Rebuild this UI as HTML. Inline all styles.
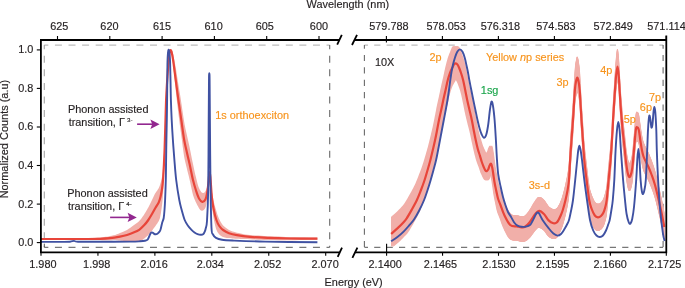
<!DOCTYPE html>
<html><head><meta charset="utf-8"><style>
html,body{margin:0;padding:0;background:#fff;}
svg{display:block;font-family:"Liberation Sans",sans-serif;will-change:transform;}
text{stroke-width:0.16px;paint-order:stroke;}
</style></head><body>
<svg width="685" height="288" viewBox="0 0 685 288">
<line x1="44.3" y1="45.1" x2="329.7" y2="45.1" stroke="#BDBDBD" stroke-width="1.1" stroke-dasharray="7 6.58" stroke-dashoffset="2.95"/>
<line x1="44.3" y1="45.1" x2="44.3" y2="247.3" stroke="#A5A5A5" stroke-width="1.1" stroke-dasharray="7 6.58" stroke-dashoffset="2.95"/>
<line x1="329.7" y1="45.1" x2="329.7" y2="247.3" stroke="#6A6A6A" stroke-width="1.1" stroke-dasharray="7 6.58" stroke-dashoffset="2.95"/>
<line x1="44.3" y1="247.3" x2="329.7" y2="247.3" stroke="#555555" stroke-width="1.0" stroke-dasharray="7 6.58" stroke-dashoffset="2.95"/>
<line x1="44.3" y1="247.3" x2="44.3" y2="243.70000000000002" stroke="#555555" stroke-width="1.0" stroke-dasharray="4 100" stroke-dashoffset="0"/>
<line x1="364.4" y1="45.1" x2="663.1" y2="45.1" stroke="#BDBDBD" stroke-width="1.1" stroke-dasharray="6.2 6.2" stroke-dashoffset="2.6"/>
<line x1="364.4" y1="45.1" x2="364.4" y2="247.3" stroke="#6A6A6A" stroke-width="1.1" stroke-dasharray="6.2 6.2" stroke-dashoffset="2.6"/>
<line x1="663.1" y1="45.1" x2="663.1" y2="247.3" stroke="#6A6A6A" stroke-width="1.1" stroke-dasharray="6.2 6.2" stroke-dashoffset="2.6"/>
<line x1="364.4" y1="247.3" x2="663.1" y2="247.3" stroke="#555555" stroke-width="1.0" stroke-dasharray="6.2 6.2" stroke-dashoffset="2.6"/>
<path d="M41.00,238.10 L45.46,238.10 L51.81,238.11 L59.25,238.11 L66.96,238.11 L74.15,238.11 L80.00,238.10 L84.55,237.99 L88.44,237.89 L91.81,237.80 L94.78,237.71 L97.47,237.61 L100.00,237.50 L102.25,237.26 L104.07,237.04 L105.62,236.84 L107.04,236.63 L108.45,236.39 L110.00,236.10 L111.70,235.76 L113.44,235.37 L115.19,234.93 L116.89,234.29 L118.51,233.68 L120.00,233.10 L121.35,232.57 L122.59,232.07 L123.75,231.59 L124.85,231.11 L125.93,230.51 L127.00,229.88 L128.06,229.22 L129.07,228.57 L130.05,227.91 L131.02,227.23 L132.00,226.53 L133.00,225.80 L134.03,225.07 L135.09,224.32 L136.16,223.55 L137.21,222.75 L138.23,221.91 L139.20,221.03 L140.13,220.06 L141.02,218.93 L141.89,217.76 L142.72,216.57 L143.53,215.38 L144.30,214.22 L145.03,213.08 L145.73,211.96 L146.39,210.84 L147.03,209.71 L147.66,208.55 L148.30,207.39 L148.94,206.22 L149.56,205.02 L150.18,203.79 L150.79,202.55 L151.40,201.31 L152.00,200.07 L152.60,198.83 L153.19,197.57 L153.77,196.31 L154.36,195.06 L154.93,193.83 L155.50,192.90 L156.08,192.05 L156.67,191.23 L157.26,190.42 L157.82,189.62 L158.34,188.80 L158.80,187.96 L159.19,187.12 L159.52,186.30 L159.81,185.46 L160.08,184.63 L160.33,183.81 L160.60,182.90 L160.87,181.89 L161.14,180.79 L161.41,179.61 L161.66,178.39 L161.89,177.15 L162.10,175.90 L162.28,174.71 L162.44,173.57 L162.59,172.41 L162.72,171.15 L162.86,169.70 L163.00,168.00 L163.15,166.16 L163.31,164.03 L163.47,161.72 L163.62,159.34 L163.77,156.99 L163.90,154.80 L164.02,152.75 L164.13,150.74 L164.23,148.77 L164.33,146.84 L164.42,144.92 L164.50,143.00 L164.58,141.19 L164.64,139.50 L164.70,137.84 L164.76,136.07 L164.82,134.10 L164.90,131.80 L164.99,129.11 L165.09,126.07 L165.19,122.81 L165.29,119.45 L165.40,116.09 L165.50,112.83 L165.60,109.60 L165.69,106.30 L165.79,103.00 L165.89,99.77 L165.99,96.69 L166.10,93.83 L166.22,91.22 L166.35,88.80 L166.48,86.53 L166.62,84.36 L166.76,82.26 L166.90,80.17 L167.05,78.11 L167.20,76.14 L167.35,74.23 L167.50,72.36 L167.65,70.51 L167.80,68.67 L167.94,66.78 L168.07,64.85 L168.21,62.93 L168.34,61.10 L168.47,59.40 L168.60,57.90 L168.73,56.59 L168.86,55.44 L168.99,54.42 L169.13,53.53 L169.26,52.76 L169.40,52.10 L169.54,51.55 L169.68,51.12 L169.83,50.81 L169.97,50.63 L170.13,50.20 L170.30,49.80 L170.48,49.47 L170.66,49.21 L170.86,49.06 L171.06,49.05 L171.27,49.22 L171.50,49.60 L171.73,49.89 L171.97,50.31 L172.22,50.90 L172.49,51.69 L172.78,52.71 L173.10,54.00 L173.46,55.63 L173.86,57.62 L174.27,59.85 L174.71,62.22 L175.16,64.62 L175.60,66.96 L176.05,69.35 L176.51,72.38 L176.97,75.46 L177.45,78.55 L177.92,81.61 L178.40,84.60 L178.88,87.51 L179.36,90.38 L179.84,93.22 L180.33,96.29 L180.82,99.47 L181.30,102.68 L181.79,105.98 L182.28,109.39 L182.77,112.81 L183.26,116.11 L183.73,119.20 L184.20,122.05 L184.65,124.63 L185.08,126.86 L185.51,128.88 L185.93,130.78 L186.36,132.68 L186.80,134.70 L187.25,136.77 L187.70,138.78 L188.15,140.78 L188.61,142.83 L189.10,144.99 L189.60,147.32 L190.14,149.93 L190.70,152.78 L191.29,155.75 L191.87,158.70 L192.45,161.50 L193.00,164.00 L193.52,166.62 L194.03,169.03 L194.53,171.27 L195.01,173.40 L195.50,175.46 L196.00,177.50 L196.50,179.53 L196.99,181.51 L197.48,183.43 L197.98,185.25 L198.48,186.71 L199.00,188.00 L199.53,189.15 L200.09,190.20 L200.64,191.12 L201.20,191.89 L201.76,192.51 L202.30,192.87 L202.84,193.01 L203.40,192.97 L203.94,192.78 L204.47,192.44 L204.96,191.96 L205.40,191.35 L205.78,190.58 L206.12,189.80 L206.42,189.12 L206.69,188.30 L206.95,187.39 L207.20,186.42 L207.44,185.35 L207.66,184.14 L207.86,182.82 L208.05,181.47 L208.23,180.12 L208.40,178.84 L208.56,177.60 L208.71,176.37 L208.84,175.13 L208.97,173.98 L209.09,172.99 L209.20,172.25 L209.30,171.72 L209.38,171.35 L209.46,171.13 L209.53,171.10 L209.61,171.25 L209.70,171.60 L209.80,171.63 L209.91,171.79 L210.02,172.12 L210.14,172.64 L210.27,173.38 L210.40,174.38 L210.54,175.77 L210.69,177.53 L210.84,179.53 L210.99,181.59 L211.15,183.61 L211.30,185.40 L211.44,186.96 L211.57,188.41 L211.71,189.78 L211.85,191.08 L212.01,192.35 L212.20,193.60 L212.41,194.84 L212.64,196.04 L212.89,197.21 L213.17,198.61 L213.47,200.18 L213.80,201.73 L214.17,203.32 L214.58,204.95 L215.02,206.58 L215.47,208.14 L215.94,209.59 L216.40,211.27 L216.86,212.82 L217.31,214.24 L217.78,215.56 L218.26,216.80 L218.76,218.00 L219.30,219.19 L219.86,220.33 L220.42,221.40 L221.01,222.43 L221.64,223.45 L222.33,224.49 L223.10,225.52 L223.94,226.29 L224.84,227.06 L225.79,227.82 L226.81,228.57 L227.88,229.29 L229.00,229.99 L230.14,230.62 L231.29,231.05 L232.50,231.46 L233.81,231.85 L235.26,232.25 L236.90,232.66 L238.73,233.09 L240.72,233.53 L242.85,233.97 L245.11,234.40 L247.50,234.69 L250.00,234.96 L252.60,235.20 L255.32,235.41 L258.16,235.61 L261.13,235.80 L264.24,235.98 L267.50,236.15 L270.90,236.32 L274.45,236.47 L278.13,236.62 L281.95,236.76 L285.91,236.88 L290.00,237.00 L294.60,237.11 L299.79,237.21 L305.11,237.31 L310.11,237.39 L314.36,237.45 L317.40,237.50 L317.40,239.90 L314.36,239.93 L310.11,239.99 L305.11,240.05 L299.79,240.11 L294.60,240.16 L290.00,240.19 L285.91,240.19 L281.95,240.18 L278.13,240.15 L274.45,240.11 L270.90,240.06 L267.50,239.99 L264.24,239.92 L261.13,239.83 L258.16,239.73 L255.32,239.61 L252.60,239.47 L250.00,239.31 L247.50,239.12 L245.11,238.89 L242.85,238.90 L240.72,238.89 L238.73,238.84 L236.90,238.78 L235.26,238.70 L233.81,238.59 L232.50,238.46 L231.29,238.29 L230.14,238.09 L229.00,238.06 L227.88,238.00 L226.81,237.89 L225.79,237.73 L224.84,237.51 L223.94,237.26 L223.10,236.96 L222.33,236.65 L221.64,236.31 L221.01,235.92 L220.42,235.48 L219.86,234.97 L219.30,234.39 L218.76,233.78 L218.26,233.17 L217.78,232.49 L217.31,231.71 L216.86,230.83 L216.40,229.80 L215.94,228.54 L215.47,226.79 L215.02,224.92 L214.58,223.01 L214.17,221.10 L213.80,219.27 L213.47,217.49 L213.17,215.72 L212.89,213.79 L212.64,211.62 L212.41,209.50 L212.20,207.40 L212.01,205.39 L211.85,203.47 L211.71,201.60 L211.57,199.70 L211.44,197.72 L211.30,195.60 L211.15,193.20 L210.99,190.55 L210.84,187.65 L210.69,184.84 L210.54,182.28 L210.40,180.15 L210.27,178.45 L210.14,177.03 L210.02,175.87 L209.91,174.93 L209.80,174.19 L209.70,173.60 L209.61,173.70 L209.53,173.95 L209.46,174.35 L209.38,174.94 L209.30,175.73 L209.20,176.75 L209.09,178.05 L208.97,179.63 L208.84,181.42 L208.71,183.33 L208.56,185.30 L208.40,187.16 L208.23,188.99 L208.05,190.90 L207.86,192.86 L207.66,194.83 L207.44,196.75 L207.20,198.58 L206.95,200.35 L206.69,202.08 L206.42,203.78 L206.12,205.42 L205.78,206.69 L205.40,207.65 L204.96,208.48 L204.47,209.20 L203.94,209.81 L203.40,210.27 L202.84,210.58 L202.30,210.73 L201.76,210.69 L201.20,210.49 L200.64,210.13 L200.09,209.63 L199.53,209.00 L199.00,208.25 L198.48,207.35 L197.98,206.30 L197.48,205.47 L196.99,204.54 L196.50,203.54 L196.00,202.50 L195.50,201.45 L195.01,200.37 L194.53,199.23 L194.03,197.97 L193.52,196.57 L193.00,195.00 L192.45,192.72 L191.87,190.15 L191.29,187.44 L190.70,184.70 L190.14,182.07 L189.60,179.68 L189.10,177.55 L188.61,175.58 L188.15,173.72 L187.70,171.93 L187.25,170.14 L186.80,168.30 L186.36,166.50 L185.93,164.81 L185.51,163.12 L185.08,161.32 L184.65,159.30 L184.20,156.95 L183.73,154.00 L183.26,150.55 L182.77,146.88 L182.28,143.10 L181.79,139.32 L181.30,135.65 L180.82,132.09 L180.33,128.54 L179.84,124.91 L179.36,121.10 L178.88,117.27 L178.40,113.40 L177.92,109.46 L177.45,105.45 L176.97,101.41 L176.51,97.40 L176.05,93.44 L175.60,89.20 L175.16,84.91 L174.71,80.55 L174.27,76.26 L173.86,72.19 L173.46,68.45 L173.10,65.20 L172.78,62.46 L172.49,60.13 L172.22,58.14 L171.97,56.43 L171.73,54.94 L171.50,53.60 L171.27,52.61 L171.06,51.87 L170.86,51.34 L170.66,50.98 L170.48,50.75 L170.30,50.60 L170.13,50.55 L169.97,50.71 L169.83,51.34 L169.68,52.08 L169.54,52.93 L169.40,53.90 L169.26,54.97 L169.13,56.15 L168.99,57.43 L168.86,58.85 L168.73,60.40 L168.60,62.10 L168.47,64.00 L168.34,66.09 L168.21,68.32 L168.07,70.63 L167.94,72.99 L167.80,75.33 L167.65,77.66 L167.50,80.01 L167.35,82.40 L167.20,84.82 L167.05,87.30 L166.90,89.83 L166.76,92.40 L166.62,94.97 L166.48,97.59 L166.35,100.31 L166.22,103.15 L166.10,106.17 L165.99,109.40 L165.89,112.82 L165.79,116.38 L165.69,119.99 L165.60,123.61 L165.50,127.17 L165.40,130.76 L165.29,134.48 L165.19,138.19 L165.09,141.78 L164.99,145.17 L164.90,148.35 L164.82,151.07 L164.76,153.40 L164.70,155.49 L164.64,157.48 L164.58,159.52 L164.50,161.75 L164.42,164.13 L164.33,166.54 L164.23,169.00 L164.13,171.53 L164.02,174.14 L163.90,176.85 L163.77,179.77 L163.62,182.91 L163.47,186.14 L163.31,189.32 L163.15,192.32 L163.00,195.00 L162.86,196.99 L162.72,198.70 L162.59,200.24 L162.44,201.69 L162.28,203.14 L162.10,204.70 L161.89,206.37 L161.66,208.08 L161.41,209.80 L161.14,211.50 L160.87,213.14 L160.60,214.70 L160.33,216.14 L160.08,217.47 L159.81,218.46 L159.52,219.30 L159.19,220.12 L158.80,220.96 L158.34,221.80 L157.82,222.62 L157.26,223.42 L156.67,224.23 L156.08,225.05 L155.50,225.90 L154.93,226.77 L154.36,227.54 L153.77,228.33 L153.19,229.12 L152.60,229.90 L152.00,230.67 L151.40,231.42 L150.79,232.18 L150.18,232.93 L149.56,233.66 L148.94,234.36 L148.30,235.02 L147.66,235.65 L147.03,236.24 L146.39,236.80 L145.73,237.37 L145.03,237.96 L144.30,238.53 L143.53,239.10 L142.72,239.67 L141.89,240.21 L141.02,240.71 L140.13,241.16 L139.20,241.40 L138.23,241.52 L137.21,241.56 L136.16,241.53 L135.09,241.47 L134.03,241.38 L133.00,241.30 L132.00,241.34 L131.02,241.37 L130.05,241.38 L129.07,241.37 L128.06,241.32 L127.00,241.25 L125.93,241.15 L124.85,241.03 L123.75,240.96 L122.59,240.87 L121.35,240.75 L120.00,240.60 L118.51,240.43 L116.89,240.24 L115.19,240.02 L113.44,240.12 L111.70,240.23 L110.00,240.30 L108.45,240.34 L107.04,240.35 L105.62,240.34 L104.07,240.29 L102.25,240.21 L100.00,240.10 L97.47,240.11 L94.78,240.10 L91.81,240.07 L88.44,240.03 L84.55,239.97 L80.00,239.90 L74.15,239.91 L66.96,239.91 L59.25,239.91 L51.81,239.91 L45.46,239.90 L41.00,239.90 Z" fill="#F1AFA9" stroke="none"/>
<clipPath id="rc"><rect x="391.1" y="30" width="274" height="222"/></clipPath><g clip-path="url(#rc)">
<path d="M388.90,218.70 L389.59,218.12 L390.54,217.31 L391.66,216.36 L392.87,215.32 L394.08,214.26 L395.20,213.24 L396.28,212.23 L397.39,211.16 L398.50,210.07 L399.57,209.00 L400.55,207.99 L401.40,207.09 L402.07,206.36 L402.59,205.80 L403.02,205.30 L403.43,204.77 L403.90,204.11 L404.50,203.21 L405.23,202.05 L406.05,200.71 L406.93,199.23 L407.83,197.68 L408.73,196.10 L409.60,194.54 L410.46,193.00 L411.34,191.42 L412.22,189.81 L413.09,188.19 L413.92,186.58 L414.70,184.98 L415.42,183.41 L416.09,181.85 L416.73,180.30 L417.35,178.73 L417.97,177.15 L418.60,175.54 L419.25,173.87 L419.90,172.16 L420.56,170.42 L421.20,168.67 L421.81,166.93 L422.40,165.23 L422.95,163.56 L423.47,161.91 L423.96,160.28 L424.44,158.65 L424.92,157.02 L425.40,155.38 L425.88,153.74 L426.36,152.09 L426.84,150.45 L427.30,148.81 L427.76,147.16 L428.20,145.52 L428.62,143.87 L429.03,142.23 L429.43,140.58 L429.82,138.93 L430.21,137.29 L430.60,135.64 L430.99,133.99 L431.39,132.35 L431.78,130.70 L432.16,129.05 L432.54,127.40 L432.90,125.75 L433.25,124.11 L433.59,122.46 L433.93,120.81 L434.25,119.16 L434.58,117.51 L434.90,115.85 L435.22,114.20 L435.53,112.55 L435.84,110.90 L436.15,109.25 L436.47,107.60 L436.80,105.95 L437.15,104.30 L437.51,102.65 L437.89,101.00 L438.26,99.33 L438.64,97.67 L439.00,96.00 L439.35,94.33 L439.70,92.67 L440.04,91.00 L440.39,89.33 L440.74,87.67 L441.10,86.00 L441.47,84.33 L441.86,82.67 L442.24,81.00 L442.63,79.33 L443.02,77.67 L443.40,76.00 L443.77,74.30 L444.14,72.57 L444.50,70.84 L444.86,69.14 L445.23,67.52 L445.60,66.00 L445.98,64.50 L446.36,62.98 L446.74,61.53 L447.12,60.14 L447.51,58.82 L447.90,57.55 L448.30,56.34 L448.72,55.19 L449.14,54.11 L449.56,53.09 L449.95,52.14 L450.30,51.25 L450.61,50.44 L450.89,49.70 L451.14,49.02 L451.39,48.41 L451.64,47.85 L451.90,47.35 L452.18,46.90 L452.46,46.50 L452.74,46.16 L453.03,46.06 L453.32,46.07 L453.60,46.14 L453.88,46.27 L454.17,46.47 L454.46,46.73 L454.74,47.05 L455.02,47.43 L455.30,47.85 L455.57,48.32 L455.82,48.83 L456.08,49.40 L456.33,50.03 L456.61,50.74 L456.90,51.53 L457.22,52.42 L457.57,53.42 L457.93,54.46 L458.30,55.50 L458.66,56.56 L459.00,57.62 L459.33,58.65 L459.64,59.66 L459.95,60.70 L460.26,61.79 L460.57,62.98 L460.90,64.31 L461.24,65.81 L461.59,67.45 L461.94,69.20 L462.30,70.99 L462.65,72.78 L463.00,74.52 L463.34,76.22 L463.66,77.92 L463.99,79.62 L464.31,81.32 L464.65,83.02 L465.00,84.72 L465.36,86.42 L465.74,88.13 L466.12,89.83 L466.51,91.54 L466.91,93.24 L467.30,94.95 L467.70,96.66 L468.11,98.33 L468.53,100.00 L468.94,101.67 L469.34,103.33 L469.73,105.00 L470.09,106.67 L470.43,108.33 L470.76,110.00 L471.09,111.67 L471.42,113.33 L471.76,115.00 L472.11,116.68 L472.46,118.37 L472.82,120.06 L473.17,121.74 L473.53,123.39 L473.90,125.00 L474.27,126.59 L474.64,128.16 L475.02,129.71 L475.39,131.21 L475.77,132.65 L476.15,134.00 L476.52,135.24 L476.91,136.39 L477.29,137.46 L477.67,138.50 L478.04,139.54 L478.39,140.60 L478.73,141.60 L479.06,142.56 L479.38,143.53 L479.70,144.48 L480.02,145.39 L480.34,146.25 L480.69,147.07 L481.04,147.87 L481.40,148.63 L481.75,149.35 L482.08,150.01 L482.39,150.62 L482.68,151.16 L482.95,151.67 L483.20,152.11 L483.45,152.50 L483.69,152.83 L483.93,153.09 L484.18,153.29 L484.41,153.43 L484.64,153.52 L484.88,153.60 L485.12,153.60 L485.37,153.53 L485.63,153.36 L485.91,153.11 L486.19,152.78 L486.48,152.39 L486.75,151.95 L487.01,151.47 L487.25,150.91 L487.47,150.25 L487.68,149.54 L487.89,148.84 L488.11,148.18 L488.34,147.64 L488.59,147.14 L488.84,146.64 L489.11,146.19 L489.37,145.86 L489.63,145.70 L489.88,145.87 L490.11,146.41 L490.34,147.18 L490.57,148.12 L490.79,149.19 L491.00,150.31 L491.21,151.43 L491.41,152.59 L491.60,153.84 L491.79,155.15 L491.97,156.49 L492.15,157.84 L492.34,159.17 L492.52,160.48 L492.69,161.80 L492.87,163.12 L493.05,164.46 L493.25,165.82 L493.46,167.20 L493.71,168.61 L493.97,170.05 L494.24,171.51 L494.52,172.99 L494.81,174.47 L495.10,175.97 L495.39,177.49 L495.68,179.04 L495.97,180.59 L496.27,182.04 L496.60,183.46 L496.95,184.81 L497.32,186.06 L497.70,187.19 L498.10,188.29 L498.53,189.43 L499.00,190.67 L499.51,192.10 L500.05,193.73 L500.62,195.51 L501.22,197.41 L501.87,199.36 L502.58,201.34 L503.36,203.28 L504.22,205.27 L505.16,207.21 L506.16,209.14 L507.20,210.96 L508.27,212.54 L509.34,213.76 L510.45,214.55 L511.62,214.99 L512.81,215.20 L513.99,215.28 L515.11,215.30 L516.13,215.40 L517.04,215.60 L517.88,215.79 L518.66,215.97 L519.39,216.12 L520.10,216.24 L520.79,216.30 L521.43,216.34 L522.01,216.38 L522.57,216.38 L523.12,216.30 L523.70,216.12 L524.33,215.80 L525.02,215.21 L525.73,214.51 L526.47,213.70 L527.24,212.77 L528.05,211.72 L528.89,210.53 L529.82,209.10 L530.83,207.41 L531.87,205.60 L532.90,203.82 L533.88,202.20 L534.75,200.88 L535.50,199.83 L536.14,198.93 L536.74,198.19 L537.31,197.61 L537.92,197.20 L538.59,196.97 L539.34,196.94 L540.14,197.24 L540.96,197.74 L541.79,198.38 L542.63,199.11 L543.44,199.90 L544.23,200.83 L545.03,201.95 L545.81,203.16 L546.60,204.37 L547.39,205.49 L548.19,206.40 L549.01,207.13 L549.86,207.77 L550.71,208.30 L551.54,208.73 L552.32,209.07 L553.03,209.30 L553.67,209.41 L554.25,209.40 L554.78,209.29 L555.27,209.11 L555.73,208.87 L556.16,208.60 L556.56,208.30 L556.91,207.94 L557.23,207.54 L557.54,207.08 L557.85,206.57 L558.18,206.00 L558.54,205.37 L558.91,204.68 L559.29,203.93 L559.66,203.14 L560.04,202.25 L560.40,201.33 L560.75,200.43 L561.09,199.56 L561.42,198.66 L561.76,197.69 L562.12,196.58 L562.50,195.30 L562.92,193.79 L563.38,192.08 L563.85,190.24 L564.32,188.34 L564.78,186.45 L565.20,184.63 L565.59,182.86 L565.97,181.10 L566.33,179.34 L566.67,177.59 L567.00,175.84 L567.30,174.10 L567.58,172.48 L567.83,171.00 L568.06,169.53 L568.28,167.93 L568.49,166.05 L568.70,163.75 L568.90,160.95 L569.08,157.73 L569.25,154.24 L569.42,150.61 L569.60,146.97 L569.80,143.48 L570.01,140.09 L570.24,136.70 L570.48,133.31 L570.71,129.91 L570.96,126.52 L571.20,123.13 L571.44,119.85 L571.68,116.71 L571.92,113.45 L572.17,110.03 L572.43,106.33 L572.70,102.20 L573.00,97.29 L573.33,91.66 L573.67,85.74 L574.00,79.97 L574.32,74.81 L574.60,70.68 L574.84,67.71 L575.05,65.56 L575.24,64.00 L575.43,62.83 L575.61,61.81 L575.80,60.72 L576.00,59.59 L576.20,58.60 L576.40,57.77 L576.60,57.10 L576.80,56.79 L577.00,56.84 L577.20,57.11 L577.40,57.58 L577.60,58.24 L577.80,59.08 L578.00,60.07 L578.20,61.20 L578.40,62.47 L578.61,63.89 L578.82,65.47 L579.02,67.21 L579.22,69.10 L579.40,71.16 L579.57,73.45 L579.72,75.97 L579.87,78.66 L580.01,81.43 L580.15,84.19 L580.30,86.88 L580.44,89.44 L580.58,91.92 L580.72,94.40 L580.86,96.96 L581.02,99.67 L581.20,102.60 L581.40,105.81 L581.63,109.24 L581.87,112.75 L582.11,116.30 L582.36,119.86 L582.60,123.34 L582.82,126.75 L583.03,130.17 L583.24,133.58 L583.47,137.00 L583.71,140.42 L584.00,143.86 L584.33,147.32 L584.69,150.79 L585.08,154.27 L585.48,157.75 L585.89,161.24 L586.30,164.72 L586.72,168.35 L587.16,172.14 L587.60,175.93 L588.04,179.56 L588.48,182.87 L588.90,185.70 L589.29,187.95 L589.65,189.72 L590.01,191.08 L590.37,192.24 L590.76,193.37 L591.20,194.59 L591.69,195.93 L592.23,197.29 L592.80,198.60 L593.38,199.83 L593.95,200.91 L594.50,201.79 L595.03,202.46 L595.55,202.95 L596.06,203.30 L596.57,203.53 L597.09,203.68 L597.60,203.77 L598.12,203.79 L598.66,203.72 L599.19,203.55 L599.71,203.31 L600.22,202.91 L600.70,202.47 L601.16,201.97 L601.60,201.42 L602.03,200.80 L602.44,200.13 L602.83,199.41 L603.20,198.63 L603.55,197.80 L603.87,196.91 L604.17,195.97 L604.46,194.98 L604.73,193.96 L605.00,192.89 L605.25,191.93 L605.48,191.09 L605.69,190.21 L605.91,189.12 L606.14,187.68 L606.40,185.71 L606.70,182.97 L607.03,179.55 L607.38,175.76 L607.71,171.94 L608.03,168.39 L608.30,165.45 L608.52,163.18 L608.70,161.33 L608.86,159.75 L609.00,158.32 L609.14,156.89 L609.30,155.32 L609.47,153.63 L609.64,151.94 L609.82,150.25 L609.99,148.56 L610.15,146.87 L610.30,145.19 L610.43,143.62 L610.53,142.19 L610.63,140.77 L610.73,139.20 L610.85,137.36 L611.00,135.09 L611.19,132.20 L611.42,128.74 L611.67,125.00 L611.91,121.17 L612.13,117.61 L612.30,114.64 L612.42,112.33 L612.49,110.45 L612.54,108.87 L612.58,107.44 L612.63,106.00 L612.70,104.40 L612.79,102.79 L612.89,101.32 L612.99,99.85 L613.11,98.23 L613.25,96.32 L613.40,93.98 L613.58,91.06 L613.79,87.63 L614.02,83.92 L614.25,80.14 L614.48,76.49 L614.70,73.20 L614.90,70.21 L615.10,67.34 L615.30,64.62 L615.50,62.05 L615.70,59.66 L615.90,57.48 L616.11,55.38 L616.33,53.31 L616.55,51.43 L616.77,49.95 L616.99,49.12 L617.20,48.90 L617.41,49.38 L617.62,50.46 L617.83,52.01 L618.03,53.88 L618.22,55.93 L618.40,58.02 L618.56,60.18 L618.71,62.53 L618.84,65.06 L618.98,67.75 L619.13,70.59 L619.30,73.56 L619.50,76.84 L619.72,80.48 L619.95,84.26 L620.18,87.98 L620.40,91.41 L620.60,94.34 L620.77,96.69 L620.93,98.61 L621.08,100.25 L621.22,101.75 L621.36,103.25 L621.50,104.88 L621.64,106.63 L621.76,108.34 L621.89,110.02 L622.01,111.71 L622.15,113.39 L622.30,115.07 L622.47,116.76 L622.64,118.45 L622.83,120.14 L623.02,121.83 L623.21,123.52 L623.40,125.21 L623.58,126.88 L623.76,128.52 L623.94,130.16 L624.13,131.82 L624.31,133.54 L624.50,135.35 L624.69,137.28 L624.88,139.32 L625.07,141.42 L625.27,143.52 L625.48,145.57 L625.70,147.50 L625.93,149.37 L626.18,151.23 L626.43,153.04 L626.69,154.75 L626.95,156.31 L627.20,157.69 L627.45,158.89 L627.70,159.96 L627.94,160.89 L628.19,161.66 L628.44,162.26 L628.70,162.67 L628.96,162.92 L629.22,162.99 L629.49,162.89 L629.76,162.61 L630.03,162.08 L630.30,161.37 L630.58,160.54 L630.86,159.60 L631.14,158.48 L631.43,157.14 L631.72,155.50 L632.00,153.51 L632.28,151.08 L632.56,148.24 L632.84,145.11 L633.13,141.80 L633.41,138.44 L633.70,135.14 L634.00,131.66 L634.31,127.85 L634.62,123.98 L634.93,120.33 L635.22,117.17 L635.50,114.76 L635.75,113.20 L635.99,112.30 L636.21,111.89 L636.43,111.79 L636.66,111.84 L636.90,111.94 L637.16,112.03 L637.42,112.24 L637.69,112.60 L637.97,113.13 L638.24,113.87 L638.50,114.84 L638.75,116.12 L639.00,117.72 L639.25,119.52 L639.50,121.42 L639.75,123.32 L640.00,125.12 L640.26,126.87 L640.53,128.68 L640.79,130.49 L641.06,132.24 L641.33,133.90 L641.60,135.42 L641.86,136.76 L642.10,137.98 L642.34,139.09 L642.60,140.14 L642.88,141.17 L643.20,142.22 L643.56,143.27 L643.97,144.29 L644.39,145.29 L644.83,146.24 L645.27,147.12 L645.70,148.00 L646.11,148.83 L646.51,149.61 L646.92,150.38 L647.33,151.17 L647.75,152.03 L648.20,153.00 L648.67,154.07 L649.14,155.20 L649.64,156.41 L650.14,157.69 L650.67,159.05 L651.20,160.50 L651.75,162.02 L652.32,163.59 L652.90,165.24 L653.49,167.01 L654.09,168.92 L654.70,171.00 L655.33,173.33 L655.97,175.90 L656.63,178.62 L657.28,181.37 L657.91,184.07 L658.50,186.60 L659.05,188.97 L659.58,191.24 L660.08,193.46 L660.57,195.64 L661.04,197.82 L661.50,200.00 L661.97,202.34 L662.46,204.84 L662.94,207.34 L663.37,209.64 L663.73,211.59 L664.00,213.00 L664.00,239.07 L663.73,237.69 L663.37,235.78 L662.94,233.51 L662.46,231.07 L661.97,228.61 L661.50,226.32 L661.04,224.18 L660.57,222.06 L660.08,219.92 L659.58,217.76 L659.05,215.53 L658.50,213.22 L657.91,210.75 L657.28,208.12 L656.63,205.43 L655.97,202.78 L655.33,200.27 L654.70,198.00 L654.09,195.98 L653.49,194.13 L652.90,192.42 L652.32,190.83 L651.75,189.31 L651.20,187.85 L650.67,186.45 L650.14,185.14 L649.64,183.91 L649.14,182.76 L648.67,181.67 L648.20,180.65 L647.75,179.72 L647.33,178.90 L646.92,178.15 L646.51,177.43 L646.11,176.69 L645.70,175.90 L645.27,175.07 L644.83,174.23 L644.39,173.34 L643.97,172.43 L643.56,171.48 L643.20,170.50 L642.88,169.52 L642.60,168.54 L642.34,167.53 L642.10,166.46 L641.86,165.30 L641.60,164.00 L641.33,162.54 L641.06,160.93 L640.79,159.22 L640.53,157.46 L640.26,155.71 L640.00,154.00 L639.75,152.25 L639.50,150.39 L639.25,148.54 L639.00,146.79 L638.75,145.24 L638.50,144.00 L638.24,143.08 L637.97,142.39 L637.69,141.91 L637.42,141.61 L637.16,141.45 L636.90,141.40 L636.66,141.33 L636.43,141.24 L636.21,141.29 L635.99,141.65 L635.75,142.50 L635.50,144.00 L635.22,146.35 L634.93,149.45 L634.62,153.04 L634.31,156.84 L634.00,160.58 L633.70,164.00 L633.41,167.24 L633.13,170.54 L632.84,173.78 L632.56,176.85 L632.28,179.63 L632.00,182.00 L631.72,183.93 L631.43,185.51 L631.14,186.79 L630.86,187.85 L630.58,188.73 L630.30,189.50 L630.03,190.15 L629.76,190.62 L629.49,190.92 L629.22,191.05 L628.96,191.01 L628.70,190.80 L628.44,190.41 L628.19,189.84 L627.94,189.11 L627.70,188.21 L627.45,187.17 L627.20,186.00 L626.95,184.66 L626.69,183.13 L626.43,181.45 L626.18,179.67 L625.93,177.84 L625.70,176.00 L625.48,174.09 L625.27,172.07 L625.07,170.00 L624.88,167.93 L624.69,165.91 L624.50,164.00 L624.31,162.22 L624.13,160.52 L623.94,158.88 L623.76,157.26 L623.58,155.64 L623.40,154.00 L623.21,152.33 L623.02,150.67 L622.83,149.00 L622.64,147.33 L622.47,145.67 L622.30,144.00 L622.15,142.33 L622.01,140.67 L621.89,139.00 L621.76,137.33 L621.64,135.68 L621.50,134.04 L621.36,132.52 L621.22,131.13 L621.08,129.75 L620.93,128.23 L620.77,126.43 L620.60,124.22 L620.40,121.45 L620.18,118.19 L619.95,114.66 L619.72,111.06 L619.50,107.60 L619.30,104.48 L619.13,101.65 L618.98,98.93 L618.84,96.35 L618.71,93.92 L618.56,91.69 L618.40,89.66 L618.22,87.72 L618.03,85.82 L617.83,84.11 L617.62,82.73 L617.41,81.81 L617.20,81.50 L616.99,81.89 L616.77,82.90 L616.55,84.31 L616.33,86.01 L616.11,87.91 L615.90,89.84 L615.70,91.86 L615.50,94.09 L615.30,96.49 L615.10,99.07 L614.90,101.78 L614.70,104.60 L614.48,107.72 L614.25,111.18 L614.02,114.78 L613.79,118.31 L613.58,121.56 L613.40,124.34 L613.25,126.55 L613.11,128.36 L612.99,129.88 L612.89,131.27 L612.79,132.67 L612.70,134.20 L612.63,135.74 L612.58,137.14 L612.54,138.54 L612.49,140.08 L612.42,141.90 L612.30,144.12 L612.13,146.96 L611.91,150.34 L611.67,154.00 L611.42,157.69 L611.19,161.10 L611.00,163.96 L610.85,166.20 L610.73,168.03 L610.63,169.57 L610.53,170.98 L610.43,172.39 L610.30,173.93 L610.15,175.59 L609.99,177.25 L609.82,178.91 L609.64,180.56 L609.47,182.22 L609.30,183.88 L609.14,185.42 L609.00,186.83 L608.86,188.23 L608.70,189.78 L608.52,191.60 L608.30,193.83 L608.03,196.72 L607.71,200.21 L607.38,203.97 L607.03,207.69 L606.70,211.05 L606.40,213.73 L606.14,215.66 L605.91,217.06 L605.69,218.11 L605.48,218.95 L605.25,219.75 L605.00,220.66 L604.73,221.68 L604.46,222.66 L604.17,223.59 L603.87,224.48 L603.55,225.31 L603.20,226.07 L602.83,226.78 L602.44,227.43 L602.03,228.03 L601.60,228.57 L601.16,229.04 L600.70,229.45 L600.22,229.81 L599.71,230.11 L599.19,230.41 L598.66,230.64 L598.12,230.78 L597.60,230.83 L597.09,230.80 L596.57,230.71 L596.06,230.54 L595.55,230.25 L595.03,229.82 L594.50,229.21 L593.95,228.40 L593.38,227.39 L592.80,226.23 L592.23,224.99 L591.69,223.69 L591.20,222.41 L590.76,221.24 L590.37,220.16 L590.01,219.04 L589.65,217.75 L589.29,216.15 L588.90,214.10 L588.48,211.48 L588.04,208.39 L587.60,204.98 L587.16,201.41 L586.72,197.84 L586.30,194.43 L585.89,191.14 L585.48,187.86 L585.08,184.58 L584.69,181.29 L584.33,178.00 L584.00,174.71 L583.71,171.41 L583.47,168.11 L583.24,164.81 L583.03,161.50 L582.82,158.19 L582.60,154.89 L582.36,151.53 L582.11,148.10 L581.87,144.67 L581.63,141.30 L581.40,138.04 L581.20,135.00 L581.02,132.21 L580.86,129.63 L580.72,127.19 L580.58,124.81 L580.44,122.44 L580.30,120.00 L580.15,117.43 L580.01,114.78 L579.87,112.12 L579.72,109.56 L579.57,107.15 L579.40,105.00 L579.22,103.09 L579.02,101.35 L578.82,99.78 L578.61,98.36 L578.40,97.11 L578.20,96.00 L578.00,95.03 L577.80,94.20 L577.60,93.53 L577.40,93.02 L577.20,92.71 L577.00,92.60 L576.80,92.71 L576.60,93.02 L576.40,93.53 L576.20,94.20 L576.00,95.03 L575.80,96.00 L575.61,96.93 L575.43,97.81 L575.24,98.84 L575.05,100.24 L574.84,102.22 L574.60,105.00 L574.32,108.90 L574.00,113.81 L573.67,119.31 L573.33,124.96 L573.00,130.34 L572.70,135.00 L572.43,138.91 L572.17,142.41 L571.92,145.62 L571.68,148.70 L571.44,151.78 L571.20,155.00 L570.96,158.33 L570.71,161.67 L570.48,165.00 L570.24,168.33 L570.01,171.67 L569.80,175.00 L569.60,178.45 L569.42,182.04 L569.25,185.62 L569.08,189.07 L568.90,192.25 L568.70,195.00 L568.49,197.25 L568.28,199.07 L568.06,200.62 L567.83,202.04 L567.58,203.45 L567.30,205.00 L567.00,206.67 L566.67,208.33 L566.33,210.00 L565.97,211.67 L565.59,213.33 L565.20,215.00 L564.78,216.72 L564.32,218.50 L563.85,220.28 L563.38,222.00 L562.92,223.59 L562.50,225.00 L562.12,226.19 L561.76,227.20 L561.42,228.09 L561.09,228.91 L560.75,229.69 L560.40,230.50 L560.04,231.33 L559.66,232.15 L559.29,232.97 L558.91,233.76 L558.54,234.49 L558.18,235.15 L557.85,235.75 L557.54,236.29 L557.23,236.78 L556.91,237.22 L556.56,237.61 L556.16,237.95 L555.73,238.26 L555.27,238.55 L554.78,238.78 L554.25,238.94 L553.67,239.01 L553.03,238.96 L552.32,238.80 L551.54,238.54 L550.71,238.19 L549.86,237.74 L549.01,237.19 L548.19,236.54 L547.39,235.70 L546.60,234.67 L545.81,233.54 L545.03,232.40 L544.23,231.36 L543.44,230.51 L542.63,229.80 L541.79,229.15 L540.96,228.60 L540.14,228.18 L539.34,227.89 L538.59,227.65 L537.92,227.65 L537.31,227.84 L536.74,228.22 L536.14,228.75 L535.50,229.43 L534.75,230.22 L533.88,231.23 L532.90,232.51 L531.87,233.92 L530.83,235.35 L529.82,236.67 L528.89,237.75 L528.05,238.62 L527.24,239.36 L526.47,240.00 L525.73,240.53 L525.02,240.96 L524.33,241.30 L523.70,241.60 L523.12,241.76 L522.57,241.82 L522.01,241.80 L521.43,241.75 L520.79,241.68 L520.10,241.60 L519.39,241.46 L518.66,241.28 L517.88,241.08 L517.04,240.86 L516.13,240.63 L515.11,240.49 L513.99,240.45 L512.81,240.39 L511.62,240.20 L510.45,239.78 L509.34,239.01 L508.27,237.77 L507.20,236.16 L506.16,234.31 L505.16,232.35 L504.22,230.39 L503.36,228.56 L502.58,226.80 L501.87,224.99 L501.22,223.18 L500.62,221.43 L500.05,219.78 L499.51,218.27 L499.00,216.96 L498.53,215.83 L498.10,214.79 L497.70,213.78 L497.32,212.74 L496.95,211.58 L496.60,210.30 L496.27,208.96 L495.97,207.58 L495.68,206.12 L495.39,204.66 L495.10,203.23 L494.81,201.83 L494.52,200.44 L494.24,199.06 L493.97,197.69 L493.71,196.34 L493.46,195.00 L493.25,193.69 L493.05,192.39 L492.87,191.11 L492.69,189.85 L492.52,188.59 L492.34,187.33 L492.15,186.06 L491.97,184.77 L491.79,183.49 L491.60,182.25 L491.41,181.06 L491.21,179.97 L491.00,178.91 L490.79,177.86 L490.57,176.86 L490.34,175.99 L490.11,175.30 L489.88,174.83 L489.63,174.63 L489.37,174.66 L489.11,174.86 L488.84,175.19 L488.59,175.56 L488.34,175.94 L488.11,176.37 L487.89,176.92 L487.68,177.52 L487.47,178.13 L487.25,178.68 L487.01,179.12 L486.75,179.47 L486.48,179.78 L486.19,180.03 L485.91,180.23 L485.63,180.34 L485.37,180.38 L485.12,180.33 L484.88,180.21 L484.64,180.01 L484.41,179.91 L484.18,179.75 L483.93,179.53 L483.69,179.25 L483.45,178.91 L483.20,178.50 L482.95,178.03 L482.68,177.50 L482.39,176.93 L482.08,176.30 L481.75,175.61 L481.40,174.86 L481.04,174.07 L480.69,173.25 L480.34,172.40 L480.02,171.51 L479.70,170.57 L479.38,169.60 L479.06,168.61 L478.73,167.62 L478.39,166.62 L478.04,165.63 L477.67,164.66 L477.29,163.69 L476.91,162.68 L476.52,161.61 L476.15,160.44 L475.77,159.16 L475.39,157.80 L475.02,156.36 L474.64,154.88 L474.27,153.38 L473.90,151.86 L473.53,150.32 L473.17,148.74 L472.82,147.13 L472.46,145.50 L472.11,143.87 L471.76,142.26 L471.42,140.66 L471.09,139.05 L470.76,137.45 L470.43,135.84 L470.09,134.24 L469.73,132.64 L469.34,131.04 L468.94,129.45 L468.53,127.86 L468.11,126.27 L467.70,124.68 L467.30,123.05 L466.91,121.42 L466.51,119.80 L466.12,118.17 L465.74,116.54 L465.36,114.91 L465.00,113.28 L464.65,111.65 L464.31,110.02 L463.99,108.38 L463.66,106.75 L463.34,105.11 L463.00,103.48 L462.65,101.81 L462.30,100.09 L461.94,98.37 L461.59,96.70 L461.24,95.12 L460.90,93.69 L460.57,92.43 L460.26,91.30 L459.95,90.27 L459.64,89.29 L459.33,88.34 L459.00,87.38 L458.66,86.39 L458.30,85.40 L457.93,84.43 L457.57,83.55 L457.22,82.77 L456.90,82.07 L456.61,81.46 L456.33,80.91 L456.08,80.44 L455.82,80.02 L455.57,79.66 L455.30,79.35 L455.02,79.09 L454.74,78.89 L454.46,78.74 L454.17,78.65 L453.88,78.62 L453.60,78.66 L453.32,78.76 L453.03,78.92 L452.74,79.11 L452.46,79.23 L452.18,79.40 L451.90,79.63 L451.64,79.92 L451.39,80.28 L451.14,80.70 L450.89,81.17 L450.61,81.69 L450.30,82.25 L449.95,82.85 L449.56,83.49 L449.14,84.18 L448.72,84.93 L448.30,85.74 L447.90,86.63 L447.51,87.64 L447.12,88.73 L446.74,89.89 L446.36,91.11 L445.98,92.41 L445.60,93.78 L445.23,95.26 L444.86,96.85 L444.50,98.51 L444.14,100.20 L443.77,101.90 L443.40,103.56 L443.02,105.19 L442.63,106.82 L442.24,108.44 L441.86,110.07 L441.47,111.70 L441.10,113.33 L440.74,114.96 L440.39,116.59 L440.04,118.22 L439.70,119.86 L439.35,121.49 L439.00,123.12 L438.64,124.75 L438.26,126.38 L437.89,128.01 L437.51,129.67 L437.15,131.33 L436.80,133.00 L436.47,134.67 L436.15,136.33 L435.84,138.00 L435.53,139.67 L435.22,141.33 L434.90,143.00 L434.58,144.67 L434.25,146.33 L433.93,148.00 L433.59,149.67 L433.25,151.33 L432.90,153.00 L432.54,154.67 L432.16,156.33 L431.78,158.00 L431.39,159.67 L430.99,161.33 L430.60,163.00 L430.21,164.67 L429.82,166.33 L429.43,168.00 L429.03,169.67 L428.62,171.33 L428.20,173.00 L427.76,174.67 L427.30,176.33 L426.84,178.00 L426.36,179.67 L425.88,181.33 L425.40,183.00 L424.92,184.66 L424.44,186.31 L423.96,187.97 L423.47,189.63 L422.95,191.30 L422.40,193.00 L421.81,194.73 L421.20,196.50 L420.56,198.28 L419.90,200.06 L419.25,201.80 L418.60,203.50 L417.97,205.14 L417.35,206.74 L416.73,208.31 L416.09,209.86 L415.42,211.42 L414.70,213.00 L413.92,214.60 L413.09,216.23 L412.22,217.85 L411.34,219.46 L410.46,221.05 L409.60,222.60 L408.73,224.16 L407.83,225.74 L406.93,227.31 L406.05,228.79 L405.23,230.14 L404.50,231.30 L403.90,232.20 L403.43,232.87 L403.02,233.41 L402.59,233.91 L402.07,234.47 L401.40,235.20 L400.55,236.11 L399.57,237.12 L398.50,238.20 L397.39,239.30 L396.28,240.38 L395.20,241.40 L394.08,242.42 L392.87,243.49 L391.66,244.54 L390.54,245.50 L389.59,246.31 L388.90,246.90 Z" fill="#F1AFA9" stroke="none"/>
<path d="M390.00,218.70 L390.69,218.12 L391.64,217.31 L392.76,216.36 L393.97,215.32 L395.18,214.26 L396.30,213.24 L397.38,212.23 L398.49,211.16 L399.60,210.07 L400.67,209.00 L401.65,207.99 L402.50,207.09 L403.17,206.36 L403.69,205.80 L404.12,205.30 L404.53,204.77 L405.00,204.11 L405.60,203.21 L406.33,202.05 L407.15,200.71 L408.02,199.23 L408.93,197.68 L409.83,196.10 L410.70,194.54 L411.56,193.00 L412.44,191.42 L413.32,189.81 L414.19,188.19 L415.02,186.58 L415.80,184.98 L416.52,183.41 L417.19,181.85 L417.83,180.30 L418.45,178.73 L419.07,177.15 L419.70,175.54 L420.35,173.87 L421.00,172.16 L421.66,170.42 L422.30,168.67 L422.91,166.93 L423.50,165.23 L424.05,163.56 L424.57,161.91 L425.06,160.28 L425.54,158.65 L426.02,157.02 L426.50,155.38 L426.98,153.74 L427.46,152.09 L427.94,150.45 L428.40,148.81 L428.86,147.16 L429.30,145.52 L429.72,143.87 L430.13,142.23 L430.53,140.58 L430.92,138.93 L431.31,137.29 L431.70,135.64 L432.09,133.99 L432.49,132.35 L432.88,130.70 L433.26,129.05 L433.64,127.40 L434.00,125.75 L434.35,124.11 L434.69,122.46 L435.03,120.81 L435.35,119.16 L435.68,117.51 L436.00,115.85 L436.32,114.20 L436.63,112.55 L436.94,110.90 L437.25,109.25 L437.57,107.60 L437.90,105.95 L438.25,104.30 L438.61,102.65 L438.99,101.00 L439.36,99.33 L439.74,97.67 L440.10,96.00 L440.45,94.33 L440.80,92.67 L441.14,91.00 L441.49,89.33 L441.84,87.67 L442.20,86.00 L442.57,84.33 L442.96,82.67 L443.34,81.00 L443.73,79.33 L444.12,77.67 L444.50,76.00 L444.87,74.30 L445.24,72.57 L445.60,70.84 L445.96,69.14 L446.33,67.52 L446.70,66.00 L447.08,64.50 L447.46,62.98 L447.84,61.53 L448.22,60.14 L448.61,58.82 L449.00,57.55 L449.40,56.34 L449.82,55.19 L450.24,54.11 L450.66,53.09 L451.05,52.14 L451.40,51.25 L451.71,50.44 L451.99,49.70 L452.24,49.02 L452.49,48.41 L452.74,47.85 L453.00,47.35 L453.28,46.90 L453.56,46.50 L453.84,46.16 L454.13,46.06 L454.42,46.07 L454.70,46.14 L454.98,46.27 L455.27,46.47 L455.56,46.73 L455.84,47.05 L456.12,47.43 L456.40,47.85 L456.67,48.32 L456.92,48.83 L457.18,49.40 L457.43,50.03 L457.71,50.74 L458.00,51.53 L458.32,52.42 L458.67,53.42 L459.03,54.46 L459.40,55.50 L459.76,56.56 L460.10,57.62 L460.43,58.65 L460.74,59.66 L461.05,60.70 L461.36,61.79 L461.67,62.98 L462.00,64.31 L462.34,65.81 L462.69,67.45 L463.04,69.20 L463.40,70.99 L463.75,72.78 L464.10,74.52 L464.44,76.22 L464.76,77.92 L465.09,79.62 L465.41,81.32 L465.75,83.02 L466.10,84.72 L466.47,86.42 L466.84,88.13 L467.23,89.83 L467.62,91.54 L468.01,93.24 L468.40,94.95 L468.79,96.66 L469.20,98.33 L469.60,100.00 L470.00,101.67 L470.39,103.33 L470.76,105.00 L471.11,106.67 L471.44,108.33 L471.76,110.00 L472.08,111.67 L472.40,113.33 L472.73,115.00 L473.07,116.68 L473.41,118.37 L473.75,120.06 L474.10,121.74 L474.45,123.39 L474.80,125.00 L475.16,126.59 L475.52,128.16 L475.88,129.71 L476.24,131.21 L476.61,132.65 L476.97,134.00 L477.34,135.24 L477.71,136.39 L478.08,137.46 L478.44,138.50 L478.80,139.54 L479.15,140.60 L479.48,141.60 L479.80,142.56 L480.12,143.53 L480.43,144.48 L480.75,145.39 L481.07,146.25 L481.41,147.07 L481.76,147.87 L482.11,148.63 L482.46,149.35 L482.79,150.01 L483.10,150.62 L483.38,151.16 L483.64,151.67 L483.89,152.11 L484.14,152.50 L484.37,152.83 L484.62,153.09 L484.86,153.29 L485.09,153.43 L485.32,153.52 L485.55,153.60 L485.79,153.60 L486.03,153.53 L486.30,153.36 L486.57,153.11 L486.85,152.78 L487.13,152.39 L487.40,151.95 L487.65,151.47 L487.89,150.91 L488.11,150.25 L488.32,149.54 L488.53,148.84 L488.74,148.18 L488.97,147.64 L489.21,147.14 L489.47,146.64 L489.73,146.19 L489.99,145.86 L490.24,145.70 L490.49,145.87 L490.72,146.41 L490.95,147.18 L491.17,148.12 L491.39,149.19 L491.60,150.31 L491.80,151.43 L492.00,152.59 L492.19,153.84 L492.37,155.15 L492.55,156.49 L492.74,157.84 L492.92,159.17 L493.10,160.48 L493.27,161.80 L493.44,163.12 L493.62,164.46 L493.82,165.82 L494.03,167.20 L494.27,168.61 L494.53,170.05 L494.80,171.51 L495.08,172.99 L495.36,174.47 L495.65,175.97 L495.94,177.49 L496.22,179.04 L496.51,180.59 L496.81,182.04 L497.13,183.46 L497.47,184.81 L497.84,186.06 L498.22,187.19 L498.61,188.29 L499.04,189.43 L499.50,190.67 L500.00,192.10 L500.54,193.73 L501.10,195.51 L501.70,197.40 L502.35,199.36 L503.05,201.33 L503.83,203.28 L504.69,205.27 L505.62,207.21 L506.62,209.14 L507.65,210.96 L508.71,212.54 L509.77,213.76 L510.87,214.55 L512.03,214.99 L513.22,215.20 L514.39,215.28 L515.50,215.30 L516.51,215.40 L517.42,215.60 L518.25,215.79 L519.03,215.97 L519.76,216.12 L520.46,216.24 L521.14,216.30 L521.78,216.34 L522.36,216.38 L522.91,216.38 L523.46,216.30 L524.03,216.12 L524.67,215.80 L525.35,215.21 L526.05,214.51 L526.79,213.70 L527.55,212.77 L528.35,211.72 L529.20,210.54 L530.12,209.10 L531.12,207.41 L532.16,205.60 L533.18,203.82 L534.16,202.20 L535.03,200.88 L535.77,199.83 L536.41,198.93 L537.00,198.19 L537.57,197.61 L538.17,197.20 L538.85,196.97 L539.59,196.94 L540.38,197.24 L541.20,197.74 L542.03,198.38 L542.86,199.11 L543.67,199.90 L544.46,200.83 L545.25,201.95 L546.03,203.16 L546.81,204.37 L547.60,205.49 L548.39,206.40 L549.21,207.13 L550.06,207.77 L550.91,208.30 L551.73,208.73 L552.51,209.07 L553.22,209.30 L553.85,209.41 L554.42,209.40 L554.95,209.29 L555.44,209.11 L555.90,208.87 L556.33,208.60 L556.73,208.30 L557.08,207.94 L557.39,207.54 L557.70,207.08 L558.01,206.57 L558.34,206.00 L558.70,205.37 L559.07,204.68 L559.44,203.93 L559.81,203.14 L560.19,202.25 L560.55,201.33 L560.90,200.43 L561.24,199.56 L561.57,198.66 L561.91,197.69 L562.27,196.58 L562.65,195.30 L563.07,193.79 L563.53,192.08 L564.00,190.24 L564.47,188.34 L564.93,186.45 L565.35,184.63 L565.74,182.86 L566.12,181.10 L566.48,179.34 L566.82,177.59 L567.15,175.84 L567.45,174.10 L567.73,172.48 L567.98,171.00 L568.21,169.53 L568.43,167.93 L568.64,166.05 L568.85,163.75 L569.05,160.95 L569.23,157.73 L569.40,154.24 L569.57,150.61 L569.75,146.97 L569.95,143.48 L570.16,140.09 L570.39,136.70 L570.62,133.31 L570.86,129.91 L571.11,126.52 L571.35,123.13 L571.59,119.85 L571.83,116.71 L572.07,113.45 L572.32,110.03 L572.58,106.33 L572.85,102.20 L573.15,97.29 L573.48,91.66 L573.82,85.74 L574.15,79.97 L574.47,74.81 L574.75,70.68 L574.99,67.71 L575.20,65.56 L575.39,64.00 L575.58,62.83 L575.76,61.81 L575.95,60.72 L576.15,59.59 L576.35,58.60 L576.55,57.77 L576.75,57.10 L576.95,56.79 L577.15,56.84 L577.35,57.11 L577.55,57.58 L577.75,58.24 L577.95,59.08 L578.15,60.07 L578.35,61.20 L578.55,62.47 L578.76,63.89 L578.97,65.47 L579.17,67.21 L579.37,69.10 L579.55,71.16 L579.72,73.45 L579.87,75.97 L580.02,78.66 L580.16,81.43 L580.30,84.19 L580.45,86.88 L580.59,89.44 L580.73,91.92 L580.87,94.40 L581.01,96.96 L581.17,99.67 L581.35,102.60 L581.55,105.81 L581.78,109.24 L582.02,112.75 L582.26,116.30 L582.51,119.86 L582.75,123.34 L582.97,126.75 L583.18,130.17 L583.39,133.58 L583.62,137.00 L583.86,140.42 L584.15,143.86 L584.48,147.32 L584.84,150.79 L585.23,154.27 L585.63,157.75 L586.04,161.24 L586.45,164.72 L586.87,168.35 L587.31,172.14 L587.75,175.93 L588.19,179.56 L588.63,182.87 L589.05,185.70 L589.44,187.95 L589.80,189.72 L590.16,191.08 L590.52,192.24 L590.91,193.37 L591.35,194.59 L591.84,195.93 L592.38,197.29 L592.95,198.60 L593.53,199.83 L594.10,200.91 L594.65,201.79 L595.18,202.46 L595.70,202.95 L596.21,203.30 L596.72,203.53 L597.24,203.68 L597.75,203.77 L598.27,203.79 L598.81,203.72 L599.34,203.55 L599.86,203.31 L600.37,202.91 L600.85,202.47 L601.31,201.97 L601.75,201.42 L602.18,200.80 L602.59,200.13 L602.98,199.41 L603.35,198.63 L603.70,197.80 L604.02,196.91 L604.32,195.97 L604.61,194.98 L604.88,193.96 L605.15,192.89 L605.40,191.93 L605.63,191.09 L605.84,190.21 L606.06,189.12 L606.29,187.68 L606.55,185.71 L606.85,182.97 L607.18,179.55 L607.52,175.76 L607.86,171.94 L608.18,168.39 L608.45,165.45 L608.67,163.18 L608.85,161.33 L609.01,159.75 L609.15,158.32 L609.29,156.89 L609.45,155.32 L609.62,153.63 L609.79,151.94 L609.97,150.25 L610.14,148.56 L610.30,146.87 L610.45,145.19 L610.58,143.62 L610.68,142.19 L610.78,140.77 L610.88,139.20 L611.00,137.36 L611.15,135.09 L611.34,132.20 L611.57,128.74 L611.82,125.00 L612.06,121.17 L612.28,117.61 L612.45,114.64 L612.57,112.33 L612.64,110.45 L612.69,108.87 L612.73,107.44 L612.78,106.00 L612.85,104.40 L612.94,102.79 L613.04,101.32 L613.14,99.85 L613.26,98.23 L613.40,96.32 L613.55,93.98 L613.73,91.06 L613.94,87.63 L614.17,83.92 L614.40,80.14 L614.63,76.49 L614.85,73.20 L615.05,70.21 L615.25,67.34 L615.45,64.62 L615.65,62.05 L615.85,59.66 L616.05,57.48 L616.26,55.38 L616.48,53.31 L616.70,51.43 L616.92,49.95 L617.14,49.12 L617.35,48.90 L617.56,49.38 L617.77,50.46 L617.98,52.01 L618.18,53.88 L618.37,55.93 L618.55,58.02 L618.71,60.18 L618.86,62.53 L618.99,65.06 L619.13,67.75 L619.28,70.59 L619.45,73.56 L619.65,76.84 L619.87,80.48 L620.10,84.26 L620.33,87.98 L620.55,91.41 L620.75,94.34 L620.92,96.69 L621.08,98.61 L621.23,100.25 L621.37,101.75 L621.51,103.25 L621.65,104.88 L621.79,106.63 L621.91,108.34 L622.04,110.02 L622.16,111.71 L622.30,113.39 L622.45,115.07 L622.62,116.76 L622.79,118.45 L622.98,120.14 L623.17,121.83 L623.36,123.52 L623.55,125.21 L623.73,126.88 L623.91,128.52 L624.09,130.16 L624.28,131.82 L624.46,133.54 L624.65,135.35 L624.84,137.28 L625.03,139.32 L625.23,141.42 L625.42,143.52 L625.63,145.57 L625.85,147.50 L626.08,149.37 L626.33,151.23 L626.58,153.04 L626.84,154.75 L627.10,156.31 L627.35,157.69 L627.60,158.89 L627.85,159.96 L628.09,160.89 L628.34,161.66 L628.59,162.26 L628.85,162.67 L629.11,162.92 L629.37,162.99 L629.64,162.89 L629.91,162.61 L630.18,162.08 L630.45,161.37 L630.73,160.54 L631.01,159.60 L631.29,158.48 L631.58,157.14 L631.87,155.50 L632.15,153.51 L632.43,151.08 L632.71,148.24 L632.99,145.11 L633.28,141.80 L633.56,138.44 L633.85,135.14 L634.15,131.66 L634.46,127.85 L634.77,123.98 L635.08,120.33 L635.37,117.17 L635.65,114.76 L635.90,113.20 L636.14,112.30 L636.36,111.89 L636.58,111.79 L636.81,111.84 L637.05,111.94 L637.31,112.03 L637.57,112.24 L637.84,112.60 L638.12,113.13 L638.39,113.87 L638.65,114.84 L638.90,116.12 L639.15,117.72 L639.40,119.52 L639.65,121.42 L639.90,123.32 L640.15,125.12 L640.41,126.87 L640.68,128.68 L640.94,130.49 L641.21,132.24 L641.48,133.90 L641.75,135.42 L642.01,136.76 L642.25,137.98 L642.49,139.09 L642.75,140.14 L643.03,141.17 L643.35,142.22 L643.71,143.27 L644.12,144.29 L644.54,145.29 L644.98,146.24 L645.42,147.12 L645.85,148.00 L646.26,148.83 L646.66,149.61 L647.07,150.38 L647.48,151.17 L647.90,152.03 L648.35,153.00 L648.82,154.07 L649.29,155.20 L649.79,156.41 L650.29,157.69 L650.82,159.05 L651.35,160.50 L651.90,162.02 L652.47,163.59 L653.05,165.24 L653.64,167.01 L654.24,168.92 L654.85,171.00 L655.48,173.33 L656.12,175.90 L656.78,178.62 L657.43,181.37 L658.06,184.07 L658.65,186.60 L659.20,188.97 L659.73,191.24 L660.23,193.46 L660.72,195.64 L661.19,197.82 L661.65,200.00 L662.12,202.34 L662.61,204.84 L663.09,207.34 L663.52,209.64 L663.88,211.59 L664.15,213.00 L664.15,239.07 L663.88,237.69 L663.52,235.78 L663.09,233.51 L662.61,231.07 L662.12,228.61 L661.65,226.32 L661.19,224.18 L660.72,222.06 L660.23,219.92 L659.73,217.76 L659.20,215.53 L658.65,213.22 L658.06,210.75 L657.43,208.12 L656.78,205.43 L656.12,202.78 L655.48,200.27 L654.85,198.00 L654.24,195.98 L653.64,194.13 L653.05,192.42 L652.47,190.83 L651.90,189.31 L651.35,187.85 L650.82,186.45 L650.29,185.14 L649.79,183.91 L649.29,182.76 L648.82,181.67 L648.35,180.65 L647.90,179.72 L647.48,178.90 L647.07,178.15 L646.66,177.43 L646.26,176.69 L645.85,175.90 L645.42,175.07 L644.98,174.23 L644.54,173.34 L644.12,172.43 L643.71,171.48 L643.35,170.50 L643.03,169.52 L642.75,168.54 L642.49,167.53 L642.25,166.46 L642.01,165.30 L641.75,164.00 L641.48,162.54 L641.21,160.93 L640.94,159.22 L640.68,157.46 L640.41,155.71 L640.15,154.00 L639.90,152.25 L639.65,150.39 L639.40,148.54 L639.15,146.79 L638.90,145.24 L638.65,144.00 L638.39,143.08 L638.12,142.39 L637.84,141.91 L637.57,141.61 L637.31,141.45 L637.05,141.40 L636.81,141.33 L636.58,141.24 L636.36,141.29 L636.14,141.65 L635.90,142.50 L635.65,144.00 L635.37,146.35 L635.08,149.45 L634.77,153.04 L634.46,156.84 L634.15,160.58 L633.85,164.00 L633.56,167.24 L633.28,170.54 L632.99,173.78 L632.71,176.85 L632.43,179.63 L632.15,182.00 L631.87,183.93 L631.58,185.51 L631.29,186.79 L631.01,187.85 L630.73,188.73 L630.45,189.50 L630.18,190.15 L629.91,190.62 L629.64,190.92 L629.37,191.05 L629.11,191.01 L628.85,190.80 L628.59,190.41 L628.34,189.84 L628.09,189.11 L627.85,188.21 L627.60,187.17 L627.35,186.00 L627.10,184.66 L626.84,183.13 L626.58,181.45 L626.33,179.67 L626.08,177.84 L625.85,176.00 L625.63,174.09 L625.42,172.07 L625.23,170.00 L625.03,167.93 L624.84,165.91 L624.65,164.00 L624.46,162.22 L624.28,160.52 L624.09,158.88 L623.91,157.26 L623.73,155.64 L623.55,154.00 L623.36,152.33 L623.17,150.67 L622.98,149.00 L622.79,147.33 L622.62,145.67 L622.45,144.00 L622.30,142.33 L622.16,140.67 L622.04,139.00 L621.91,137.33 L621.79,135.68 L621.65,134.04 L621.51,132.52 L621.37,131.13 L621.23,129.75 L621.08,128.23 L620.92,126.43 L620.75,124.22 L620.55,121.45 L620.33,118.19 L620.10,114.66 L619.87,111.06 L619.65,107.60 L619.45,104.48 L619.28,101.65 L619.13,98.93 L618.99,96.35 L618.86,93.92 L618.71,91.69 L618.55,89.66 L618.37,87.72 L618.18,85.82 L617.98,84.11 L617.77,82.73 L617.56,81.81 L617.35,81.50 L617.14,81.89 L616.92,82.90 L616.70,84.31 L616.48,86.01 L616.26,87.91 L616.05,89.84 L615.85,91.86 L615.65,94.09 L615.45,96.49 L615.25,99.07 L615.05,101.78 L614.85,104.60 L614.63,107.72 L614.40,111.18 L614.17,114.78 L613.94,118.31 L613.73,121.56 L613.55,124.34 L613.40,126.55 L613.26,128.36 L613.14,129.88 L613.04,131.27 L612.94,132.67 L612.85,134.20 L612.78,135.74 L612.73,137.14 L612.69,138.54 L612.64,140.08 L612.57,141.90 L612.45,144.12 L612.28,146.96 L612.06,150.34 L611.82,154.00 L611.57,157.69 L611.34,161.10 L611.15,163.96 L611.00,166.20 L610.88,168.03 L610.78,169.57 L610.68,170.98 L610.58,172.39 L610.45,173.93 L610.30,175.59 L610.14,177.25 L609.97,178.91 L609.79,180.56 L609.62,182.22 L609.45,183.88 L609.29,185.42 L609.15,186.83 L609.01,188.23 L608.85,189.78 L608.67,191.60 L608.45,193.83 L608.18,196.72 L607.86,200.21 L607.52,203.97 L607.18,207.69 L606.85,211.05 L606.55,213.73 L606.29,215.66 L606.06,217.06 L605.84,218.11 L605.63,218.95 L605.40,219.75 L605.15,220.66 L604.88,221.68 L604.61,222.66 L604.32,223.59 L604.02,224.48 L603.70,225.31 L603.35,226.07 L602.98,226.78 L602.59,227.43 L602.18,228.03 L601.75,228.57 L601.31,229.04 L600.85,229.45 L600.37,229.81 L599.86,230.11 L599.34,230.41 L598.81,230.64 L598.27,230.78 L597.75,230.83 L597.24,230.80 L596.72,230.71 L596.21,230.54 L595.70,230.25 L595.18,229.82 L594.65,229.21 L594.10,228.40 L593.53,227.39 L592.95,226.23 L592.38,224.99 L591.84,223.69 L591.35,222.41 L590.91,221.24 L590.52,220.16 L590.16,219.04 L589.80,217.75 L589.44,216.15 L589.05,214.10 L588.63,211.48 L588.19,208.39 L587.75,204.98 L587.31,201.41 L586.87,197.84 L586.45,194.43 L586.04,191.14 L585.63,187.86 L585.23,184.58 L584.84,181.29 L584.48,178.00 L584.15,174.71 L583.86,171.41 L583.62,168.11 L583.39,164.81 L583.18,161.50 L582.97,158.19 L582.75,154.89 L582.51,151.53 L582.26,148.10 L582.02,144.67 L581.78,141.30 L581.55,138.04 L581.35,135.00 L581.17,132.21 L581.01,129.63 L580.87,127.19 L580.73,124.81 L580.59,122.44 L580.45,120.00 L580.30,117.43 L580.16,114.78 L580.02,112.12 L579.87,109.56 L579.72,107.15 L579.55,105.00 L579.37,103.09 L579.17,101.35 L578.97,99.78 L578.76,98.36 L578.55,97.11 L578.35,96.00 L578.15,95.03 L577.95,94.20 L577.75,93.53 L577.55,93.02 L577.35,92.71 L577.15,92.60 L576.95,92.71 L576.75,93.02 L576.55,93.53 L576.35,94.20 L576.15,95.03 L575.95,96.00 L575.76,96.93 L575.58,97.81 L575.39,98.84 L575.20,100.24 L574.99,102.22 L574.75,105.00 L574.47,108.90 L574.15,113.81 L573.82,119.31 L573.48,124.96 L573.15,130.34 L572.85,135.00 L572.58,138.91 L572.32,142.41 L572.07,145.62 L571.83,148.70 L571.59,151.78 L571.35,155.00 L571.11,158.33 L570.86,161.67 L570.62,165.00 L570.39,168.33 L570.16,171.67 L569.95,175.00 L569.75,178.45 L569.57,182.04 L569.40,185.62 L569.23,189.07 L569.05,192.25 L568.85,195.00 L568.64,197.25 L568.43,199.07 L568.21,200.62 L567.98,202.04 L567.73,203.45 L567.45,205.00 L567.15,206.67 L566.82,208.33 L566.48,210.00 L566.12,211.67 L565.74,213.33 L565.35,215.00 L564.93,216.72 L564.47,218.50 L564.00,220.28 L563.53,222.00 L563.07,223.59 L562.65,225.00 L562.27,226.19 L561.91,227.20 L561.57,228.09 L561.24,228.91 L560.90,229.69 L560.55,230.50 L560.19,231.33 L559.81,232.15 L559.44,232.97 L559.07,233.76 L558.70,234.49 L558.34,235.15 L558.01,235.75 L557.70,236.29 L557.39,236.78 L557.08,237.22 L556.73,237.61 L556.33,237.95 L555.90,238.26 L555.44,238.55 L554.95,238.78 L554.42,238.94 L553.85,239.01 L553.22,238.96 L552.51,238.80 L551.73,238.54 L550.91,238.19 L550.06,237.74 L549.21,237.19 L548.39,236.54 L547.60,235.70 L546.81,234.67 L546.03,233.54 L545.25,232.40 L544.46,231.36 L543.67,230.51 L542.86,229.80 L542.03,229.15 L541.20,228.60 L540.38,228.18 L539.59,227.89 L538.85,227.65 L538.17,227.65 L537.57,227.84 L537.00,228.22 L536.41,228.75 L535.77,229.43 L535.03,230.22 L534.16,231.23 L533.18,232.51 L532.16,233.92 L531.12,235.35 L530.12,236.67 L529.20,237.75 L528.35,238.61 L527.55,239.36 L526.79,240.00 L526.05,240.53 L525.35,240.96 L524.67,241.30 L524.03,241.60 L523.46,241.76 L522.91,241.82 L522.36,241.80 L521.78,241.75 L521.14,241.68 L520.46,241.60 L519.76,241.46 L519.03,241.28 L518.25,241.08 L517.42,240.86 L516.51,240.63 L515.50,240.49 L514.39,240.45 L513.22,240.39 L512.03,240.20 L510.87,239.78 L509.77,239.01 L508.71,237.77 L507.65,236.16 L506.62,234.31 L505.62,232.35 L504.69,230.39 L503.83,228.56 L503.05,226.80 L502.35,224.99 L501.70,223.18 L501.10,221.43 L500.54,219.78 L500.00,218.27 L499.50,216.96 L499.04,215.83 L498.61,214.79 L498.22,213.78 L497.84,212.73 L497.47,211.58 L497.13,210.30 L496.81,208.96 L496.51,207.58 L496.22,206.12 L495.94,204.66 L495.65,203.23 L495.36,201.83 L495.08,200.44 L494.80,199.06 L494.53,197.69 L494.27,196.34 L494.03,195.00 L493.82,193.69 L493.62,192.39 L493.44,191.11 L493.27,189.85 L493.10,188.59 L492.92,187.33 L492.74,186.06 L492.55,184.77 L492.37,183.49 L492.19,182.25 L492.00,181.06 L491.80,179.97 L491.60,178.91 L491.39,177.86 L491.17,176.86 L490.95,175.99 L490.72,175.30 L490.49,174.83 L490.24,174.63 L489.99,174.66 L489.73,174.86 L489.47,175.19 L489.21,175.56 L488.97,175.94 L488.74,176.37 L488.53,176.92 L488.32,177.52 L488.11,178.13 L487.89,178.68 L487.65,179.12 L487.40,179.47 L487.13,179.78 L486.85,180.03 L486.57,180.23 L486.30,180.34 L486.03,180.38 L485.79,180.33 L485.55,180.21 L485.32,180.01 L485.09,179.91 L484.86,179.75 L484.62,179.53 L484.37,179.25 L484.14,178.91 L483.89,178.50 L483.64,178.03 L483.38,177.50 L483.10,176.93 L482.79,176.30 L482.46,175.61 L482.11,174.86 L481.76,174.07 L481.41,173.25 L481.07,172.40 L480.75,171.51 L480.43,170.57 L480.12,169.60 L479.80,168.61 L479.48,167.62 L479.15,166.62 L478.80,165.63 L478.44,164.66 L478.08,163.69 L477.71,162.68 L477.34,161.61 L476.97,160.44 L476.61,159.16 L476.24,157.80 L475.88,156.36 L475.52,154.88 L475.16,153.38 L474.80,151.86 L474.45,150.32 L474.10,148.74 L473.75,147.13 L473.41,145.50 L473.07,143.87 L472.73,142.26 L472.40,140.66 L472.08,139.05 L471.76,137.45 L471.44,135.84 L471.11,134.24 L470.76,132.64 L470.39,131.05 L470.00,129.45 L469.60,127.86 L469.20,126.28 L468.79,124.68 L468.40,123.05 L468.01,121.42 L467.62,119.79 L467.23,118.17 L466.84,116.54 L466.47,114.91 L466.10,113.28 L465.75,111.65 L465.41,110.02 L465.09,108.38 L464.76,106.75 L464.44,105.11 L464.10,103.48 L463.75,101.81 L463.40,100.09 L463.04,98.37 L462.69,96.70 L462.34,95.12 L462.00,93.69 L461.67,92.43 L461.36,91.30 L461.05,90.27 L460.74,89.29 L460.43,88.34 L460.10,87.38 L459.76,86.39 L459.40,85.40 L459.03,84.43 L458.67,83.55 L458.32,82.77 L458.00,82.07 L457.71,81.46 L457.43,80.91 L457.18,80.44 L456.92,80.02 L456.67,79.66 L456.40,79.35 L456.12,79.09 L455.84,78.89 L455.56,78.74 L455.27,78.65 L454.98,78.62 L454.70,78.66 L454.42,78.76 L454.13,78.92 L453.84,79.11 L453.56,79.23 L453.28,79.40 L453.00,79.63 L452.74,79.92 L452.49,80.28 L452.24,80.70 L451.99,81.17 L451.71,81.69 L451.40,82.25 L451.05,82.85 L450.66,83.49 L450.24,84.18 L449.82,84.93 L449.40,85.74 L449.00,86.63 L448.61,87.64 L448.22,88.73 L447.84,89.89 L447.46,91.11 L447.08,92.41 L446.70,93.78 L446.33,95.26 L445.96,96.85 L445.60,98.51 L445.24,100.20 L444.87,101.90 L444.50,103.56 L444.12,105.19 L443.73,106.82 L443.34,108.44 L442.96,110.07 L442.57,111.70 L442.20,113.33 L441.84,114.96 L441.49,116.59 L441.14,118.22 L440.80,119.86 L440.45,121.49 L440.10,123.12 L439.74,124.75 L439.36,126.38 L438.99,128.01 L438.61,129.67 L438.25,131.33 L437.90,133.00 L437.57,134.67 L437.25,136.33 L436.94,138.00 L436.63,139.67 L436.32,141.33 L436.00,143.00 L435.68,144.67 L435.35,146.33 L435.03,148.00 L434.69,149.67 L434.35,151.33 L434.00,153.00 L433.64,154.67 L433.26,156.33 L432.88,158.00 L432.49,159.67 L432.09,161.33 L431.70,163.00 L431.31,164.67 L430.92,166.33 L430.53,168.00 L430.13,169.67 L429.72,171.33 L429.30,173.00 L428.86,174.67 L428.40,176.33 L427.94,178.00 L427.46,179.67 L426.98,181.33 L426.50,183.00 L426.02,184.66 L425.54,186.31 L425.06,187.97 L424.57,189.63 L424.05,191.30 L423.50,193.00 L422.91,194.73 L422.30,196.50 L421.66,198.28 L421.00,200.06 L420.35,201.80 L419.70,203.50 L419.07,205.14 L418.45,206.74 L417.83,208.31 L417.19,209.86 L416.52,211.42 L415.80,213.00 L415.02,214.60 L414.19,216.23 L413.32,217.85 L412.44,219.46 L411.56,221.05 L410.70,222.60 L409.83,224.16 L408.93,225.74 L408.02,227.31 L407.15,228.79 L406.33,230.14 L405.60,231.30 L405.00,232.20 L404.53,232.87 L404.12,233.41 L403.69,233.91 L403.17,234.47 L402.50,235.20 L401.65,236.11 L400.67,237.12 L399.60,238.20 L398.49,239.30 L397.38,240.38 L396.30,241.40 L395.18,242.42 L393.97,243.49 L392.76,244.54 L391.64,245.50 L390.69,246.31 L390.00,246.90 Z" fill="#F1AFA9" stroke="none"/>
<path d="M391.10,218.70 L391.79,218.12 L392.74,217.31 L393.86,216.36 L395.07,215.32 L396.28,214.26 L397.40,213.24 L398.48,212.23 L399.59,211.16 L400.70,210.07 L401.77,209.00 L402.75,207.99 L403.60,207.09 L404.27,206.36 L404.79,205.80 L405.22,205.30 L405.63,204.77 L406.10,204.11 L406.70,203.21 L407.43,202.05 L408.25,200.71 L409.13,199.23 L410.03,197.68 L410.93,196.10 L411.80,194.54 L412.66,193.00 L413.54,191.42 L414.43,189.81 L415.29,188.19 L416.12,186.58 L416.90,184.98 L417.62,183.41 L418.29,181.85 L418.93,180.30 L419.55,178.73 L420.17,177.15 L420.80,175.54 L421.45,173.87 L422.10,172.16 L422.76,170.42 L423.40,168.67 L424.01,166.93 L424.60,165.23 L425.15,163.56 L425.67,161.91 L426.16,160.28 L426.64,158.65 L427.12,157.02 L427.60,155.38 L428.08,153.74 L428.56,152.09 L429.04,150.45 L429.50,148.81 L429.96,147.16 L430.40,145.52 L430.82,143.87 L431.23,142.23 L431.63,140.58 L432.02,138.93 L432.41,137.29 L432.80,135.64 L433.19,133.99 L433.59,132.35 L433.97,130.70 L434.36,129.05 L434.74,127.40 L435.10,125.75 L435.45,124.11 L435.79,122.46 L436.13,120.81 L436.45,119.16 L436.78,117.51 L437.10,115.85 L437.42,114.20 L437.73,112.55 L438.04,110.90 L438.35,109.25 L438.67,107.60 L439.00,105.95 L439.35,104.30 L439.71,102.65 L440.09,101.00 L440.46,99.33 L440.84,97.67 L441.20,96.00 L441.55,94.33 L441.90,92.67 L442.24,91.00 L442.59,89.33 L442.94,87.67 L443.30,86.00 L443.67,84.33 L444.06,82.67 L444.44,81.00 L444.83,79.33 L445.22,77.67 L445.60,76.00 L445.97,74.30 L446.34,72.57 L446.70,70.84 L447.06,69.14 L447.43,67.52 L447.80,66.00 L448.18,64.50 L448.56,62.98 L448.94,61.53 L449.32,60.14 L449.71,58.82 L450.10,57.55 L450.50,56.34 L450.92,55.19 L451.34,54.11 L451.76,53.09 L452.15,52.14 L452.50,51.25 L452.81,50.44 L453.09,49.70 L453.34,49.02 L453.59,48.41 L453.84,47.85 L454.10,47.35 L454.38,46.90 L454.66,46.50 L454.94,46.16 L455.23,46.06 L455.52,46.07 L455.80,46.14 L456.08,46.27 L456.37,46.47 L456.66,46.73 L456.94,47.05 L457.22,47.43 L457.50,47.85 L457.77,48.32 L458.02,48.83 L458.28,49.40 L458.53,50.03 L458.81,50.74 L459.10,51.53 L459.42,52.42 L459.77,53.42 L460.13,54.46 L460.50,55.50 L460.86,56.56 L461.20,57.62 L461.53,58.65 L461.84,59.66 L462.15,60.70 L462.46,61.79 L462.77,62.98 L463.10,64.31 L463.44,65.81 L463.79,67.45 L464.14,69.20 L464.50,70.99 L464.85,72.78 L465.20,74.52 L465.54,76.22 L465.86,77.92 L466.19,79.62 L466.51,81.32 L466.85,83.02 L467.20,84.72 L467.57,86.42 L467.94,88.13 L468.33,89.83 L468.72,91.54 L469.11,93.24 L469.50,94.95 L469.89,96.66 L470.28,98.33 L470.68,100.00 L471.06,101.67 L471.44,103.33 L471.80,105.00 L472.14,106.67 L472.46,108.33 L472.77,110.00 L473.07,111.67 L473.38,113.33 L473.70,115.00 L474.03,116.68 L474.36,118.37 L474.69,120.06 L475.02,121.74 L475.36,123.39 L475.70,125.00 L476.04,126.59 L476.39,128.16 L476.74,129.71 L477.10,131.21 L477.45,132.65 L477.80,134.00 L478.15,135.24 L478.51,136.39 L478.86,137.46 L479.21,138.50 L479.56,139.54 L479.90,140.60 L480.23,141.60 L480.54,142.57 L480.86,143.53 L481.17,144.48 L481.48,145.39 L481.80,146.25 L482.13,147.07 L482.48,147.87 L482.83,148.63 L483.17,149.35 L483.49,150.01 L483.80,150.62 L484.08,151.16 L484.34,151.67 L484.59,152.11 L484.83,152.50 L485.06,152.83 L485.30,153.09 L485.54,153.29 L485.77,153.43 L485.99,153.52 L486.22,153.60 L486.46,153.60 L486.70,153.53 L486.96,153.36 L487.23,153.11 L487.51,152.78 L487.78,152.39 L488.05,151.95 L488.30,151.47 L488.53,150.91 L488.75,150.25 L488.96,149.54 L489.16,148.84 L489.38,148.18 L489.60,147.64 L489.84,147.14 L490.09,146.64 L490.35,146.19 L490.61,145.86 L490.86,145.70 L491.10,145.87 L491.33,146.41 L491.56,147.18 L491.78,148.12 L491.99,149.19 L492.20,150.31 L492.40,151.43 L492.59,152.59 L492.78,153.84 L492.96,155.15 L493.14,156.49 L493.32,157.84 L493.50,159.17 L493.68,160.48 L493.85,161.80 L494.02,163.12 L494.20,164.46 L494.39,165.82 L494.60,167.20 L494.84,168.61 L495.09,170.05 L495.36,171.51 L495.63,172.99 L495.92,174.47 L496.20,175.97 L496.48,177.49 L496.76,179.04 L497.04,180.59 L497.34,182.04 L497.66,183.46 L498.00,184.81 L498.36,186.05 L498.73,187.19 L499.12,188.29 L499.54,189.42 L500.00,190.67 L500.50,192.09 L501.03,193.72 L501.59,195.51 L502.19,197.40 L502.83,199.36 L503.53,201.33 L504.30,203.28 L505.15,205.27 L506.08,207.21 L507.07,209.14 L508.10,210.96 L509.15,212.54 L510.20,213.76 L511.29,214.55 L512.45,214.99 L513.63,215.20 L514.79,215.28 L515.90,215.30 L516.90,215.40 L517.80,215.60 L518.63,215.79 L519.40,215.97 L520.13,216.12 L520.82,216.24 L521.50,216.30 L522.14,216.34 L522.71,216.38 L523.26,216.38 L523.80,216.30 L524.37,216.12 L525.00,215.80 L525.68,215.21 L526.38,214.51 L527.11,213.70 L527.87,212.77 L528.66,211.72 L529.50,210.54 L530.41,209.10 L531.41,207.41 L532.44,205.60 L533.47,203.82 L534.43,202.20 L535.30,200.88 L536.04,199.83 L536.68,198.93 L537.26,198.19 L537.83,197.61 L538.43,197.20 L539.10,196.97 L539.84,196.94 L540.63,197.24 L541.44,197.74 L542.27,198.38 L543.09,199.11 L543.90,199.90 L544.69,200.83 L545.47,201.95 L546.25,203.16 L547.03,204.37 L547.81,205.49 L548.60,206.40 L549.41,207.13 L550.26,207.77 L551.10,208.30 L551.92,208.73 L552.70,209.07 L553.40,209.30 L554.03,209.41 L554.60,209.40 L555.12,209.29 L555.61,209.11 L556.07,208.87 L556.50,208.60 L556.89,208.30 L557.24,207.94 L557.56,207.54 L557.86,207.08 L558.17,206.57 L558.50,206.00 L558.86,205.37 L559.22,204.68 L559.59,203.93 L559.97,203.14 L560.34,202.25 L560.70,201.33 L561.05,200.43 L561.39,199.56 L561.72,198.66 L562.06,197.69 L562.42,196.58 L562.80,195.30 L563.22,193.79 L563.68,192.08 L564.15,190.24 L564.62,188.34 L565.08,186.45 L565.50,184.63 L565.89,182.86 L566.27,181.10 L566.63,179.34 L566.97,177.59 L567.30,175.84 L567.60,174.10 L567.88,172.48 L568.13,171.00 L568.36,169.53 L568.58,167.93 L568.79,166.05 L569.00,163.75 L569.20,160.95 L569.38,157.73 L569.55,154.24 L569.72,150.61 L569.90,146.97 L570.10,143.48 L570.31,140.09 L570.54,136.70 L570.77,133.31 L571.01,129.91 L571.26,126.52 L571.50,123.13 L571.74,119.85 L571.98,116.71 L572.22,113.45 L572.47,110.03 L572.73,106.33 L573.00,102.20 L573.30,97.29 L573.63,91.66 L573.97,85.74 L574.30,79.97 L574.62,74.81 L574.90,70.68 L575.14,67.71 L575.35,65.56 L575.54,64.00 L575.73,62.83 L575.91,61.81 L576.10,60.72 L576.30,59.59 L576.50,58.60 L576.70,57.77 L576.90,57.10 L577.10,56.79 L577.30,56.84 L577.50,57.11 L577.70,57.58 L577.90,58.24 L578.10,59.08 L578.30,60.07 L578.50,61.20 L578.70,62.47 L578.91,63.89 L579.12,65.47 L579.32,67.21 L579.52,69.10 L579.70,71.16 L579.87,73.45 L580.02,75.97 L580.17,78.66 L580.31,81.43 L580.45,84.19 L580.60,86.88 L580.74,89.44 L580.88,91.92 L581.02,94.40 L581.16,96.96 L581.32,99.67 L581.50,102.60 L581.70,105.81 L581.93,109.24 L582.17,112.75 L582.41,116.30 L582.66,119.86 L582.90,123.34 L583.12,126.75 L583.33,130.17 L583.54,133.58 L583.77,137.00 L584.01,140.42 L584.30,143.86 L584.63,147.32 L584.99,150.79 L585.38,154.27 L585.78,157.75 L586.19,161.24 L586.60,164.72 L587.02,168.35 L587.46,172.14 L587.90,175.93 L588.34,179.56 L588.78,182.87 L589.20,185.70 L589.59,187.95 L589.95,189.72 L590.31,191.08 L590.67,192.24 L591.06,193.37 L591.50,194.59 L591.99,195.93 L592.53,197.29 L593.10,198.60 L593.68,199.83 L594.25,200.91 L594.80,201.79 L595.33,202.46 L595.85,202.95 L596.36,203.30 L596.87,203.53 L597.39,203.68 L597.90,203.77 L598.42,203.79 L598.96,203.72 L599.49,203.55 L600.01,203.31 L600.52,202.91 L601.00,202.47 L601.46,201.97 L601.90,201.42 L602.33,200.80 L602.74,200.13 L603.13,199.41 L603.50,198.63 L603.85,197.80 L604.17,196.91 L604.47,195.97 L604.76,194.98 L605.03,193.96 L605.30,192.89 L605.55,191.93 L605.78,191.09 L605.99,190.21 L606.21,189.12 L606.44,187.68 L606.70,185.71 L607.00,182.97 L607.33,179.55 L607.67,175.76 L608.01,171.94 L608.33,168.39 L608.60,165.45 L608.82,163.18 L609.00,161.33 L609.16,159.75 L609.30,158.32 L609.44,156.89 L609.60,155.32 L609.77,153.63 L609.94,151.94 L610.12,150.25 L610.29,148.56 L610.45,146.87 L610.60,145.19 L610.73,143.62 L610.83,142.19 L610.93,140.77 L611.03,139.20 L611.15,137.36 L611.30,135.09 L611.49,132.20 L611.72,128.74 L611.97,125.00 L612.21,121.17 L612.43,117.61 L612.60,114.64 L612.72,112.33 L612.79,110.45 L612.84,108.87 L612.88,107.44 L612.93,106.00 L613.00,104.40 L613.09,102.79 L613.19,101.32 L613.29,99.85 L613.41,98.23 L613.55,96.32 L613.70,93.98 L613.88,91.06 L614.09,87.63 L614.32,83.92 L614.55,80.14 L614.78,76.49 L615.00,73.20 L615.20,70.21 L615.40,67.34 L615.60,64.62 L615.80,62.05 L616.00,59.66 L616.20,57.48 L616.41,55.38 L616.63,53.31 L616.85,51.43 L617.07,49.95 L617.29,49.12 L617.50,48.90 L617.71,49.38 L617.92,50.46 L618.12,52.01 L618.33,53.88 L618.52,55.93 L618.70,58.02 L618.86,60.18 L619.01,62.53 L619.14,65.06 L619.28,67.75 L619.43,70.59 L619.60,73.56 L619.80,76.84 L620.02,80.48 L620.25,84.26 L620.48,87.98 L620.70,91.41 L620.90,94.34 L621.07,96.69 L621.23,98.61 L621.38,100.25 L621.52,101.75 L621.66,103.25 L621.80,104.88 L621.94,106.63 L622.06,108.34 L622.19,110.02 L622.31,111.71 L622.45,113.39 L622.60,115.07 L622.77,116.76 L622.94,118.45 L623.13,120.14 L623.32,121.83 L623.51,123.52 L623.70,125.21 L623.88,126.88 L624.06,128.52 L624.24,130.16 L624.43,131.82 L624.61,133.54 L624.80,135.35 L624.99,137.28 L625.18,139.32 L625.37,141.42 L625.57,143.52 L625.78,145.57 L626.00,147.50 L626.23,149.37 L626.48,151.23 L626.73,153.04 L626.99,154.75 L627.25,156.31 L627.50,157.69 L627.75,158.89 L628.00,159.96 L628.24,160.89 L628.49,161.66 L628.74,162.26 L629.00,162.67 L629.26,162.92 L629.52,162.99 L629.79,162.89 L630.06,162.61 L630.33,162.08 L630.60,161.37 L630.88,160.54 L631.16,159.60 L631.44,158.48 L631.73,157.14 L632.02,155.50 L632.30,153.51 L632.58,151.08 L632.86,148.24 L633.14,145.11 L633.43,141.80 L633.71,138.44 L634.00,135.14 L634.30,131.66 L634.61,127.85 L634.92,123.98 L635.23,120.33 L635.52,117.17 L635.80,114.76 L636.05,113.20 L636.29,112.30 L636.51,111.89 L636.73,111.79 L636.96,111.84 L637.20,111.94 L637.46,112.03 L637.72,112.24 L637.99,112.60 L638.27,113.13 L638.54,113.87 L638.80,114.84 L639.05,116.12 L639.30,117.72 L639.55,119.52 L639.80,121.42 L640.05,123.32 L640.30,125.12 L640.56,126.87 L640.83,128.68 L641.09,130.49 L641.36,132.24 L641.63,133.90 L641.90,135.42 L642.16,136.76 L642.40,137.98 L642.64,139.09 L642.90,140.14 L643.18,141.17 L643.50,142.22 L643.86,143.27 L644.27,144.29 L644.69,145.29 L645.13,146.24 L645.57,147.12 L646.00,148.00 L646.41,148.83 L646.81,149.61 L647.22,150.38 L647.63,151.17 L648.05,152.03 L648.50,153.00 L648.97,154.07 L649.44,155.20 L649.94,156.41 L650.44,157.69 L650.97,159.05 L651.50,160.50 L652.05,162.02 L652.62,163.59 L653.20,165.24 L653.79,167.01 L654.39,168.92 L655.00,171.00 L655.63,173.33 L656.27,175.90 L656.93,178.62 L657.58,181.37 L658.21,184.07 L658.80,186.60 L659.35,188.97 L659.88,191.24 L660.38,193.46 L660.87,195.64 L661.34,197.82 L661.80,200.00 L662.27,202.34 L662.76,204.84 L663.24,207.34 L663.67,209.64 L664.03,211.59 L664.30,213.00 L664.30,239.07 L664.03,237.69 L663.67,235.78 L663.24,233.51 L662.76,231.07 L662.27,228.61 L661.80,226.32 L661.34,224.18 L660.87,222.06 L660.38,219.92 L659.88,217.76 L659.35,215.53 L658.80,213.22 L658.21,210.75 L657.58,208.12 L656.93,205.43 L656.27,202.78 L655.63,200.27 L655.00,198.00 L654.39,195.98 L653.79,194.13 L653.20,192.42 L652.62,190.83 L652.05,189.31 L651.50,187.85 L650.97,186.45 L650.44,185.14 L649.94,183.91 L649.44,182.76 L648.97,181.67 L648.50,180.65 L648.05,179.72 L647.63,178.90 L647.22,178.15 L646.81,177.43 L646.41,176.69 L646.00,175.90 L645.57,175.07 L645.13,174.23 L644.69,173.34 L644.27,172.43 L643.86,171.48 L643.50,170.50 L643.18,169.52 L642.90,168.54 L642.64,167.53 L642.40,166.46 L642.16,165.30 L641.90,164.00 L641.63,162.54 L641.36,160.93 L641.09,159.22 L640.83,157.46 L640.56,155.71 L640.30,154.00 L640.05,152.25 L639.80,150.39 L639.55,148.54 L639.30,146.79 L639.05,145.24 L638.80,144.00 L638.54,143.08 L638.27,142.39 L637.99,141.91 L637.72,141.61 L637.46,141.45 L637.20,141.40 L636.96,141.33 L636.73,141.24 L636.51,141.29 L636.29,141.65 L636.05,142.50 L635.80,144.00 L635.52,146.35 L635.23,149.45 L634.92,153.04 L634.61,156.84 L634.30,160.58 L634.00,164.00 L633.71,167.24 L633.43,170.54 L633.14,173.78 L632.86,176.85 L632.58,179.63 L632.30,182.00 L632.02,183.93 L631.73,185.51 L631.44,186.79 L631.16,187.85 L630.88,188.73 L630.60,189.50 L630.33,190.15 L630.06,190.62 L629.79,190.92 L629.52,191.05 L629.26,191.01 L629.00,190.80 L628.74,190.41 L628.49,189.84 L628.24,189.11 L628.00,188.21 L627.75,187.17 L627.50,186.00 L627.25,184.66 L626.99,183.13 L626.73,181.45 L626.48,179.67 L626.23,177.84 L626.00,176.00 L625.78,174.09 L625.57,172.07 L625.37,170.00 L625.18,167.93 L624.99,165.91 L624.80,164.00 L624.61,162.22 L624.43,160.52 L624.24,158.88 L624.06,157.26 L623.88,155.64 L623.70,154.00 L623.51,152.33 L623.32,150.67 L623.13,149.00 L622.94,147.33 L622.77,145.67 L622.60,144.00 L622.45,142.33 L622.31,140.67 L622.19,139.00 L622.06,137.33 L621.94,135.68 L621.80,134.04 L621.66,132.52 L621.52,131.13 L621.38,129.75 L621.23,128.23 L621.07,126.43 L620.90,124.22 L620.70,121.45 L620.48,118.19 L620.25,114.66 L620.02,111.06 L619.80,107.60 L619.60,104.48 L619.43,101.65 L619.28,98.93 L619.14,96.35 L619.01,93.92 L618.86,91.69 L618.70,89.66 L618.52,87.72 L618.33,85.82 L618.12,84.11 L617.92,82.73 L617.71,81.81 L617.50,81.50 L617.29,81.89 L617.07,82.90 L616.85,84.31 L616.63,86.01 L616.41,87.91 L616.20,89.84 L616.00,91.86 L615.80,94.09 L615.60,96.49 L615.40,99.07 L615.20,101.78 L615.00,104.60 L614.78,107.72 L614.55,111.18 L614.32,114.78 L614.09,118.31 L613.88,121.56 L613.70,124.34 L613.55,126.55 L613.41,128.36 L613.29,129.88 L613.19,131.27 L613.09,132.67 L613.00,134.20 L612.93,135.74 L612.88,137.14 L612.84,138.54 L612.79,140.08 L612.72,141.90 L612.60,144.12 L612.43,146.96 L612.21,150.34 L611.97,154.00 L611.72,157.69 L611.49,161.10 L611.30,163.96 L611.15,166.20 L611.03,168.03 L610.93,169.57 L610.83,170.98 L610.73,172.39 L610.60,173.93 L610.45,175.59 L610.29,177.25 L610.12,178.91 L609.94,180.56 L609.77,182.22 L609.60,183.88 L609.44,185.42 L609.30,186.83 L609.16,188.23 L609.00,189.78 L608.82,191.60 L608.60,193.83 L608.33,196.72 L608.01,200.21 L607.67,203.97 L607.33,207.69 L607.00,211.05 L606.70,213.73 L606.44,215.66 L606.21,217.06 L605.99,218.11 L605.78,218.95 L605.55,219.75 L605.30,220.66 L605.03,221.68 L604.76,222.66 L604.47,223.59 L604.17,224.48 L603.85,225.31 L603.50,226.07 L603.13,226.78 L602.74,227.43 L602.33,228.03 L601.90,228.57 L601.46,229.04 L601.00,229.45 L600.52,229.81 L600.01,230.11 L599.49,230.41 L598.96,230.64 L598.42,230.78 L597.90,230.83 L597.39,230.80 L596.87,230.71 L596.36,230.54 L595.85,230.25 L595.33,229.82 L594.80,229.21 L594.25,228.40 L593.68,227.39 L593.10,226.23 L592.53,224.99 L591.99,223.69 L591.50,222.41 L591.06,221.24 L590.67,220.16 L590.31,219.04 L589.95,217.75 L589.59,216.15 L589.20,214.10 L588.78,211.48 L588.34,208.39 L587.90,204.98 L587.46,201.41 L587.02,197.84 L586.60,194.43 L586.19,191.14 L585.78,187.86 L585.38,184.58 L584.99,181.29 L584.63,178.00 L584.30,174.71 L584.01,171.41 L583.77,168.11 L583.54,164.81 L583.33,161.50 L583.12,158.19 L582.90,154.89 L582.66,151.53 L582.41,148.10 L582.17,144.67 L581.93,141.30 L581.70,138.04 L581.50,135.00 L581.32,132.21 L581.16,129.63 L581.02,127.19 L580.88,124.81 L580.74,122.44 L580.60,120.00 L580.45,117.43 L580.31,114.78 L580.17,112.12 L580.02,109.56 L579.87,107.15 L579.70,105.00 L579.52,103.09 L579.32,101.35 L579.12,99.78 L578.91,98.36 L578.70,97.11 L578.50,96.00 L578.30,95.03 L578.10,94.20 L577.90,93.53 L577.70,93.02 L577.50,92.71 L577.30,92.60 L577.10,92.71 L576.90,93.02 L576.70,93.53 L576.50,94.20 L576.30,95.03 L576.10,96.00 L575.91,96.93 L575.73,97.81 L575.54,98.84 L575.35,100.24 L575.14,102.22 L574.90,105.00 L574.62,108.90 L574.30,113.81 L573.97,119.31 L573.63,124.96 L573.30,130.34 L573.00,135.00 L572.73,138.91 L572.47,142.41 L572.22,145.62 L571.98,148.70 L571.74,151.78 L571.50,155.00 L571.26,158.33 L571.01,161.67 L570.77,165.00 L570.54,168.33 L570.31,171.67 L570.10,175.00 L569.90,178.45 L569.72,182.04 L569.55,185.62 L569.38,189.07 L569.20,192.25 L569.00,195.00 L568.79,197.25 L568.58,199.07 L568.36,200.62 L568.13,202.04 L567.88,203.45 L567.60,205.00 L567.30,206.67 L566.97,208.33 L566.63,210.00 L566.27,211.67 L565.89,213.33 L565.50,215.00 L565.08,216.72 L564.62,218.50 L564.15,220.28 L563.68,222.00 L563.22,223.59 L562.80,225.00 L562.42,226.19 L562.06,227.20 L561.72,228.09 L561.39,228.91 L561.05,229.69 L560.70,230.50 L560.34,231.33 L559.97,232.15 L559.59,232.97 L559.22,233.76 L558.86,234.49 L558.50,235.15 L558.17,235.75 L557.86,236.29 L557.56,236.78 L557.24,237.22 L556.89,237.61 L556.50,237.95 L556.07,238.26 L555.61,238.55 L555.12,238.78 L554.60,238.94 L554.03,239.01 L553.40,238.96 L552.70,238.80 L551.92,238.54 L551.10,238.19 L550.26,237.74 L549.41,237.19 L548.60,236.54 L547.81,235.70 L547.03,234.67 L546.25,233.54 L545.47,232.40 L544.69,231.36 L543.90,230.51 L543.09,229.80 L542.27,229.15 L541.44,228.60 L540.63,228.18 L539.84,227.89 L539.10,227.65 L538.43,227.65 L537.83,227.84 L537.26,228.22 L536.68,228.75 L536.04,229.43 L535.30,230.22 L534.43,231.23 L533.47,232.51 L532.44,233.92 L531.41,235.35 L530.41,236.67 L529.50,237.75 L528.66,238.61 L527.87,239.36 L527.11,240.00 L526.38,240.53 L525.68,240.96 L525.00,241.30 L524.37,241.60 L523.80,241.76 L523.26,241.82 L522.71,241.80 L522.14,241.75 L521.50,241.68 L520.82,241.60 L520.13,241.46 L519.40,241.28 L518.63,241.08 L517.80,240.86 L516.90,240.63 L515.90,240.49 L514.79,240.45 L513.63,240.39 L512.45,240.20 L511.29,239.78 L510.20,239.01 L509.15,237.77 L508.10,236.16 L507.07,234.31 L506.08,232.35 L505.15,230.39 L504.30,228.56 L503.53,226.80 L502.83,224.99 L502.19,223.18 L501.59,221.43 L501.03,219.77 L500.50,218.27 L500.00,216.96 L499.54,215.83 L499.12,214.79 L498.73,213.78 L498.36,212.73 L498.00,211.58 L497.66,210.30 L497.34,208.96 L497.04,207.58 L496.76,206.12 L496.48,204.66 L496.20,203.23 L495.92,201.83 L495.63,200.44 L495.36,199.06 L495.09,197.69 L494.84,196.34 L494.60,195.00 L494.39,193.69 L494.20,192.39 L494.02,191.11 L493.85,189.85 L493.68,188.59 L493.50,187.33 L493.32,186.06 L493.14,184.77 L492.96,183.49 L492.78,182.25 L492.59,181.06 L492.40,179.97 L492.20,178.91 L491.99,177.86 L491.78,176.86 L491.56,175.99 L491.33,175.30 L491.10,174.83 L490.86,174.63 L490.61,174.66 L490.35,174.86 L490.09,175.19 L489.84,175.56 L489.60,175.94 L489.38,176.37 L489.16,176.92 L488.96,177.52 L488.75,178.13 L488.53,178.68 L488.30,179.12 L488.05,179.47 L487.78,179.78 L487.51,180.03 L487.23,180.23 L486.96,180.34 L486.70,180.38 L486.46,180.33 L486.22,180.21 L485.99,180.01 L485.77,179.91 L485.54,179.75 L485.30,179.53 L485.06,179.25 L484.83,178.91 L484.59,178.50 L484.34,178.03 L484.08,177.50 L483.80,176.93 L483.49,176.30 L483.17,175.61 L482.83,174.86 L482.48,174.07 L482.13,173.25 L481.80,172.40 L481.48,171.51 L481.17,170.57 L480.86,169.60 L480.54,168.61 L480.23,167.62 L479.90,166.62 L479.56,165.63 L479.21,164.66 L478.86,163.69 L478.51,162.68 L478.15,161.61 L477.80,160.44 L477.45,159.16 L477.10,157.80 L476.74,156.36 L476.39,154.88 L476.04,153.38 L475.70,151.86 L475.36,150.32 L475.02,148.74 L474.69,147.13 L474.36,145.50 L474.03,143.87 L473.70,142.26 L473.38,140.66 L473.07,139.05 L472.77,137.45 L472.46,135.84 L472.14,134.24 L471.80,132.64 L471.44,131.05 L471.06,129.45 L470.68,127.87 L470.28,126.28 L469.89,124.68 L469.50,123.05 L469.11,121.42 L468.72,119.79 L468.33,118.17 L467.94,116.54 L467.57,114.91 L467.20,113.28 L466.85,111.65 L466.51,110.02 L466.19,108.38 L465.86,106.75 L465.54,105.11 L465.20,103.48 L464.85,101.81 L464.50,100.09 L464.14,98.37 L463.79,96.70 L463.44,95.12 L463.10,93.69 L462.77,92.43 L462.46,91.30 L462.15,90.27 L461.84,89.29 L461.53,88.34 L461.20,87.38 L460.86,86.39 L460.50,85.40 L460.13,84.43 L459.77,83.55 L459.42,82.77 L459.10,82.07 L458.81,81.46 L458.53,80.91 L458.28,80.44 L458.02,80.02 L457.77,79.66 L457.50,79.35 L457.22,79.09 L456.94,78.89 L456.66,78.74 L456.37,78.65 L456.08,78.62 L455.80,78.66 L455.52,78.76 L455.23,78.92 L454.94,79.11 L454.66,79.23 L454.38,79.40 L454.10,79.63 L453.84,79.92 L453.59,80.28 L453.34,80.70 L453.09,81.17 L452.81,81.69 L452.50,82.25 L452.15,82.85 L451.76,83.49 L451.34,84.18 L450.92,84.93 L450.50,85.74 L450.10,86.63 L449.71,87.64 L449.32,88.73 L448.94,89.89 L448.56,91.11 L448.18,92.41 L447.80,93.78 L447.43,95.26 L447.06,96.85 L446.70,98.51 L446.34,100.20 L445.97,101.90 L445.60,103.56 L445.22,105.19 L444.83,106.82 L444.44,108.44 L444.06,110.07 L443.67,111.70 L443.30,113.33 L442.94,114.96 L442.59,116.59 L442.24,118.22 L441.90,119.86 L441.55,121.49 L441.20,123.12 L440.84,124.75 L440.46,126.38 L440.09,128.01 L439.71,129.67 L439.35,131.33 L439.00,133.00 L438.67,134.67 L438.35,136.33 L438.04,138.00 L437.73,139.67 L437.42,141.33 L437.10,143.00 L436.78,144.67 L436.45,146.33 L436.13,148.00 L435.79,149.67 L435.45,151.33 L435.10,153.00 L434.74,154.67 L434.36,156.33 L433.97,158.00 L433.59,159.67 L433.19,161.33 L432.80,163.00 L432.41,164.67 L432.02,166.33 L431.63,168.00 L431.23,169.67 L430.82,171.33 L430.40,173.00 L429.96,174.67 L429.50,176.33 L429.04,178.00 L428.56,179.67 L428.08,181.33 L427.60,183.00 L427.12,184.66 L426.64,186.31 L426.16,187.97 L425.67,189.63 L425.15,191.30 L424.60,193.00 L424.01,194.73 L423.40,196.50 L422.76,198.28 L422.10,200.06 L421.45,201.80 L420.80,203.50 L420.17,205.14 L419.55,206.74 L418.93,208.31 L418.29,209.86 L417.62,211.42 L416.90,213.00 L416.12,214.60 L415.29,216.23 L414.43,217.85 L413.54,219.46 L412.66,221.05 L411.80,222.60 L410.93,224.16 L410.03,225.74 L409.13,227.31 L408.25,228.79 L407.43,230.14 L406.70,231.30 L406.10,232.20 L405.63,232.87 L405.22,233.41 L404.79,233.91 L404.27,234.47 L403.60,235.20 L402.75,236.11 L401.77,237.12 L400.70,238.20 L399.59,239.30 L398.48,240.38 L397.40,241.40 L396.28,242.42 L395.07,243.49 L393.86,244.54 L392.74,245.50 L391.79,246.31 L391.10,246.90 Z" fill="#F1AFA9" stroke="none"/>
<path d="M392.20,218.70 L392.89,218.12 L393.84,217.31 L394.96,216.36 L396.17,215.32 L397.38,214.26 L398.50,213.24 L399.58,212.23 L400.69,211.16 L401.80,210.07 L402.87,209.00 L403.85,207.99 L404.70,207.09 L405.37,206.36 L405.89,205.80 L406.32,205.30 L406.73,204.77 L407.20,204.11 L407.80,203.21 L408.53,202.05 L409.35,200.71 L410.23,199.23 L411.13,197.68 L412.03,196.10 L412.90,194.54 L413.76,193.00 L414.64,191.42 L415.53,189.81 L416.39,188.19 L417.22,186.58 L418.00,184.98 L418.72,183.41 L419.39,181.85 L420.03,180.30 L420.65,178.73 L421.27,177.15 L421.90,175.54 L422.55,173.87 L423.20,172.16 L423.86,170.42 L424.50,168.67 L425.11,166.93 L425.70,165.23 L426.25,163.56 L426.77,161.91 L427.26,160.28 L427.74,158.65 L428.22,157.02 L428.70,155.38 L429.18,153.74 L429.66,152.09 L430.14,150.45 L430.60,148.81 L431.06,147.16 L431.50,145.52 L431.92,143.87 L432.33,142.23 L432.73,140.58 L433.12,138.93 L433.51,137.29 L433.90,135.64 L434.29,133.99 L434.69,132.35 L435.08,130.70 L435.46,129.05 L435.84,127.40 L436.20,125.75 L436.55,124.11 L436.89,122.46 L437.23,120.81 L437.55,119.16 L437.88,117.51 L438.20,115.85 L438.52,114.20 L438.83,112.55 L439.14,110.90 L439.45,109.25 L439.77,107.60 L440.10,105.95 L440.45,104.30 L440.81,102.65 L441.19,101.00 L441.56,99.33 L441.94,97.67 L442.30,96.00 L442.65,94.33 L443.00,92.67 L443.34,91.00 L443.69,89.33 L444.04,87.67 L444.40,86.00 L444.77,84.33 L445.16,82.67 L445.54,81.00 L445.93,79.33 L446.32,77.67 L446.70,76.00 L447.07,74.30 L447.44,72.57 L447.80,70.84 L448.16,69.14 L448.53,67.52 L448.90,66.00 L449.28,64.50 L449.66,62.98 L450.04,61.53 L450.42,60.14 L450.81,58.82 L451.20,57.55 L451.60,56.34 L452.02,55.19 L452.44,54.11 L452.86,53.09 L453.25,52.14 L453.60,51.25 L453.91,50.44 L454.19,49.70 L454.44,49.02 L454.69,48.41 L454.94,47.85 L455.20,47.35 L455.48,46.90 L455.76,46.50 L456.04,46.16 L456.33,46.06 L456.62,46.07 L456.90,46.14 L457.18,46.27 L457.47,46.47 L457.76,46.73 L458.04,47.05 L458.32,47.43 L458.60,47.85 L458.87,48.32 L459.12,48.83 L459.38,49.40 L459.63,50.03 L459.91,50.74 L460.20,51.53 L460.52,52.42 L460.87,53.42 L461.23,54.46 L461.60,55.50 L461.96,56.56 L462.30,57.62 L462.63,58.65 L462.94,59.66 L463.25,60.70 L463.56,61.79 L463.87,62.98 L464.20,64.31 L464.54,65.81 L464.89,67.45 L465.24,69.20 L465.60,70.99 L465.95,72.78 L466.30,74.52 L466.64,76.22 L466.96,77.92 L467.29,79.62 L467.61,81.32 L467.95,83.02 L468.30,84.72 L468.67,86.42 L469.05,88.13 L469.44,89.83 L469.83,91.54 L470.22,93.25 L470.60,94.95 L470.98,96.65 L471.37,98.33 L471.75,100.00 L472.12,101.67 L472.49,103.33 L472.84,105.00 L473.16,106.67 L473.47,108.33 L473.77,110.00 L474.07,111.67 L474.36,113.33 L474.67,115.00 L474.99,116.68 L475.30,118.37 L475.62,120.06 L475.95,121.74 L476.27,123.39 L476.60,125.00 L476.93,126.59 L477.27,128.16 L477.61,129.71 L477.95,131.21 L478.29,132.65 L478.63,134.00 L478.97,135.24 L479.31,136.39 L479.65,137.46 L479.99,138.50 L480.32,139.54 L480.65,140.60 L480.97,141.60 L481.29,142.57 L481.59,143.53 L481.90,144.48 L482.21,145.39 L482.53,146.25 L482.86,147.07 L483.20,147.87 L483.54,148.63 L483.88,149.35 L484.20,150.01 L484.50,150.62 L484.78,151.16 L485.04,151.67 L485.28,152.11 L485.52,152.50 L485.75,152.83 L485.98,153.09 L486.22,153.29 L486.44,153.43 L486.67,153.52 L486.89,153.60 L487.13,153.60 L487.37,153.53 L487.62,153.36 L487.89,153.11 L488.16,152.78 L488.43,152.39 L488.70,151.95 L488.95,151.47 L489.18,150.91 L489.39,150.25 L489.59,149.54 L489.80,148.84 L490.01,148.18 L490.23,147.64 L490.47,147.14 L490.72,146.64 L490.97,146.19 L491.22,145.86 L491.47,145.70 L491.71,145.87 L491.94,146.41 L492.16,147.18 L492.38,148.12 L492.59,149.19 L492.79,150.31 L493.00,151.43 L493.19,152.59 L493.37,153.84 L493.55,155.15 L493.73,156.49 L493.90,157.84 L494.08,159.17 L494.26,160.48 L494.43,161.80 L494.59,163.12 L494.77,164.46 L494.96,165.82 L495.17,167.20 L495.40,168.61 L495.65,170.05 L495.91,171.51 L496.19,172.99 L496.47,174.47 L496.75,175.97 L497.02,177.49 L497.30,179.04 L497.58,180.59 L497.87,182.04 L498.19,183.45 L498.53,184.81 L498.88,186.05 L499.25,187.19 L499.64,188.29 L500.05,189.42 L500.50,190.67 L501.00,192.09 L501.53,193.72 L502.08,195.51 L502.67,197.40 L503.31,199.36 L504.01,201.33 L504.77,203.28 L505.62,205.27 L506.54,207.21 L507.52,209.14 L508.54,210.96 L509.59,212.54 L510.63,213.76 L511.72,214.55 L512.87,214.99 L514.04,215.20 L515.19,215.28 L516.29,215.30 L517.29,215.40 L518.18,215.60 L519.01,215.79 L519.77,215.97 L520.49,216.12 L521.18,216.24 L521.86,216.30 L522.49,216.34 L523.06,216.38 L523.60,216.38 L524.14,216.30 L524.71,216.12 L525.33,215.80 L526.01,215.21 L526.70,214.51 L527.42,213.70 L528.18,212.77 L528.97,211.72 L529.80,210.54 L530.71,209.11 L531.70,207.41 L532.73,205.60 L533.75,203.82 L534.71,202.20 L535.57,200.88 L536.31,199.83 L536.94,198.93 L537.53,198.19 L538.09,197.61 L538.69,197.20 L539.35,196.97 L540.09,196.94 L540.88,197.24 L541.69,197.74 L542.51,198.38 L543.33,199.11 L544.13,199.90 L544.91,200.83 L545.69,201.95 L546.47,203.16 L547.24,204.37 L548.02,205.49 L548.81,206.40 L549.62,207.13 L550.45,207.77 L551.29,208.30 L552.11,208.73 L552.88,209.07 L553.58,209.30 L554.21,209.41 L554.78,209.40 L555.30,209.29 L555.78,209.11 L556.24,208.87 L556.67,208.60 L557.06,208.30 L557.40,207.94 L557.72,207.54 L558.02,207.08 L558.33,206.57 L558.66,206.00 L559.01,205.37 L559.38,204.68 L559.75,203.93 L560.12,203.14 L560.49,202.25 L560.85,201.33 L561.20,200.43 L561.53,199.56 L561.87,198.66 L562.21,197.69 L562.57,196.58 L562.95,195.30 L563.37,193.79 L563.83,192.08 L564.30,190.24 L564.77,188.34 L565.23,186.45 L565.65,184.63 L566.04,182.86 L566.42,181.10 L566.78,179.34 L567.12,177.59 L567.45,175.84 L567.75,174.10 L568.03,172.48 L568.28,171.00 L568.51,169.53 L568.73,167.93 L568.94,166.05 L569.15,163.75 L569.35,160.95 L569.53,157.73 L569.70,154.24 L569.87,150.61 L570.05,146.97 L570.25,143.48 L570.46,140.09 L570.69,136.70 L570.92,133.31 L571.16,129.91 L571.41,126.52 L571.65,123.13 L571.89,119.85 L572.13,116.71 L572.37,113.45 L572.62,110.03 L572.88,106.33 L573.15,102.20 L573.45,97.29 L573.78,91.66 L574.12,85.74 L574.45,79.97 L574.77,74.81 L575.05,70.68 L575.29,67.71 L575.50,65.56 L575.69,64.00 L575.88,62.83 L576.06,61.81 L576.25,60.72 L576.45,59.59 L576.65,58.60 L576.85,57.77 L577.05,57.10 L577.25,56.79 L577.45,56.84 L577.65,57.11 L577.85,57.58 L578.05,58.24 L578.25,59.08 L578.45,60.07 L578.65,61.20 L578.85,62.47 L579.06,63.89 L579.27,65.47 L579.47,67.21 L579.67,69.10 L579.85,71.16 L580.02,73.45 L580.17,75.97 L580.32,78.66 L580.46,81.43 L580.60,84.19 L580.75,86.88 L580.89,89.44 L581.03,91.92 L581.17,94.40 L581.31,96.96 L581.47,99.67 L581.65,102.60 L581.85,105.81 L582.08,109.24 L582.32,112.75 L582.56,116.30 L582.81,119.86 L583.05,123.34 L583.27,126.75 L583.48,130.17 L583.69,133.58 L583.92,137.00 L584.16,140.42 L584.45,143.86 L584.78,147.32 L585.14,150.79 L585.52,154.27 L585.93,157.75 L586.34,161.24 L586.75,164.72 L587.17,168.35 L587.61,172.14 L588.05,175.93 L588.49,179.56 L588.93,182.87 L589.35,185.70 L589.74,187.95 L590.10,189.72 L590.46,191.08 L590.82,192.24 L591.21,193.37 L591.65,194.59 L592.14,195.93 L592.68,197.29 L593.25,198.60 L593.83,199.83 L594.40,200.91 L594.95,201.79 L595.48,202.46 L596.00,202.95 L596.51,203.30 L597.02,203.53 L597.54,203.68 L598.05,203.77 L598.57,203.79 L599.11,203.72 L599.64,203.55 L600.16,203.31 L600.67,202.91 L601.15,202.47 L601.61,201.97 L602.05,201.42 L602.48,200.80 L602.89,200.13 L603.28,199.41 L603.65,198.63 L604.00,197.80 L604.32,196.91 L604.62,195.97 L604.91,194.98 L605.18,193.96 L605.45,192.89 L605.70,191.93 L605.93,191.09 L606.14,190.21 L606.36,189.12 L606.59,187.68 L606.85,185.71 L607.15,182.97 L607.48,179.55 L607.83,175.76 L608.16,171.94 L608.48,168.39 L608.75,165.45 L608.97,163.18 L609.15,161.33 L609.31,159.75 L609.45,158.32 L609.59,156.89 L609.75,155.32 L609.92,153.63 L610.09,151.94 L610.27,150.25 L610.44,148.56 L610.60,146.87 L610.75,145.19 L610.88,143.62 L610.98,142.19 L611.08,140.77 L611.18,139.20 L611.30,137.36 L611.45,135.09 L611.64,132.20 L611.87,128.74 L612.12,125.00 L612.36,121.17 L612.58,117.61 L612.75,114.64 L612.87,112.33 L612.94,110.45 L612.99,108.87 L613.03,107.44 L613.08,106.00 L613.15,104.40 L613.24,102.79 L613.34,101.32 L613.44,99.85 L613.56,98.23 L613.70,96.32 L613.85,93.98 L614.03,91.06 L614.24,87.63 L614.47,83.92 L614.70,80.14 L614.93,76.49 L615.15,73.20 L615.35,70.21 L615.55,67.34 L615.75,64.62 L615.95,62.05 L616.15,59.66 L616.35,57.48 L616.56,55.38 L616.78,53.31 L617.00,51.43 L617.22,49.95 L617.44,49.12 L617.65,48.90 L617.86,49.38 L618.07,50.46 L618.28,52.01 L618.48,53.88 L618.67,55.93 L618.85,58.02 L619.01,60.18 L619.16,62.53 L619.29,65.06 L619.43,67.75 L619.58,70.59 L619.75,73.56 L619.95,76.84 L620.17,80.48 L620.40,84.26 L620.63,87.98 L620.85,91.41 L621.05,94.34 L621.22,96.69 L621.38,98.61 L621.53,100.25 L621.67,101.75 L621.81,103.25 L621.95,104.88 L622.09,106.63 L622.21,108.34 L622.34,110.02 L622.46,111.71 L622.60,113.39 L622.75,115.07 L622.92,116.76 L623.09,118.45 L623.28,120.14 L623.47,121.83 L623.66,123.52 L623.85,125.21 L624.03,126.88 L624.21,128.52 L624.39,130.16 L624.58,131.82 L624.76,133.54 L624.95,135.35 L625.14,137.28 L625.33,139.32 L625.52,141.42 L625.72,143.52 L625.93,145.57 L626.15,147.50 L626.38,149.37 L626.63,151.23 L626.88,153.04 L627.14,154.75 L627.40,156.31 L627.65,157.69 L627.90,158.89 L628.15,159.96 L628.39,160.89 L628.64,161.66 L628.89,162.26 L629.15,162.67 L629.41,162.92 L629.67,162.99 L629.94,162.89 L630.21,162.61 L630.48,162.08 L630.75,161.37 L631.03,160.54 L631.31,159.60 L631.59,158.48 L631.88,157.14 L632.17,155.50 L632.45,153.51 L632.73,151.08 L633.01,148.24 L633.29,145.11 L633.58,141.80 L633.86,138.44 L634.15,135.14 L634.45,131.66 L634.76,127.85 L635.07,123.98 L635.38,120.33 L635.67,117.17 L635.95,114.76 L636.20,113.20 L636.44,112.30 L636.66,111.89 L636.88,111.79 L637.11,111.84 L637.35,111.94 L637.61,112.03 L637.87,112.24 L638.14,112.60 L638.42,113.13 L638.69,113.87 L638.95,114.84 L639.20,116.12 L639.45,117.72 L639.70,119.52 L639.95,121.42 L640.20,123.32 L640.45,125.12 L640.71,126.87 L640.98,128.68 L641.24,130.49 L641.51,132.24 L641.78,133.90 L642.05,135.42 L642.31,136.76 L642.55,137.98 L642.79,139.09 L643.05,140.14 L643.33,141.17 L643.65,142.22 L644.01,143.27 L644.42,144.29 L644.84,145.29 L645.28,146.24 L645.72,147.12 L646.15,148.00 L646.56,148.83 L646.96,149.61 L647.37,150.38 L647.78,151.17 L648.20,152.03 L648.65,153.00 L649.12,154.07 L649.59,155.20 L650.09,156.41 L650.59,157.69 L651.12,159.05 L651.65,160.50 L652.20,162.02 L652.77,163.59 L653.35,165.24 L653.94,167.01 L654.54,168.92 L655.15,171.00 L655.78,173.33 L656.42,175.90 L657.08,178.62 L657.73,181.37 L658.36,184.07 L658.95,186.60 L659.50,188.97 L660.03,191.24 L660.53,193.46 L661.02,195.64 L661.49,197.82 L661.95,200.00 L662.42,202.34 L662.91,204.84 L663.39,207.34 L663.82,209.64 L664.18,211.59 L664.45,213.00 L664.45,239.07 L664.18,237.69 L663.82,235.78 L663.39,233.51 L662.91,231.07 L662.42,228.61 L661.95,226.32 L661.49,224.18 L661.02,222.06 L660.53,219.92 L660.03,217.76 L659.50,215.53 L658.95,213.22 L658.36,210.75 L657.73,208.12 L657.08,205.43 L656.42,202.78 L655.78,200.27 L655.15,198.00 L654.54,195.98 L653.94,194.13 L653.35,192.42 L652.77,190.83 L652.20,189.31 L651.65,187.85 L651.12,186.45 L650.59,185.14 L650.09,183.91 L649.59,182.76 L649.12,181.67 L648.65,180.65 L648.20,179.72 L647.78,178.90 L647.37,178.15 L646.96,177.43 L646.56,176.69 L646.15,175.90 L645.72,175.07 L645.28,174.23 L644.84,173.34 L644.42,172.43 L644.01,171.48 L643.65,170.50 L643.33,169.52 L643.05,168.54 L642.79,167.53 L642.55,166.46 L642.31,165.30 L642.05,164.00 L641.78,162.54 L641.51,160.93 L641.24,159.22 L640.98,157.46 L640.71,155.71 L640.45,154.00 L640.20,152.25 L639.95,150.39 L639.70,148.54 L639.45,146.79 L639.20,145.24 L638.95,144.00 L638.69,143.08 L638.42,142.39 L638.14,141.91 L637.87,141.61 L637.61,141.45 L637.35,141.40 L637.11,141.33 L636.88,141.24 L636.66,141.29 L636.44,141.65 L636.20,142.50 L635.95,144.00 L635.67,146.35 L635.38,149.45 L635.07,153.04 L634.76,156.84 L634.45,160.58 L634.15,164.00 L633.86,167.24 L633.58,170.54 L633.29,173.78 L633.01,176.85 L632.73,179.63 L632.45,182.00 L632.17,183.93 L631.88,185.51 L631.59,186.79 L631.31,187.85 L631.03,188.73 L630.75,189.50 L630.48,190.15 L630.21,190.62 L629.94,190.92 L629.67,191.05 L629.41,191.01 L629.15,190.80 L628.89,190.41 L628.64,189.84 L628.39,189.11 L628.15,188.21 L627.90,187.17 L627.65,186.00 L627.40,184.66 L627.14,183.13 L626.88,181.45 L626.63,179.67 L626.38,177.84 L626.15,176.00 L625.93,174.09 L625.72,172.07 L625.52,170.00 L625.33,167.93 L625.14,165.91 L624.95,164.00 L624.76,162.22 L624.58,160.52 L624.39,158.88 L624.21,157.26 L624.03,155.64 L623.85,154.00 L623.66,152.33 L623.47,150.67 L623.28,149.00 L623.09,147.33 L622.92,145.67 L622.75,144.00 L622.60,142.33 L622.46,140.67 L622.34,139.00 L622.21,137.33 L622.09,135.68 L621.95,134.04 L621.81,132.52 L621.67,131.13 L621.53,129.75 L621.38,128.23 L621.22,126.43 L621.05,124.22 L620.85,121.45 L620.63,118.19 L620.40,114.66 L620.17,111.06 L619.95,107.60 L619.75,104.48 L619.58,101.65 L619.43,98.93 L619.29,96.35 L619.16,93.92 L619.01,91.69 L618.85,89.66 L618.67,87.72 L618.48,85.82 L618.28,84.11 L618.07,82.73 L617.86,81.81 L617.65,81.50 L617.44,81.89 L617.22,82.90 L617.00,84.31 L616.78,86.01 L616.56,87.91 L616.35,89.84 L616.15,91.86 L615.95,94.09 L615.75,96.49 L615.55,99.07 L615.35,101.78 L615.15,104.60 L614.93,107.72 L614.70,111.18 L614.47,114.78 L614.24,118.31 L614.03,121.56 L613.85,124.34 L613.70,126.55 L613.56,128.36 L613.44,129.88 L613.34,131.27 L613.24,132.67 L613.15,134.20 L613.08,135.74 L613.03,137.14 L612.99,138.54 L612.94,140.08 L612.87,141.90 L612.75,144.12 L612.58,146.96 L612.36,150.34 L612.12,154.00 L611.87,157.69 L611.64,161.10 L611.45,163.96 L611.30,166.20 L611.18,168.03 L611.08,169.57 L610.98,170.98 L610.88,172.39 L610.75,173.93 L610.60,175.59 L610.44,177.25 L610.27,178.91 L610.09,180.56 L609.92,182.22 L609.75,183.88 L609.59,185.42 L609.45,186.83 L609.31,188.23 L609.15,189.78 L608.97,191.60 L608.75,193.83 L608.48,196.72 L608.16,200.21 L607.83,203.97 L607.48,207.69 L607.15,211.05 L606.85,213.73 L606.59,215.66 L606.36,217.06 L606.14,218.11 L605.93,218.95 L605.70,219.75 L605.45,220.66 L605.18,221.68 L604.91,222.66 L604.62,223.59 L604.32,224.48 L604.00,225.31 L603.65,226.07 L603.28,226.78 L602.89,227.43 L602.48,228.03 L602.05,228.57 L601.61,229.04 L601.15,229.45 L600.67,229.81 L600.16,230.11 L599.64,230.41 L599.11,230.64 L598.57,230.78 L598.05,230.83 L597.54,230.80 L597.02,230.71 L596.51,230.54 L596.00,230.25 L595.48,229.82 L594.95,229.21 L594.40,228.40 L593.83,227.39 L593.25,226.23 L592.68,224.99 L592.14,223.69 L591.65,222.41 L591.21,221.24 L590.82,220.16 L590.46,219.04 L590.10,217.75 L589.74,216.15 L589.35,214.10 L588.93,211.48 L588.49,208.39 L588.05,204.98 L587.61,201.41 L587.17,197.84 L586.75,194.43 L586.34,191.14 L585.93,187.86 L585.52,184.58 L585.14,181.29 L584.78,178.00 L584.45,174.71 L584.16,171.41 L583.92,168.11 L583.69,164.81 L583.48,161.50 L583.27,158.19 L583.05,154.89 L582.81,151.53 L582.56,148.10 L582.32,144.67 L582.08,141.30 L581.85,138.04 L581.65,135.00 L581.47,132.21 L581.31,129.63 L581.17,127.19 L581.03,124.81 L580.89,122.44 L580.75,120.00 L580.60,117.43 L580.46,114.78 L580.32,112.12 L580.17,109.56 L580.02,107.15 L579.85,105.00 L579.67,103.09 L579.47,101.35 L579.27,99.78 L579.06,98.36 L578.85,97.11 L578.65,96.00 L578.45,95.03 L578.25,94.20 L578.05,93.53 L577.85,93.02 L577.65,92.71 L577.45,92.60 L577.25,92.71 L577.05,93.02 L576.85,93.53 L576.65,94.20 L576.45,95.03 L576.25,96.00 L576.06,96.93 L575.88,97.81 L575.69,98.84 L575.50,100.24 L575.29,102.22 L575.05,105.00 L574.77,108.90 L574.45,113.81 L574.12,119.31 L573.78,124.96 L573.45,130.34 L573.15,135.00 L572.88,138.91 L572.62,142.41 L572.37,145.62 L572.13,148.70 L571.89,151.78 L571.65,155.00 L571.41,158.33 L571.16,161.67 L570.92,165.00 L570.69,168.33 L570.46,171.67 L570.25,175.00 L570.05,178.45 L569.87,182.04 L569.70,185.62 L569.53,189.07 L569.35,192.25 L569.15,195.00 L568.94,197.25 L568.73,199.07 L568.51,200.62 L568.28,202.04 L568.03,203.45 L567.75,205.00 L567.45,206.67 L567.12,208.33 L566.78,210.00 L566.42,211.67 L566.04,213.33 L565.65,215.00 L565.23,216.72 L564.77,218.50 L564.30,220.28 L563.83,222.00 L563.37,223.59 L562.95,225.00 L562.57,226.19 L562.21,227.20 L561.87,228.09 L561.53,228.91 L561.20,229.69 L560.85,230.50 L560.49,231.33 L560.12,232.15 L559.75,232.97 L559.38,233.76 L559.01,234.49 L558.66,235.15 L558.33,235.75 L558.02,236.29 L557.72,236.78 L557.40,237.22 L557.06,237.61 L556.67,237.95 L556.24,238.26 L555.78,238.55 L555.30,238.78 L554.78,238.94 L554.21,239.01 L553.58,238.96 L552.88,238.80 L552.11,238.54 L551.29,238.19 L550.45,237.74 L549.62,237.19 L548.81,236.54 L548.02,235.70 L547.24,234.67 L546.47,233.54 L545.69,232.40 L544.91,231.36 L544.13,230.51 L543.33,229.80 L542.51,229.15 L541.69,228.60 L540.88,228.18 L540.09,227.89 L539.35,227.65 L538.69,227.65 L538.09,227.84 L537.53,228.22 L536.94,228.75 L536.31,229.43 L535.57,230.22 L534.71,231.23 L533.75,232.51 L532.73,233.92 L531.70,235.35 L530.71,236.67 L529.80,237.75 L528.97,238.61 L528.18,239.36 L527.42,240.00 L526.70,240.53 L526.01,240.96 L525.33,241.30 L524.71,241.60 L524.14,241.76 L523.60,241.82 L523.06,241.80 L522.49,241.75 L521.86,241.68 L521.18,241.60 L520.49,241.46 L519.77,241.28 L519.01,241.08 L518.18,240.86 L517.29,240.63 L516.29,240.49 L515.19,240.45 L514.04,240.39 L512.87,240.20 L511.72,239.78 L510.63,239.01 L509.59,237.77 L508.54,236.16 L507.52,234.31 L506.54,232.35 L505.62,230.39 L504.77,228.56 L504.01,226.79 L503.31,224.98 L502.67,223.18 L502.08,221.43 L501.53,219.77 L501.00,218.27 L500.50,216.96 L500.05,215.82 L499.64,214.79 L499.25,213.78 L498.88,212.73 L498.53,211.58 L498.19,210.30 L497.87,208.96 L497.58,207.58 L497.30,206.12 L497.02,204.66 L496.75,203.23 L496.47,201.83 L496.19,200.44 L495.91,199.06 L495.65,197.69 L495.40,196.34 L495.17,195.00 L494.96,193.69 L494.77,192.39 L494.59,191.11 L494.43,189.85 L494.26,188.59 L494.08,187.33 L493.90,186.06 L493.73,184.77 L493.55,183.49 L493.37,182.25 L493.19,181.06 L493.00,179.97 L492.79,178.91 L492.59,177.86 L492.38,176.86 L492.16,175.99 L491.94,175.30 L491.71,174.83 L491.47,174.63 L491.22,174.66 L490.97,174.86 L490.72,175.19 L490.47,175.56 L490.23,175.94 L490.01,176.37 L489.80,176.92 L489.59,177.52 L489.39,178.13 L489.18,178.68 L488.95,179.12 L488.70,179.47 L488.43,179.78 L488.16,180.03 L487.89,180.23 L487.62,180.34 L487.37,180.38 L487.13,180.33 L486.89,180.21 L486.67,180.01 L486.44,179.91 L486.22,179.75 L485.98,179.53 L485.75,179.25 L485.52,178.91 L485.28,178.50 L485.04,178.03 L484.78,177.50 L484.50,176.93 L484.20,176.30 L483.88,175.61 L483.54,174.86 L483.20,174.07 L482.86,173.25 L482.53,172.40 L482.21,171.51 L481.90,170.57 L481.59,169.60 L481.29,168.61 L480.97,167.62 L480.65,166.62 L480.32,165.63 L479.99,164.66 L479.65,163.69 L479.31,162.68 L478.97,161.61 L478.63,160.44 L478.29,159.16 L477.95,157.80 L477.61,156.36 L477.27,154.88 L476.93,153.38 L476.60,151.86 L476.27,150.32 L475.95,148.74 L475.62,147.13 L475.30,145.50 L474.99,143.87 L474.67,142.26 L474.36,140.66 L474.07,139.05 L473.77,137.45 L473.47,135.84 L473.16,134.24 L472.84,132.64 L472.49,131.05 L472.12,129.45 L471.75,127.87 L471.37,126.28 L470.98,124.68 L470.60,123.05 L470.22,121.42 L469.83,119.79 L469.44,118.17 L469.05,116.54 L468.67,114.91 L468.30,113.28 L467.95,111.65 L467.61,110.02 L467.29,108.38 L466.96,106.75 L466.64,105.11 L466.30,103.48 L465.95,101.81 L465.60,100.09 L465.24,98.37 L464.89,96.70 L464.54,95.12 L464.20,93.69 L463.87,92.43 L463.56,91.30 L463.25,90.27 L462.94,89.29 L462.63,88.34 L462.30,87.38 L461.96,86.39 L461.60,85.40 L461.23,84.43 L460.87,83.55 L460.52,82.77 L460.20,82.07 L459.91,81.46 L459.63,80.91 L459.38,80.44 L459.12,80.02 L458.87,79.66 L458.60,79.35 L458.32,79.09 L458.04,78.89 L457.76,78.74 L457.47,78.65 L457.18,78.62 L456.90,78.66 L456.62,78.76 L456.33,78.92 L456.04,79.11 L455.76,79.23 L455.48,79.40 L455.20,79.63 L454.94,79.92 L454.69,80.28 L454.44,80.70 L454.19,81.17 L453.91,81.69 L453.60,82.25 L453.25,82.85 L452.86,83.49 L452.44,84.18 L452.02,84.93 L451.60,85.74 L451.20,86.63 L450.81,87.64 L450.42,88.73 L450.04,89.89 L449.66,91.11 L449.28,92.41 L448.90,93.78 L448.53,95.26 L448.16,96.85 L447.80,98.51 L447.44,100.20 L447.07,101.90 L446.70,103.56 L446.32,105.19 L445.93,106.82 L445.54,108.44 L445.16,110.07 L444.77,111.70 L444.40,113.33 L444.04,114.96 L443.69,116.59 L443.34,118.22 L443.00,119.86 L442.65,121.49 L442.30,123.12 L441.94,124.75 L441.56,126.38 L441.19,128.01 L440.81,129.67 L440.45,131.33 L440.10,133.00 L439.77,134.67 L439.45,136.33 L439.14,138.00 L438.83,139.67 L438.52,141.33 L438.20,143.00 L437.88,144.67 L437.55,146.33 L437.23,148.00 L436.89,149.67 L436.55,151.33 L436.20,153.00 L435.84,154.67 L435.46,156.33 L435.08,158.00 L434.69,159.67 L434.29,161.33 L433.90,163.00 L433.51,164.67 L433.12,166.33 L432.73,168.00 L432.33,169.67 L431.92,171.33 L431.50,173.00 L431.06,174.67 L430.60,176.33 L430.14,178.00 L429.66,179.67 L429.18,181.33 L428.70,183.00 L428.22,184.66 L427.74,186.31 L427.26,187.97 L426.77,189.63 L426.25,191.30 L425.70,193.00 L425.11,194.73 L424.50,196.50 L423.86,198.28 L423.20,200.06 L422.55,201.80 L421.90,203.50 L421.27,205.14 L420.65,206.74 L420.03,208.31 L419.39,209.86 L418.72,211.42 L418.00,213.00 L417.22,214.60 L416.39,216.23 L415.53,217.85 L414.64,219.46 L413.76,221.05 L412.90,222.60 L412.03,224.16 L411.13,225.74 L410.23,227.31 L409.35,228.79 L408.53,230.14 L407.80,231.30 L407.20,232.20 L406.73,232.87 L406.32,233.41 L405.89,233.91 L405.37,234.47 L404.70,235.20 L403.85,236.11 L402.87,237.12 L401.80,238.20 L400.69,239.30 L399.58,240.38 L398.50,241.40 L397.38,242.42 L396.17,243.49 L394.96,244.54 L393.84,245.50 L392.89,246.31 L392.20,246.90 Z" fill="#F1AFA9" stroke="none"/>
<path d="M393.30,218.70 L393.99,218.12 L394.94,217.31 L396.06,216.36 L397.27,215.32 L398.48,214.26 L399.60,213.24 L400.68,212.23 L401.79,211.16 L402.90,210.07 L403.97,209.00 L404.95,207.99 L405.80,207.09 L406.47,206.36 L406.99,205.80 L407.42,205.30 L407.83,204.77 L408.30,204.11 L408.90,203.21 L409.63,202.05 L410.45,200.71 L411.32,199.23 L412.23,197.68 L413.13,196.10 L414.00,194.54 L414.86,193.00 L415.74,191.42 L416.62,189.81 L417.49,188.19 L418.32,186.58 L419.10,184.98 L419.82,183.41 L420.49,181.85 L421.13,180.30 L421.75,178.73 L422.37,177.15 L423.00,175.54 L423.65,173.87 L424.30,172.16 L424.96,170.42 L425.60,168.67 L426.21,166.93 L426.80,165.23 L427.35,163.56 L427.87,161.91 L428.36,160.28 L428.84,158.65 L429.32,157.02 L429.80,155.38 L430.28,153.74 L430.76,152.09 L431.24,150.45 L431.70,148.81 L432.16,147.16 L432.60,145.52 L433.02,143.87 L433.43,142.23 L433.83,140.58 L434.22,138.93 L434.61,137.29 L435.00,135.64 L435.39,133.99 L435.79,132.35 L436.18,130.70 L436.56,129.05 L436.94,127.40 L437.30,125.75 L437.65,124.11 L437.99,122.46 L438.33,120.81 L438.65,119.16 L438.98,117.51 L439.30,115.85 L439.62,114.20 L439.93,112.55 L440.24,110.90 L440.55,109.25 L440.87,107.60 L441.20,105.95 L441.55,104.30 L441.91,102.65 L442.29,101.00 L442.66,99.33 L443.04,97.67 L443.40,96.00 L443.75,94.33 L444.10,92.67 L444.44,91.00 L444.79,89.33 L445.14,87.67 L445.50,86.00 L445.87,84.33 L446.26,82.67 L446.64,81.00 L447.03,79.33 L447.42,77.67 L447.80,76.00 L448.17,74.30 L448.54,72.57 L448.90,70.84 L449.26,69.14 L449.63,67.52 L450.00,66.00 L450.38,64.50 L450.76,62.98 L451.14,61.53 L451.52,60.14 L451.91,58.82 L452.30,57.55 L452.70,56.34 L453.12,55.19 L453.54,54.11 L453.96,53.09 L454.35,52.14 L454.70,51.25 L455.01,50.44 L455.29,49.70 L455.54,49.02 L455.79,48.41 L456.04,47.85 L456.30,47.35 L456.58,46.90 L456.86,46.50 L457.14,46.16 L457.43,46.06 L457.72,46.07 L458.00,46.14 L458.28,46.27 L458.57,46.47 L458.86,46.73 L459.14,47.05 L459.42,47.43 L459.70,47.85 L459.97,48.32 L460.22,48.83 L460.48,49.40 L460.73,50.03 L461.01,50.74 L461.30,51.53 L461.62,52.42 L461.97,53.42 L462.33,54.46 L462.70,55.50 L463.06,56.56 L463.40,57.62 L463.73,58.65 L464.04,59.66 L464.35,60.70 L464.66,61.79 L464.97,62.98 L465.30,64.31 L465.64,65.81 L465.99,67.45 L466.34,69.20 L466.70,70.99 L467.05,72.78 L467.40,74.52 L467.74,76.22 L468.06,77.92 L468.39,79.62 L468.71,81.32 L469.05,83.02 L469.40,84.72 L469.77,86.42 L470.15,88.13 L470.54,89.83 L470.93,91.54 L471.32,93.25 L471.70,94.95 L472.07,96.65 L472.45,98.33 L472.82,100.00 L473.18,101.67 L473.54,103.33 L473.87,105.00 L474.19,106.67 L474.49,108.33 L474.78,110.00 L475.06,111.67 L475.35,113.33 L475.64,115.00 L475.94,116.68 L476.25,118.37 L476.56,120.06 L476.87,121.74 L477.18,123.39 L477.50,125.00 L477.82,126.59 L478.15,128.16 L478.47,129.71 L478.80,131.21 L479.13,132.65 L479.45,134.00 L479.78,135.24 L480.11,136.39 L480.44,137.46 L480.76,138.50 L481.09,139.54 L481.41,140.60 L481.72,141.60 L482.03,142.57 L482.33,143.53 L482.64,144.48 L482.94,145.39 L483.26,146.25 L483.58,147.07 L483.92,147.87 L484.25,148.63 L484.59,149.35 L484.91,150.01 L485.21,150.62 L485.48,151.16 L485.73,151.67 L485.97,152.11 L486.21,152.50 L486.44,152.83 L486.67,153.09 L486.90,153.29 L487.12,153.43 L487.34,153.52 L487.57,153.60 L487.79,153.60 L488.03,153.53 L488.28,153.36 L488.55,153.11 L488.82,152.78 L489.09,152.39 L489.35,151.95 L489.59,151.47 L489.82,150.91 L490.03,150.25 L490.23,149.54 L490.43,148.84 L490.64,148.18 L490.86,147.64 L491.09,147.14 L491.34,146.64 L491.59,146.19 L491.84,145.86 L492.09,145.70 L492.32,145.87 L492.55,146.41 L492.77,147.18 L492.98,148.12 L493.19,149.19 L493.39,150.31 L493.59,151.43 L493.78,152.59 L493.96,153.84 L494.14,155.15 L494.31,156.49 L494.49,157.84 L494.66,159.17 L494.84,160.48 L495.00,161.80 L495.17,163.12 L495.34,164.46 L495.53,165.82 L495.74,167.20 L495.96,168.61 L496.21,170.05 L496.47,171.51 L496.74,172.99 L497.02,174.47 L497.30,175.97 L497.57,177.49 L497.84,179.04 L498.12,180.59 L498.41,182.04 L498.72,183.45 L499.05,184.81 L499.40,186.05 L499.77,187.19 L500.15,188.28 L500.56,189.42 L501.00,190.66 L501.49,192.09 L502.02,193.72 L502.57,195.50 L503.16,197.40 L503.79,199.36 L504.48,201.33 L505.24,203.28 L506.08,205.27 L507.00,207.21 L507.97,209.14 L508.99,210.96 L510.02,212.54 L511.06,213.76 L512.14,214.55 L513.29,214.99 L514.45,215.20 L515.60,215.28 L516.68,215.30 L517.67,215.40 L518.56,215.60 L519.38,215.79 L520.14,215.97 L520.86,216.12 L521.54,216.24 L522.21,216.30 L522.84,216.34 L523.41,216.38 L523.95,216.38 L524.48,216.30 L525.05,216.12 L525.67,215.80 L526.33,215.21 L527.03,214.51 L527.74,213.70 L528.49,212.77 L529.28,211.72 L530.11,210.54 L531.01,209.11 L532.00,207.41 L533.02,205.60 L534.03,203.82 L534.99,202.20 L535.85,200.88 L536.58,199.83 L537.21,198.93 L537.79,198.19 L538.35,197.61 L538.95,197.20 L539.61,196.97 L540.34,196.94 L541.12,197.24 L541.93,197.74 L542.75,198.38 L543.56,199.11 L544.36,199.90 L545.14,200.83 L545.92,201.95 L546.69,203.16 L547.46,204.37 L548.23,205.49 L549.01,206.40 L549.82,207.13 L550.65,207.77 L551.49,208.30 L552.30,208.73 L553.07,209.07 L553.77,209.30 L554.39,209.41 L554.95,209.40 L555.47,209.29 L555.96,209.11 L556.41,208.87 L556.84,208.60 L557.23,208.30 L557.57,207.94 L557.88,207.54 L558.18,207.08 L558.49,206.57 L558.82,206.00 L559.17,205.37 L559.53,204.68 L559.90,203.93 L560.27,203.14 L560.64,202.25 L561.00,201.33 L561.35,200.43 L561.68,199.56 L562.02,198.66 L562.36,197.69 L562.72,196.58 L563.10,195.30 L563.52,193.79 L563.98,192.08 L564.45,190.24 L564.92,188.34 L565.38,186.45 L565.80,184.63 L566.19,182.86 L566.57,181.10 L566.93,179.34 L567.27,177.59 L567.60,175.84 L567.90,174.10 L568.18,172.48 L568.43,171.00 L568.66,169.53 L568.88,167.93 L569.09,166.05 L569.30,163.75 L569.50,160.95 L569.68,157.73 L569.85,154.24 L570.02,150.61 L570.20,146.97 L570.40,143.48 L570.61,140.09 L570.84,136.70 L571.07,133.31 L571.31,129.91 L571.56,126.52 L571.80,123.13 L572.04,119.85 L572.28,116.71 L572.52,113.45 L572.77,110.03 L573.03,106.33 L573.30,102.20 L573.60,97.29 L573.93,91.66 L574.27,85.74 L574.60,79.97 L574.92,74.81 L575.20,70.68 L575.44,67.71 L575.65,65.56 L575.84,64.00 L576.03,62.83 L576.21,61.81 L576.40,60.72 L576.60,59.59 L576.80,58.60 L577.00,57.77 L577.20,57.10 L577.40,56.79 L577.60,56.84 L577.80,57.11 L578.00,57.58 L578.20,58.24 L578.40,59.08 L578.60,60.07 L578.80,61.20 L579.00,62.47 L579.21,63.89 L579.42,65.47 L579.62,67.21 L579.82,69.10 L580.00,71.16 L580.17,73.45 L580.32,75.97 L580.47,78.66 L580.61,81.43 L580.75,84.19 L580.90,86.88 L581.04,89.44 L581.18,91.92 L581.32,94.40 L581.46,96.96 L581.62,99.67 L581.80,102.60 L582.00,105.81 L582.23,109.24 L582.47,112.75 L582.71,116.30 L582.96,119.86 L583.20,123.34 L583.42,126.75 L583.63,130.17 L583.84,133.58 L584.07,137.00 L584.31,140.42 L584.60,143.86 L584.93,147.32 L585.29,150.79 L585.67,154.27 L586.08,157.75 L586.49,161.24 L586.90,164.72 L587.32,168.35 L587.76,172.14 L588.20,175.93 L588.64,179.56 L589.08,182.87 L589.50,185.70 L589.89,187.95 L590.25,189.72 L590.61,191.08 L590.97,192.24 L591.36,193.37 L591.80,194.59 L592.29,195.93 L592.83,197.29 L593.40,198.60 L593.98,199.83 L594.55,200.91 L595.10,201.79 L595.63,202.46 L596.15,202.95 L596.66,203.30 L597.17,203.53 L597.69,203.68 L598.20,203.77 L598.72,203.79 L599.26,203.72 L599.79,203.55 L600.31,203.31 L600.82,202.91 L601.30,202.47 L601.76,201.97 L602.20,201.42 L602.63,200.80 L603.04,200.13 L603.43,199.41 L603.80,198.63 L604.15,197.80 L604.47,196.91 L604.77,195.97 L605.06,194.98 L605.33,193.96 L605.60,192.89 L605.85,191.93 L606.08,191.09 L606.29,190.21 L606.51,189.12 L606.74,187.68 L607.00,185.71 L607.30,182.97 L607.63,179.55 L607.97,175.76 L608.31,171.94 L608.63,168.39 L608.90,165.45 L609.12,163.18 L609.30,161.33 L609.46,159.75 L609.60,158.32 L609.74,156.89 L609.90,155.32 L610.07,153.63 L610.24,151.94 L610.42,150.25 L610.59,148.56 L610.75,146.87 L610.90,145.19 L611.03,143.62 L611.13,142.19 L611.23,140.77 L611.33,139.20 L611.45,137.36 L611.60,135.09 L611.79,132.20 L612.02,128.74 L612.27,125.00 L612.51,121.17 L612.73,117.61 L612.90,114.64 L613.02,112.33 L613.09,110.45 L613.14,108.87 L613.18,107.44 L613.23,106.00 L613.30,104.40 L613.39,102.79 L613.49,101.32 L613.59,99.85 L613.71,98.23 L613.85,96.32 L614.00,93.98 L614.18,91.06 L614.39,87.63 L614.62,83.92 L614.85,80.14 L615.08,76.49 L615.30,73.20 L615.50,70.21 L615.70,67.34 L615.90,64.62 L616.10,62.05 L616.30,59.66 L616.50,57.48 L616.71,55.38 L616.93,53.31 L617.15,51.43 L617.37,49.95 L617.59,49.12 L617.80,48.90 L618.01,49.38 L618.22,50.46 L618.42,52.01 L618.63,53.88 L618.82,55.93 L619.00,58.02 L619.16,60.18 L619.31,62.53 L619.44,65.06 L619.58,67.75 L619.73,70.59 L619.90,73.56 L620.10,76.84 L620.32,80.48 L620.55,84.26 L620.78,87.98 L621.00,91.41 L621.20,94.34 L621.37,96.69 L621.53,98.61 L621.68,100.25 L621.82,101.75 L621.96,103.25 L622.10,104.88 L622.24,106.63 L622.36,108.34 L622.49,110.02 L622.61,111.71 L622.75,113.39 L622.90,115.07 L623.07,116.76 L623.24,118.45 L623.43,120.14 L623.62,121.83 L623.81,123.52 L624.00,125.21 L624.18,126.88 L624.36,128.52 L624.54,130.16 L624.73,131.82 L624.91,133.54 L625.10,135.35 L625.29,137.28 L625.48,139.32 L625.67,141.42 L625.87,143.52 L626.08,145.57 L626.30,147.50 L626.53,149.37 L626.78,151.23 L627.03,153.04 L627.29,154.75 L627.55,156.31 L627.80,157.69 L628.05,158.89 L628.30,159.96 L628.54,160.89 L628.79,161.66 L629.04,162.26 L629.30,162.67 L629.56,162.92 L629.82,162.99 L630.09,162.89 L630.36,162.61 L630.63,162.08 L630.90,161.37 L631.18,160.54 L631.46,159.60 L631.74,158.48 L632.03,157.14 L632.32,155.50 L632.60,153.51 L632.88,151.08 L633.16,148.24 L633.44,145.11 L633.73,141.80 L634.01,138.44 L634.30,135.14 L634.60,131.66 L634.91,127.85 L635.22,123.98 L635.53,120.33 L635.82,117.17 L636.10,114.76 L636.35,113.20 L636.59,112.30 L636.81,111.89 L637.03,111.79 L637.26,111.84 L637.50,111.94 L637.76,112.03 L638.02,112.24 L638.29,112.60 L638.57,113.13 L638.84,113.87 L639.10,114.84 L639.35,116.12 L639.60,117.72 L639.85,119.52 L640.10,121.42 L640.35,123.32 L640.60,125.12 L640.86,126.87 L641.13,128.68 L641.39,130.49 L641.66,132.24 L641.93,133.90 L642.20,135.42 L642.46,136.76 L642.70,137.98 L642.94,139.09 L643.20,140.14 L643.48,141.17 L643.80,142.22 L644.16,143.27 L644.57,144.29 L644.99,145.29 L645.43,146.24 L645.87,147.12 L646.30,148.00 L646.71,148.83 L647.11,149.61 L647.52,150.38 L647.93,151.17 L648.35,152.03 L648.80,153.00 L649.27,154.07 L649.74,155.20 L650.24,156.41 L650.74,157.69 L651.27,159.05 L651.80,160.50 L652.35,162.02 L652.92,163.59 L653.50,165.24 L654.09,167.01 L654.69,168.92 L655.30,171.00 L655.93,173.33 L656.57,175.90 L657.23,178.62 L657.88,181.37 L658.51,184.07 L659.10,186.60 L659.65,188.97 L660.18,191.24 L660.68,193.46 L661.17,195.64 L661.64,197.82 L662.10,200.00 L662.57,202.34 L663.06,204.84 L663.54,207.34 L663.97,209.64 L664.33,211.59 L664.60,213.00 L664.60,239.07 L664.33,237.69 L663.97,235.78 L663.54,233.51 L663.06,231.07 L662.57,228.61 L662.10,226.32 L661.64,224.18 L661.17,222.06 L660.68,219.92 L660.18,217.76 L659.65,215.53 L659.10,213.22 L658.51,210.75 L657.88,208.12 L657.23,205.43 L656.57,202.78 L655.93,200.27 L655.30,198.00 L654.69,195.98 L654.09,194.13 L653.50,192.42 L652.92,190.83 L652.35,189.31 L651.80,187.85 L651.27,186.45 L650.74,185.14 L650.24,183.91 L649.74,182.76 L649.27,181.67 L648.80,180.65 L648.35,179.72 L647.93,178.90 L647.52,178.15 L647.11,177.43 L646.71,176.69 L646.30,175.90 L645.87,175.07 L645.43,174.23 L644.99,173.34 L644.57,172.43 L644.16,171.48 L643.80,170.50 L643.48,169.52 L643.20,168.54 L642.94,167.53 L642.70,166.46 L642.46,165.30 L642.20,164.00 L641.93,162.54 L641.66,160.93 L641.39,159.22 L641.13,157.46 L640.86,155.71 L640.60,154.00 L640.35,152.25 L640.10,150.39 L639.85,148.54 L639.60,146.79 L639.35,145.24 L639.10,144.00 L638.84,143.08 L638.57,142.39 L638.29,141.91 L638.02,141.61 L637.76,141.45 L637.50,141.40 L637.26,141.33 L637.03,141.24 L636.81,141.29 L636.59,141.65 L636.35,142.50 L636.10,144.00 L635.82,146.35 L635.53,149.45 L635.22,153.04 L634.91,156.84 L634.60,160.58 L634.30,164.00 L634.01,167.24 L633.73,170.54 L633.44,173.78 L633.16,176.85 L632.88,179.63 L632.60,182.00 L632.32,183.93 L632.03,185.51 L631.74,186.79 L631.46,187.85 L631.18,188.73 L630.90,189.50 L630.63,190.15 L630.36,190.62 L630.09,190.92 L629.82,191.05 L629.56,191.01 L629.30,190.80 L629.04,190.41 L628.79,189.84 L628.54,189.11 L628.30,188.21 L628.05,187.17 L627.80,186.00 L627.55,184.66 L627.29,183.13 L627.03,181.45 L626.78,179.67 L626.53,177.84 L626.30,176.00 L626.08,174.09 L625.87,172.07 L625.67,170.00 L625.48,167.93 L625.29,165.91 L625.10,164.00 L624.91,162.22 L624.73,160.52 L624.54,158.88 L624.36,157.26 L624.18,155.64 L624.00,154.00 L623.81,152.33 L623.62,150.67 L623.43,149.00 L623.24,147.33 L623.07,145.67 L622.90,144.00 L622.75,142.33 L622.61,140.67 L622.49,139.00 L622.36,137.33 L622.24,135.68 L622.10,134.04 L621.96,132.52 L621.82,131.13 L621.68,129.75 L621.53,128.23 L621.37,126.43 L621.20,124.22 L621.00,121.45 L620.78,118.19 L620.55,114.66 L620.32,111.06 L620.10,107.60 L619.90,104.48 L619.73,101.65 L619.58,98.93 L619.44,96.35 L619.31,93.92 L619.16,91.69 L619.00,89.66 L618.82,87.72 L618.63,85.82 L618.42,84.11 L618.22,82.73 L618.01,81.81 L617.80,81.50 L617.59,81.89 L617.37,82.90 L617.15,84.31 L616.93,86.01 L616.71,87.91 L616.50,89.84 L616.30,91.86 L616.10,94.09 L615.90,96.49 L615.70,99.07 L615.50,101.78 L615.30,104.60 L615.08,107.72 L614.85,111.18 L614.62,114.78 L614.39,118.31 L614.18,121.56 L614.00,124.34 L613.85,126.55 L613.71,128.36 L613.59,129.88 L613.49,131.27 L613.39,132.67 L613.30,134.20 L613.23,135.74 L613.18,137.14 L613.14,138.54 L613.09,140.08 L613.02,141.90 L612.90,144.12 L612.73,146.96 L612.51,150.34 L612.27,154.00 L612.02,157.69 L611.79,161.10 L611.60,163.96 L611.45,166.20 L611.33,168.03 L611.23,169.57 L611.13,170.98 L611.03,172.39 L610.90,173.93 L610.75,175.59 L610.59,177.25 L610.42,178.91 L610.24,180.56 L610.07,182.22 L609.90,183.88 L609.74,185.42 L609.60,186.83 L609.46,188.23 L609.30,189.78 L609.12,191.60 L608.90,193.83 L608.63,196.72 L608.31,200.21 L607.97,203.97 L607.63,207.69 L607.30,211.05 L607.00,213.73 L606.74,215.66 L606.51,217.06 L606.29,218.11 L606.08,218.95 L605.85,219.75 L605.60,220.66 L605.33,221.68 L605.06,222.66 L604.77,223.59 L604.47,224.48 L604.15,225.31 L603.80,226.07 L603.43,226.78 L603.04,227.43 L602.63,228.03 L602.20,228.57 L601.76,229.04 L601.30,229.45 L600.82,229.81 L600.31,230.11 L599.79,230.41 L599.26,230.64 L598.72,230.78 L598.20,230.83 L597.69,230.80 L597.17,230.71 L596.66,230.54 L596.15,230.25 L595.63,229.82 L595.10,229.21 L594.55,228.40 L593.98,227.39 L593.40,226.23 L592.83,224.99 L592.29,223.69 L591.80,222.41 L591.36,221.24 L590.97,220.16 L590.61,219.04 L590.25,217.75 L589.89,216.15 L589.50,214.10 L589.08,211.48 L588.64,208.39 L588.20,204.98 L587.76,201.41 L587.32,197.84 L586.90,194.43 L586.49,191.14 L586.08,187.86 L585.67,184.58 L585.29,181.29 L584.93,178.00 L584.60,174.71 L584.31,171.41 L584.07,168.11 L583.84,164.81 L583.63,161.50 L583.42,158.19 L583.20,154.89 L582.96,151.53 L582.71,148.10 L582.47,144.67 L582.23,141.30 L582.00,138.04 L581.80,135.00 L581.62,132.21 L581.46,129.63 L581.32,127.19 L581.18,124.81 L581.04,122.44 L580.90,120.00 L580.75,117.43 L580.61,114.78 L580.47,112.12 L580.32,109.56 L580.17,107.15 L580.00,105.00 L579.82,103.09 L579.62,101.35 L579.42,99.78 L579.21,98.36 L579.00,97.11 L578.80,96.00 L578.60,95.03 L578.40,94.20 L578.20,93.53 L578.00,93.02 L577.80,92.71 L577.60,92.60 L577.40,92.71 L577.20,93.02 L577.00,93.53 L576.80,94.20 L576.60,95.03 L576.40,96.00 L576.21,96.93 L576.03,97.81 L575.84,98.84 L575.65,100.24 L575.44,102.22 L575.20,105.00 L574.92,108.90 L574.60,113.81 L574.27,119.31 L573.93,124.96 L573.60,130.34 L573.30,135.00 L573.03,138.91 L572.77,142.41 L572.52,145.62 L572.28,148.70 L572.04,151.78 L571.80,155.00 L571.56,158.33 L571.31,161.67 L571.07,165.00 L570.84,168.33 L570.61,171.67 L570.40,175.00 L570.20,178.45 L570.02,182.04 L569.85,185.62 L569.68,189.07 L569.50,192.25 L569.30,195.00 L569.09,197.25 L568.88,199.07 L568.66,200.62 L568.43,202.04 L568.18,203.45 L567.90,205.00 L567.60,206.67 L567.27,208.33 L566.93,210.00 L566.57,211.67 L566.19,213.33 L565.80,215.00 L565.38,216.72 L564.92,218.50 L564.45,220.28 L563.98,222.00 L563.52,223.59 L563.10,225.00 L562.72,226.19 L562.36,227.20 L562.02,228.09 L561.68,228.91 L561.35,229.69 L561.00,230.50 L560.64,231.33 L560.27,232.15 L559.90,232.97 L559.53,233.76 L559.17,234.49 L558.82,235.15 L558.49,235.75 L558.18,236.29 L557.88,236.78 L557.57,237.22 L557.23,237.61 L556.84,237.95 L556.41,238.26 L555.96,238.55 L555.47,238.78 L554.95,238.94 L554.39,239.01 L553.77,238.96 L553.07,238.80 L552.30,238.54 L551.49,238.19 L550.65,237.74 L549.82,237.19 L549.01,236.54 L548.23,235.70 L547.46,234.67 L546.69,233.54 L545.92,232.40 L545.14,231.36 L544.36,230.51 L543.56,229.80 L542.75,229.15 L541.93,228.60 L541.12,228.18 L540.34,227.89 L539.61,227.65 L538.95,227.65 L538.35,227.84 L537.79,228.22 L537.21,228.75 L536.58,229.43 L535.85,230.22 L534.99,231.23 L534.03,232.51 L533.02,233.92 L532.00,235.35 L531.01,236.67 L530.11,237.75 L529.28,238.61 L528.49,239.36 L527.74,240.00 L527.03,240.53 L526.33,240.96 L525.67,241.30 L525.05,241.60 L524.48,241.76 L523.95,241.82 L523.41,241.80 L522.84,241.75 L522.21,241.68 L521.54,241.60 L520.86,241.46 L520.14,241.28 L519.38,241.08 L518.56,240.86 L517.67,240.63 L516.68,240.49 L515.60,240.45 L514.45,240.39 L513.29,240.20 L512.14,239.78 L511.06,239.01 L510.02,237.77 L508.99,236.16 L507.97,234.31 L507.00,232.35 L506.08,230.39 L505.24,228.56 L504.48,226.79 L503.79,224.98 L503.16,223.18 L502.57,221.43 L502.02,219.77 L501.49,218.27 L501.00,216.96 L500.56,215.82 L500.15,214.79 L499.77,213.78 L499.40,212.73 L499.05,211.58 L498.72,210.30 L498.41,208.96 L498.12,207.58 L497.84,206.12 L497.57,204.66 L497.30,203.23 L497.02,201.83 L496.74,200.44 L496.47,199.06 L496.21,197.69 L495.96,196.34 L495.74,195.00 L495.53,193.69 L495.34,192.39 L495.17,191.11 L495.00,189.85 L494.84,188.59 L494.66,187.33 L494.49,186.06 L494.31,184.77 L494.14,183.49 L493.96,182.25 L493.78,181.06 L493.59,179.97 L493.39,178.91 L493.19,177.86 L492.98,176.86 L492.77,175.99 L492.55,175.30 L492.32,174.83 L492.09,174.63 L491.84,174.66 L491.59,174.86 L491.34,175.19 L491.09,175.56 L490.86,175.94 L490.64,176.37 L490.43,176.92 L490.23,177.52 L490.03,178.13 L489.82,178.68 L489.59,179.12 L489.35,179.47 L489.09,179.78 L488.82,180.03 L488.55,180.23 L488.28,180.34 L488.03,180.38 L487.79,180.33 L487.57,180.21 L487.34,180.01 L487.12,179.91 L486.90,179.75 L486.67,179.53 L486.44,179.25 L486.21,178.91 L485.97,178.50 L485.73,178.03 L485.48,177.50 L485.21,176.93 L484.91,176.30 L484.59,175.61 L484.25,174.86 L483.92,174.07 L483.58,173.25 L483.26,172.40 L482.94,171.51 L482.64,170.57 L482.33,169.60 L482.03,168.61 L481.72,167.62 L481.41,166.62 L481.09,165.63 L480.76,164.66 L480.44,163.69 L480.11,162.68 L479.78,161.61 L479.45,160.44 L479.13,159.16 L478.80,157.80 L478.47,156.36 L478.15,154.88 L477.82,153.38 L477.50,151.86 L477.18,150.32 L476.87,148.74 L476.56,147.13 L476.25,145.50 L475.94,143.87 L475.64,142.26 L475.35,140.66 L475.06,139.05 L474.78,137.45 L474.49,135.84 L474.19,134.24 L473.87,132.64 L473.54,131.05 L473.18,129.46 L472.82,127.87 L472.45,126.28 L472.07,124.68 L471.70,123.05 L471.32,121.42 L470.93,119.79 L470.54,118.17 L470.15,116.54 L469.77,114.91 L469.40,113.28 L469.05,111.65 L468.71,110.02 L468.39,108.38 L468.06,106.75 L467.74,105.11 L467.40,103.48 L467.05,101.81 L466.70,100.09 L466.34,98.37 L465.99,96.70 L465.64,95.12 L465.30,93.69 L464.97,92.43 L464.66,91.30 L464.35,90.27 L464.04,89.29 L463.73,88.34 L463.40,87.38 L463.06,86.39 L462.70,85.40 L462.33,84.43 L461.97,83.55 L461.62,82.77 L461.30,82.07 L461.01,81.46 L460.73,80.91 L460.48,80.44 L460.22,80.02 L459.97,79.66 L459.70,79.35 L459.42,79.09 L459.14,78.89 L458.86,78.74 L458.57,78.65 L458.28,78.62 L458.00,78.66 L457.72,78.76 L457.43,78.92 L457.14,79.11 L456.86,79.23 L456.58,79.40 L456.30,79.63 L456.04,79.92 L455.79,80.28 L455.54,80.70 L455.29,81.17 L455.01,81.69 L454.70,82.25 L454.35,82.85 L453.96,83.49 L453.54,84.18 L453.12,84.93 L452.70,85.74 L452.30,86.63 L451.91,87.64 L451.52,88.73 L451.14,89.89 L450.76,91.11 L450.38,92.41 L450.00,93.78 L449.63,95.26 L449.26,96.85 L448.90,98.51 L448.54,100.20 L448.17,101.90 L447.80,103.56 L447.42,105.19 L447.03,106.82 L446.64,108.44 L446.26,110.07 L445.87,111.70 L445.50,113.33 L445.14,114.96 L444.79,116.59 L444.44,118.22 L444.10,119.86 L443.75,121.49 L443.40,123.12 L443.04,124.75 L442.66,126.38 L442.29,128.01 L441.91,129.67 L441.55,131.33 L441.20,133.00 L440.87,134.67 L440.55,136.33 L440.24,138.00 L439.93,139.67 L439.62,141.33 L439.30,143.00 L438.98,144.67 L438.65,146.33 L438.33,148.00 L437.99,149.67 L437.65,151.33 L437.30,153.00 L436.94,154.67 L436.56,156.33 L436.18,158.00 L435.79,159.67 L435.39,161.33 L435.00,163.00 L434.61,164.67 L434.22,166.33 L433.83,168.00 L433.43,169.67 L433.02,171.33 L432.60,173.00 L432.16,174.67 L431.70,176.33 L431.24,178.00 L430.76,179.67 L430.28,181.33 L429.80,183.00 L429.32,184.66 L428.84,186.31 L428.36,187.97 L427.87,189.63 L427.35,191.30 L426.80,193.00 L426.21,194.73 L425.60,196.50 L424.96,198.28 L424.30,200.06 L423.65,201.80 L423.00,203.50 L422.37,205.14 L421.75,206.74 L421.13,208.31 L420.49,209.86 L419.82,211.42 L419.10,213.00 L418.32,214.60 L417.49,216.23 L416.62,217.85 L415.74,219.46 L414.86,221.05 L414.00,222.60 L413.13,224.16 L412.23,225.74 L411.32,227.31 L410.45,228.79 L409.63,230.14 L408.90,231.30 L408.30,232.20 L407.83,232.87 L407.42,233.41 L406.99,233.91 L406.47,234.47 L405.80,235.20 L404.95,236.11 L403.97,237.12 L402.90,238.20 L401.79,239.30 L400.68,240.38 L399.60,241.40 L398.48,242.42 L397.27,243.49 L396.06,244.54 L394.94,245.50 L393.99,246.31 L393.30,246.90 Z" fill="#F1AFA9" stroke="none"/>
</g>
<path d="M41.00,239.00 C47.50,239.00 70.17,239.03 80.00,239.00 C89.83,238.97 95.00,238.93 100.00,238.80 C105.00,238.67 106.67,238.57 110.00,238.20 C113.33,237.83 117.17,237.13 120.00,236.60 C122.83,236.07 124.83,235.63 127.00,235.00 C129.17,234.37 130.97,233.67 133.00,232.80 C135.03,231.93 137.32,231.08 139.20,229.80 C141.08,228.52 142.78,226.73 144.30,225.10 C145.82,223.47 147.02,221.85 148.30,220.00 C149.58,218.15 150.80,216.03 152.00,214.00 C153.20,211.97 154.37,209.77 155.50,207.80 C156.63,205.83 157.95,204.08 158.80,202.20 C159.65,200.32 160.05,198.78 160.60,196.50 C161.15,194.22 161.70,191.25 162.10,188.50 C162.50,185.75 162.70,183.92 163.00,180.00 C163.30,176.08 163.65,169.67 163.90,165.00 C164.15,160.33 164.33,156.17 164.50,152.00 C164.67,147.83 164.73,145.33 164.90,140.00 C165.07,134.67 165.30,126.67 165.50,120.00 C165.70,113.33 165.87,105.83 166.10,100.00 C166.33,94.17 166.62,89.67 166.90,85.00 C167.18,80.33 167.52,76.17 167.80,72.00 C168.08,67.83 168.33,63.17 168.60,60.00 C168.87,56.83 169.12,54.63 169.40,53.00 C169.68,51.37 169.95,50.43 170.30,50.20 C170.65,49.97 171.03,49.97 171.50,51.60 C171.97,53.23 172.42,55.43 173.10,60.00 C173.78,64.57 174.72,72.33 175.60,79.00 C176.48,85.67 177.45,93.17 178.40,100.00 C179.35,106.83 180.33,113.33 181.30,120.00 C182.27,126.67 183.28,134.67 184.20,140.00 C185.12,145.33 185.90,148.00 186.80,152.00 C187.70,156.00 188.57,159.33 189.60,164.00 C190.63,168.67 191.93,175.58 193.00,180.00 C194.07,184.42 195.00,187.42 196.00,190.50 C197.00,193.58 197.95,196.62 199.00,198.50 C200.05,200.38 201.23,201.63 202.30,201.80 C203.37,201.97 204.58,201.05 205.40,199.50 C206.22,197.95 206.70,195.25 207.20,192.50 C207.70,189.75 208.07,186.00 208.40,183.00 C208.73,180.00 208.98,176.23 209.20,174.50 C209.42,172.77 209.50,172.18 209.70,172.60 C209.90,173.02 210.13,174.10 210.40,177.00 C210.67,179.90 211.00,186.17 211.30,190.00 C211.60,193.83 211.78,196.67 212.20,200.00 C212.62,203.33 213.10,206.67 213.80,210.00 C214.50,213.33 215.48,217.33 216.40,220.00 C217.32,222.67 218.18,224.33 219.30,226.00 C220.42,227.67 221.48,228.80 223.10,230.00 C224.72,231.20 226.70,232.33 229.00,233.20 C231.30,234.07 233.40,234.58 236.90,235.20 C240.40,235.82 244.90,236.45 250.00,236.90 C255.10,237.35 260.83,237.63 267.50,237.90 C274.17,238.17 281.68,238.37 290.00,238.50 C298.32,238.63 312.83,238.67 317.40,238.70" fill="none" stroke="#E8453A" stroke-width="2.2" stroke-linejoin="round"/>
<path d="M391.10,233.90 C392.15,232.98 395.32,230.35 397.40,228.40 C399.48,226.45 402.05,223.88 403.60,222.20 C405.15,220.52 405.33,220.40 406.70,218.30 C408.07,216.20 410.10,212.65 411.80,209.60 C413.50,206.55 415.40,203.18 416.90,200.00 C418.40,196.82 419.52,193.83 420.80,190.50 C422.08,187.17 423.47,183.42 424.60,180.00 C425.73,176.58 426.63,173.33 427.60,170.00 C428.57,166.67 429.53,163.33 430.40,160.00 C431.27,156.67 432.02,153.33 432.80,150.00 C433.58,146.67 434.38,143.33 435.10,140.00 C435.82,136.67 436.45,133.33 437.10,130.00 C437.75,126.67 438.32,123.33 439.00,120.00 C439.68,116.67 440.48,113.33 441.20,110.00 C441.92,106.67 442.57,103.33 443.30,100.00 C444.03,96.67 444.85,93.33 445.60,90.00 C446.35,86.67 447.05,82.90 447.80,80.00 C448.55,77.10 449.32,74.68 450.10,72.60 C450.88,70.52 451.83,68.87 452.50,67.50 C453.17,66.13 453.55,65.08 454.10,64.40 C454.65,63.72 455.23,63.37 455.80,63.40 C456.37,63.43 456.95,63.87 457.50,64.60 C458.05,65.33 458.48,66.32 459.10,67.80 C459.72,69.28 460.53,71.47 461.20,73.50 C461.87,75.53 462.43,77.25 463.10,80.00 C463.77,82.75 464.52,86.67 465.20,90.00 C465.88,93.33 466.48,96.67 467.20,100.00 C467.92,103.33 468.73,106.67 469.50,110.00 C470.27,113.33 471.10,116.67 471.80,120.00 C472.50,123.33 473.05,126.67 473.70,130.00 C474.35,133.33 475.02,136.83 475.70,140.00 C476.38,143.17 477.10,146.40 477.80,149.00 C478.50,151.60 479.23,153.43 479.90,155.60 C480.57,157.77 481.15,160.07 481.80,162.00 C482.45,163.93 483.22,165.82 483.80,167.20 C484.38,168.58 484.82,169.65 485.30,170.30 C485.78,170.95 486.20,171.28 486.70,171.10 C487.20,170.92 487.82,170.13 488.30,169.20 C488.78,168.27 489.13,166.40 489.60,165.50 C490.07,164.60 490.63,163.30 491.10,163.80 C491.57,164.30 492.00,166.55 492.40,168.50 C492.80,170.45 493.13,173.12 493.50,175.50 C493.87,177.88 494.15,180.30 494.60,182.80 C495.05,185.30 495.63,187.88 496.20,190.50 C496.77,193.12 497.28,196.08 498.00,198.50 C498.72,200.92 499.45,202.25 500.50,205.00 C501.55,207.75 502.68,211.67 504.30,215.00 C505.92,218.33 508.10,223.10 510.20,225.00 C512.30,226.90 515.02,226.02 516.90,226.40 C518.78,226.78 520.15,227.23 521.50,227.30 C522.85,227.37 523.67,227.60 525.00,226.80 C526.33,226.00 527.78,224.63 529.50,222.50 C531.22,220.37 533.70,215.95 535.30,214.00 C536.90,212.05 537.67,210.82 539.10,210.80 C540.53,210.78 542.32,212.30 543.90,213.90 C545.48,215.50 547.02,218.83 548.60,220.40 C550.18,221.97 552.08,222.93 553.40,223.30 C554.72,223.67 555.65,223.15 556.50,222.60 C557.35,222.05 557.80,221.18 558.50,220.00 C559.20,218.82 559.98,217.17 560.70,215.50 C561.42,213.83 562.00,212.58 562.80,210.00 C563.60,207.42 564.70,203.33 565.50,200.00 C566.30,196.67 567.02,193.33 567.60,190.00 C568.18,186.67 568.58,185.00 569.00,180.00 C569.42,175.00 569.68,166.67 570.10,160.00 C570.52,153.33 571.02,146.67 571.50,140.00 C571.98,133.33 572.43,128.33 573.00,120.00 C573.57,111.67 574.38,96.50 574.90,90.00 C575.42,83.50 575.70,83.07 576.10,81.00 C576.50,78.93 576.90,77.60 577.30,77.60 C577.70,77.60 578.10,78.93 578.50,81.00 C578.90,83.07 579.35,86.00 579.70,90.00 C580.05,94.00 580.30,100.00 580.60,105.00 C580.90,110.00 581.12,114.17 581.50,120.00 C581.88,125.83 582.43,133.33 582.90,140.00 C583.37,146.67 583.68,153.33 584.30,160.00 C584.92,166.67 585.78,173.33 586.60,180.00 C587.42,186.67 588.38,195.25 589.20,200.00 C590.02,204.75 590.57,205.92 591.50,208.50 C592.43,211.08 593.73,214.03 594.80,215.50 C595.87,216.97 596.87,217.22 597.90,217.30 C598.93,217.38 600.07,216.80 601.00,216.00 C601.93,215.20 602.78,214.00 603.50,212.50 C604.22,211.00 604.77,209.08 605.30,207.00 C605.83,204.92 606.15,204.50 606.70,200.00 C607.25,195.50 608.12,185.00 608.60,180.00 C609.08,175.00 609.27,173.33 609.60,170.00 C609.93,166.67 610.32,163.33 610.60,160.00 C610.88,156.67 610.97,155.00 611.30,150.00 C611.63,145.00 612.32,135.00 612.60,130.00 C612.88,125.00 612.82,123.33 613.00,120.00 C613.18,116.67 613.37,115.00 613.70,110.00 C614.03,105.00 614.58,95.83 615.00,90.00 C615.42,84.17 615.78,78.90 616.20,75.00 C616.62,71.10 617.08,66.60 617.50,66.60 C617.92,66.60 618.35,71.10 618.70,75.00 C619.05,78.90 619.23,84.17 619.60,90.00 C619.97,95.83 620.53,105.00 620.90,110.00 C621.27,115.00 621.52,116.67 621.80,120.00 C622.08,123.33 622.28,126.67 622.60,130.00 C622.92,133.33 623.33,136.67 623.70,140.00 C624.07,143.33 624.42,146.33 624.80,150.00 C625.18,153.67 625.55,158.33 626.00,162.00 C626.45,165.67 627.00,169.53 627.50,172.00 C628.00,174.47 628.48,176.22 629.00,176.80 C629.52,177.38 630.05,176.97 630.60,175.50 C631.15,174.03 631.73,172.25 632.30,168.00 C632.87,163.75 633.42,156.33 634.00,150.00 C634.58,143.67 635.27,133.77 635.80,130.00 C636.33,126.23 636.70,127.40 637.20,127.40 C637.70,127.40 638.28,127.90 638.80,130.00 C639.32,132.10 639.78,136.67 640.30,140.00 C640.82,143.33 641.37,147.25 641.90,150.00 C642.43,152.75 642.82,154.50 643.50,156.50 C644.18,158.50 645.17,160.25 646.00,162.00 C646.83,163.75 647.58,164.92 648.50,167.00 C649.42,169.08 650.42,171.50 651.50,174.50 C652.58,177.50 653.78,180.65 655.00,185.00 C656.22,189.35 657.67,195.77 658.80,200.60 C659.93,205.43 660.88,209.60 661.80,214.00 C662.72,218.40 663.88,224.83 664.30,227.00" fill="none" stroke="#E8453A" stroke-width="2.2" stroke-linejoin="round"/>
<path d="M41.00,241.90 C44.17,241.90 55.17,241.93 60.00,241.90 C64.83,241.87 67.67,241.87 70.00,241.70 C72.33,241.53 72.67,240.90 74.00,240.90 C75.33,240.90 73.67,241.55 78.00,241.70 C82.33,241.85 91.33,241.82 100.00,241.80 C108.67,241.78 123.33,241.68 130.00,241.60 C136.67,241.52 137.50,241.43 140.00,241.30 C142.50,241.17 143.73,241.08 145.00,240.80 C146.27,240.52 146.87,240.40 147.60,239.60 C148.33,238.80 148.85,237.13 149.40,236.00 C149.95,234.87 150.37,233.37 150.90,232.80 C151.43,232.23 152.03,232.40 152.60,232.60 C153.17,232.80 153.65,233.73 154.30,234.00 C154.95,234.27 155.78,234.43 156.50,234.20 C157.22,233.97 157.95,233.30 158.60,232.60 C159.25,231.90 159.82,231.60 160.40,230.00 C160.98,228.40 161.55,225.00 162.10,223.00 C162.65,221.00 163.30,220.17 163.70,218.00 C164.10,215.83 164.27,213.00 164.50,210.00 C164.73,207.00 164.88,205.00 165.10,200.00 C165.32,195.00 165.63,186.67 165.80,180.00 C165.97,173.33 166.00,166.67 166.10,160.00 C166.20,153.33 166.28,146.67 166.40,140.00 C166.52,133.33 166.68,126.67 166.80,120.00 C166.92,113.33 167.02,106.67 167.10,100.00 C167.18,93.33 167.23,86.33 167.30,80.00 C167.37,73.67 167.38,66.58 167.50,62.00 C167.62,57.42 167.82,54.57 168.00,52.50 C168.18,50.43 168.38,49.68 168.60,49.60 C168.82,49.52 169.07,50.27 169.30,52.00 C169.53,53.73 169.80,55.33 170.00,60.00 C170.20,64.67 170.35,73.33 170.50,80.00 C170.65,86.67 170.70,93.33 170.90,100.00 C171.10,106.67 171.37,113.33 171.70,120.00 C172.03,126.67 172.45,133.33 172.90,140.00 C173.35,146.67 173.85,153.33 174.40,160.00 C174.95,166.67 175.38,173.33 176.20,180.00 C177.02,186.67 178.38,195.00 179.30,200.00 C180.22,205.00 180.80,206.67 181.70,210.00 C182.60,213.33 183.65,217.37 184.70,220.00 C185.75,222.63 186.87,224.17 188.00,225.80 C189.13,227.43 190.42,228.68 191.50,229.80 C192.58,230.92 193.50,231.77 194.50,232.50 C195.50,233.23 196.42,233.82 197.50,234.20 C198.58,234.58 200.02,234.83 201.00,234.80 C201.98,234.77 202.77,234.55 203.40,234.00 C204.03,233.45 204.42,232.42 204.80,231.50 C205.18,230.58 205.33,230.25 205.70,228.50 C206.07,226.75 206.58,227.42 207.00,221.00 C207.42,214.58 207.92,206.83 208.20,190.00 C208.48,173.17 208.57,137.50 208.70,120.00 C208.82,102.50 208.88,92.57 208.95,85.00 C209.02,77.43 209.01,76.33 209.10,74.60 C209.19,72.87 209.41,72.87 209.50,74.60 C209.59,76.33 209.58,77.43 209.65,85.00 C209.72,92.57 209.76,103.33 209.90,120.00 C210.04,136.67 210.23,167.00 210.50,185.00 C210.77,203.00 211.08,219.75 211.50,228.00 C211.92,236.25 212.25,232.85 213.00,234.50 C213.75,236.15 214.50,237.02 216.00,237.90 C217.50,238.78 219.00,239.35 222.00,239.80 C225.00,240.25 226.83,240.30 234.00,240.60 C241.17,240.90 251.10,241.32 265.00,241.60 C278.90,241.88 308.67,242.18 317.40,242.30" fill="none" stroke="#3F51A2" stroke-width="1.9" stroke-linejoin="round"/>
<path d="M391.10,241.25 C392.15,240.54 395.32,238.61 397.40,237.00 C399.48,235.39 401.67,233.50 403.60,231.60 C405.53,229.70 407.27,227.62 409.00,225.60 C410.73,223.58 412.30,222.02 414.00,219.50 C415.70,216.98 417.52,213.75 419.20,210.50 C420.88,207.25 422.70,203.42 424.10,200.00 C425.50,196.58 426.50,193.33 427.60,190.00 C428.70,186.67 429.72,183.33 430.70,180.00 C431.68,176.67 432.60,173.33 433.50,170.00 C434.40,166.67 435.33,163.33 436.10,160.00 C436.87,156.67 437.45,153.33 438.10,150.00 C438.75,146.67 439.37,143.33 440.00,140.00 C440.63,136.67 441.27,133.33 441.90,130.00 C442.53,126.67 443.17,123.33 443.80,120.00 C444.43,116.67 445.08,113.33 445.70,110.00 C446.32,106.67 446.95,103.33 447.50,100.00 C448.05,96.67 448.53,93.33 449.00,90.00 C449.47,86.67 449.88,83.00 450.30,80.00 C450.72,77.00 451.07,74.50 451.50,72.00 C451.93,69.50 452.32,67.42 452.90,65.00 C453.48,62.58 454.27,59.70 455.00,57.50 C455.73,55.30 456.48,53.15 457.30,51.80 C458.12,50.45 459.03,49.40 459.90,49.40 C460.77,49.40 461.68,50.37 462.50,51.80 C463.32,53.23 464.15,55.80 464.80,58.00 C465.45,60.20 465.88,62.67 466.40,65.00 C466.92,67.33 467.42,69.50 467.90,72.00 C468.38,74.50 468.73,77.00 469.30,80.00 C469.87,83.00 470.63,86.67 471.30,90.00 C471.97,93.33 472.62,96.67 473.30,100.00 C473.98,103.33 474.70,106.67 475.40,110.00 C476.10,113.33 476.80,116.92 477.50,120.00 C478.20,123.08 478.90,126.08 479.60,128.50 C480.30,130.92 480.97,132.95 481.70,134.50 C482.43,136.05 483.23,137.80 484.00,137.80 C484.77,137.80 485.58,136.80 486.30,134.50 C487.02,132.20 487.70,128.08 488.30,124.00 C488.90,119.92 489.37,113.75 489.90,110.00 C490.43,106.25 490.98,102.17 491.50,101.50 C492.02,100.83 492.48,102.92 493.00,106.00 C493.52,109.08 494.12,114.33 494.60,120.00 C495.08,125.67 495.50,133.33 495.90,140.00 C496.30,146.67 496.60,154.17 497.00,160.00 C497.40,165.83 497.70,170.58 498.30,175.00 C498.90,179.42 499.82,182.83 500.60,186.50 C501.38,190.17 502.20,193.92 503.00,197.00 C503.80,200.08 504.57,202.50 505.40,205.00 C506.23,207.50 507.05,210.00 508.00,212.00 C508.95,214.00 510.07,215.25 511.10,217.00 C512.13,218.75 513.13,221.07 514.20,222.50 C515.27,223.93 516.28,224.88 517.50,225.60 C518.72,226.32 520.08,226.63 521.50,226.80 C522.92,226.97 524.53,226.93 526.00,226.60 C527.47,226.27 529.22,225.73 530.30,224.80 C531.38,223.87 531.80,222.30 532.50,221.00 C533.20,219.70 533.87,218.23 534.50,217.00 C535.13,215.77 535.75,214.35 536.30,213.60 C536.85,212.85 537.30,212.50 537.80,212.50 C538.30,212.50 538.82,212.93 539.30,213.60 C539.78,214.27 540.10,215.35 540.70,216.50 C541.30,217.65 541.58,218.55 542.90,220.50 C544.22,222.45 546.85,226.02 548.60,228.20 C550.35,230.38 551.92,232.37 553.40,233.60 C554.88,234.83 556.23,235.53 557.50,235.60 C558.77,235.67 559.83,235.10 561.00,234.00 C562.17,232.90 563.50,230.58 564.50,229.00 C565.50,227.42 566.25,226.00 567.00,224.50 C567.75,223.00 568.33,222.25 569.00,220.00 C569.67,217.75 570.33,214.33 571.00,211.00 C571.67,207.67 572.30,205.17 573.00,200.00 C573.70,194.83 574.50,186.67 575.20,180.00 C575.90,173.33 576.68,165.00 577.20,160.00 C577.72,155.00 577.93,152.40 578.30,150.00 C578.67,147.60 579.02,145.60 579.40,145.60 C579.78,145.60 580.17,147.60 580.60,150.00 C581.03,152.40 581.38,155.00 582.00,160.00 C582.62,165.00 583.47,173.33 584.30,180.00 C585.13,186.67 586.05,193.33 587.00,200.00 C587.95,206.67 588.97,214.92 590.00,220.00 C591.03,225.08 592.12,227.92 593.20,230.50 C594.28,233.08 595.40,234.42 596.50,235.50 C597.60,236.58 598.72,237.00 599.80,237.00 C600.88,237.00 601.97,236.58 603.00,235.50 C604.03,234.42 605.10,232.42 606.00,230.50 C606.90,228.58 607.78,225.75 608.40,224.00 C609.02,222.25 609.20,222.33 609.70,220.00 C610.20,217.67 610.88,213.33 611.40,210.00 C611.92,206.67 612.32,205.00 612.80,200.00 C613.28,195.00 613.83,188.33 614.30,180.00 C614.77,171.67 615.15,158.33 615.60,150.00 C616.05,141.67 616.55,134.67 617.00,130.00 C617.45,125.33 617.87,122.00 618.30,122.00 C618.73,122.00 619.17,125.33 619.60,130.00 C620.03,134.67 620.32,141.67 620.90,150.00 C621.48,158.33 622.42,171.67 623.10,180.00 C623.78,188.33 624.42,194.33 625.00,200.00 C625.58,205.67 625.97,210.25 626.60,214.00 C627.23,217.75 628.15,220.92 628.80,222.50 C629.45,224.08 629.93,224.08 630.50,223.50 C631.07,222.92 631.62,221.75 632.20,219.00 C632.78,216.25 633.33,213.50 634.00,207.00 C634.67,200.50 635.63,188.17 636.20,180.00 C636.77,171.83 637.03,163.17 637.40,158.00 C637.77,152.83 638.07,149.00 638.40,149.00 C638.73,149.00 639.03,152.83 639.40,158.00 C639.77,163.17 640.18,174.42 640.60,180.00 C641.02,185.58 641.47,189.17 641.90,191.50 C642.33,193.83 642.78,194.25 643.20,194.00 C643.62,193.75 643.97,192.33 644.40,190.00 C644.83,187.67 645.33,186.67 645.80,180.00 C646.27,173.33 646.83,158.33 647.20,150.00 C647.57,141.67 647.67,135.67 648.00,130.00 C648.33,124.33 648.82,117.83 649.20,116.00 C649.58,114.17 649.93,117.08 650.30,119.00 C650.67,120.92 651.03,126.67 651.40,127.50 C651.77,128.33 652.15,126.58 652.50,124.00 C652.85,121.42 653.20,114.83 653.50,112.00 C653.80,109.17 654.00,107.00 654.30,107.00 C654.60,107.00 654.97,108.17 655.30,112.00 C655.63,115.83 656.05,123.67 656.30,130.00 C656.55,136.33 656.50,141.67 656.80,150.00 C657.10,158.33 657.52,169.72 658.10,180.00 C658.68,190.28 659.48,202.72 660.30,211.70 C661.12,220.68 662.28,229.02 663.00,233.90 C663.72,238.78 664.33,239.82 664.60,241.00" fill="none" stroke="#3F51A2" stroke-width="1.9" stroke-linejoin="round"/>
<path d="M40.9,40 L339.5,40 M40.9,39.1 L40.9,253.2 M40,252.3 L339.8,252.3" fill="none" stroke="#000" stroke-width="1.8"/>
<path d="M354.5,40 L666.3,40 M355,252.3 L666.3,252.3 M666.3,35.5 L666.3,253.2" fill="none" stroke="#000" stroke-width="1.8"/>
<path d="M337.2,44.6 L341.8,34.8 M352,45 L357,34.8 M337.7,256.9 L342,247.6 M352.4,257.8 L357.4,247.6" fill="none" stroke="#000" stroke-width="1.8"/>
<line x1="36.8" y1="49.9" x2="40.5" y2="49.9" stroke="#000" stroke-width="1.1"/>
<text transform="translate(33.40,53.30) scale(1,1.02)" font-size="10.9" text-anchor="end" fill="#231F20" stroke="#231F20">1.0</text>
<line x1="36.8" y1="88.4" x2="40.5" y2="88.4" stroke="#000" stroke-width="1.1"/>
<text transform="translate(33.40,91.80) scale(1,1.02)" font-size="10.9" text-anchor="end" fill="#231F20" stroke="#231F20">0.8</text>
<line x1="36.8" y1="127.0" x2="40.5" y2="127.0" stroke="#000" stroke-width="1.1"/>
<text transform="translate(33.40,130.40) scale(1,1.02)" font-size="10.9" text-anchor="end" fill="#231F20" stroke="#231F20">0.6</text>
<line x1="36.8" y1="165.5" x2="40.5" y2="165.5" stroke="#000" stroke-width="1.1"/>
<text transform="translate(33.40,168.90) scale(1,1.02)" font-size="10.9" text-anchor="end" fill="#231F20" stroke="#231F20">0.4</text>
<line x1="36.8" y1="204.1" x2="40.5" y2="204.1" stroke="#000" stroke-width="1.1"/>
<text transform="translate(33.40,207.50) scale(1,1.02)" font-size="10.9" text-anchor="end" fill="#231F20" stroke="#231F20">0.2</text>
<line x1="36.8" y1="242.6" x2="40.5" y2="242.6" stroke="#000" stroke-width="1.1"/>
<text transform="translate(33.40,246.00) scale(1,1.02)" font-size="10.9" text-anchor="end" fill="#231F20" stroke="#231F20">0.0</text>
<line x1="41.00" y1="252" x2="41.00" y2="255.8" stroke="#000" stroke-width="1.1"/>
<text transform="translate(29.27,268.30) scale(1,1.02)" font-size="10.9" text-anchor="start" fill="#231F20" stroke="#231F20">1.980</text>
<line x1="97.94" y1="252" x2="97.94" y2="255.8" stroke="#000" stroke-width="1.1"/>
<text transform="translate(83.07,268.30) scale(1,1.02)" font-size="10.9" text-anchor="start" fill="#231F20" stroke="#231F20">1.998</text>
<line x1="154.88" y1="252" x2="154.88" y2="255.8" stroke="#000" stroke-width="1.1"/>
<text transform="translate(140.46,268.30) scale(1,1.02)" font-size="10.9" text-anchor="start" fill="#231F20" stroke="#231F20">2.016</text>
<line x1="211.82" y1="252" x2="211.82" y2="255.8" stroke="#000" stroke-width="1.1"/>
<text transform="translate(196.66,268.30) scale(1,1.02)" font-size="10.9" text-anchor="start" fill="#231F20" stroke="#231F20">2.034</text>
<line x1="268.76" y1="252" x2="268.76" y2="255.8" stroke="#000" stroke-width="1.1"/>
<text transform="translate(253.96,268.30) scale(1,1.02)" font-size="10.9" text-anchor="start" fill="#231F20" stroke="#231F20">2.052</text>
<line x1="325.70" y1="252" x2="325.70" y2="255.8" stroke="#000" stroke-width="1.1"/>
<text transform="translate(311.45,268.30) scale(1,1.02)" font-size="10.9" text-anchor="start" fill="#231F20" stroke="#231F20">2.070</text>
<line x1="386.60" y1="243.8" x2="386.60" y2="255.8" stroke="#000" stroke-width="1.1"/>
<text transform="translate(368.56,268.30) scale(1,1.02)" font-size="10.9" text-anchor="start" fill="#231F20" stroke="#231F20">2.1400</text>
<line x1="442.55" y1="252" x2="442.55" y2="255.8" stroke="#000" stroke-width="1.1"/>
<text transform="translate(423.85,268.30) scale(1,1.02)" font-size="10.9" text-anchor="start" fill="#231F20" stroke="#231F20">2.1465</text>
<line x1="498.50" y1="252" x2="498.50" y2="255.8" stroke="#000" stroke-width="1.1"/>
<text transform="translate(482.35,268.30) scale(1,1.02)" font-size="10.9" text-anchor="start" fill="#231F20" stroke="#231F20">2.1530</text>
<line x1="554.45" y1="252" x2="554.45" y2="255.8" stroke="#000" stroke-width="1.1"/>
<text transform="translate(536.06,268.30) scale(1,1.02)" font-size="10.9" text-anchor="start" fill="#231F20" stroke="#231F20">2.1595</text>
<line x1="610.40" y1="252" x2="610.40" y2="255.8" stroke="#000" stroke-width="1.1"/>
<text transform="translate(593.46,268.30) scale(1,1.02)" font-size="10.9" text-anchor="start" fill="#231F20" stroke="#231F20">2.1660</text>
<line x1="666.30" y1="252" x2="666.30" y2="255.8" stroke="#000" stroke-width="1.1"/>
<text transform="translate(647.96,268.30) scale(1,1.02)" font-size="10.9" text-anchor="start" fill="#231F20" stroke="#231F20">2.1725</text>
<line x1="57.50" y1="36" x2="57.50" y2="40" stroke="#000" stroke-width="1.1"/>
<text transform="translate(50.14,30.45) scale(1,1.02)" font-size="10.9" text-anchor="start" fill="#231F20" stroke="#231F20">625</text>
<line x1="109.80" y1="36" x2="109.80" y2="40" stroke="#000" stroke-width="1.1"/>
<text transform="translate(100.34,30.45) scale(1,1.02)" font-size="10.9" text-anchor="start" fill="#231F20" stroke="#231F20">620</text>
<line x1="162.10" y1="36" x2="162.10" y2="40" stroke="#000" stroke-width="1.1"/>
<text transform="translate(152.94,30.45) scale(1,1.02)" font-size="10.9" text-anchor="start" fill="#231F20" stroke="#231F20">615</text>
<line x1="214.40" y1="36" x2="214.40" y2="40" stroke="#000" stroke-width="1.1"/>
<text transform="translate(204.54,30.45) scale(1,1.02)" font-size="10.9" text-anchor="start" fill="#231F20" stroke="#231F20">610</text>
<line x1="266.70" y1="36" x2="266.70" y2="40" stroke="#000" stroke-width="1.1"/>
<text transform="translate(255.64,30.45) scale(1,1.02)" font-size="10.9" text-anchor="start" fill="#231F20" stroke="#231F20">605</text>
<line x1="319.00" y1="36" x2="319.00" y2="40" stroke="#000" stroke-width="1.1"/>
<text transform="translate(309.84,30.45) scale(1,1.02)" font-size="10.9" text-anchor="start" fill="#231F20" stroke="#231F20">600</text>
<line x1="386.40" y1="36" x2="386.40" y2="42.5" stroke="#000" stroke-width="1.1"/>
<text transform="translate(369.26,30.45) scale(1,1.02)" font-size="10.9" text-anchor="start" fill="#231F20" stroke="#231F20">579.788</text>
<line x1="442.40" y1="36" x2="442.40" y2="40" stroke="#000" stroke-width="1.1"/>
<text transform="translate(426.46,30.45) scale(1,1.02)" font-size="10.9" text-anchor="start" fill="#231F20" stroke="#231F20">578.053</text>
<line x1="498.40" y1="36" x2="498.40" y2="40" stroke="#000" stroke-width="1.1"/>
<text transform="translate(480.66,30.45) scale(1,1.02)" font-size="10.9" text-anchor="start" fill="#231F20" stroke="#231F20">576.318</text>
<line x1="554.40" y1="36" x2="554.40" y2="40" stroke="#000" stroke-width="1.1"/>
<text transform="translate(536.26,30.45) scale(1,1.02)" font-size="10.9" text-anchor="start" fill="#231F20" stroke="#231F20">574.583</text>
<line x1="610.40" y1="36" x2="610.40" y2="40" stroke="#000" stroke-width="1.1"/>
<text transform="translate(593.46,30.45) scale(1,1.02)" font-size="10.9" text-anchor="start" fill="#231F20" stroke="#231F20">572.849</text>
<line x1="666.30" y1="36" x2="666.30" y2="40" stroke="#000" stroke-width="1.1"/>
<text transform="translate(647.26,30.45) scale(1,1.02)" font-size="10.9" text-anchor="start" fill="#231F20" stroke="#231F20">571.114</text>
<text transform="translate(306.56,7.70) scale(1,1.02)" font-size="10.9" text-anchor="start" fill="#231F20" stroke="#231F20">Wavelength (nm)</text>
<text transform="translate(324.61,285.80) scale(1,1.02)" font-size="10.9" text-anchor="start" fill="#231F20" stroke="#231F20">Energy (eV)</text>
<text transform="translate(8.4,139.1) rotate(-90) scale(1,1.02)" text-anchor="middle" font-size="10.95" fill="#231F20" stroke="#231F20">Normalized Counts (a.u)</text>
<text transform="translate(67.91,112.90) scale(1,1.02)" font-size="10.9" text-anchor="start" fill="#231F20" stroke="#231F20">Phonon assisted</text>
<text transform="translate(68.64,125.80) scale(1,1.02)" font-size="10.9" text-anchor="start" fill="#231F20" stroke="#231F20">transition, Γ</text>
<text transform="translate(127.00,122.20) scale(1,0.8)" font-size="6.2" text-anchor="start" fill="#231F20" stroke="#231F20">3-</text>
<text transform="translate(67.21,196.90) scale(1,1.02)" font-size="10.9" text-anchor="start" fill="#231F20" stroke="#231F20">Phonon assisted</text>
<text transform="translate(67.94,209.80) scale(1,1.02)" font-size="10.9" text-anchor="start" fill="#231F20" stroke="#231F20">transition, Γ</text>
<text transform="translate(126.30,206.20) scale(1,0.8)" font-size="6.2" text-anchor="start" fill="#231F20" stroke="#231F20">4-</text>
<line x1="137.1" y1="124.2" x2="153.6" y2="124.2" stroke="#92278F" stroke-width="1.6"/>
<path d="M159.6,124.2 L150.4,119.5 L152.2,124.2 L150.4,128.9 Z" fill="#92278F"/>
<line x1="110.1" y1="217.4" x2="130.8" y2="217.4" stroke="#92278F" stroke-width="1.6"/>
<path d="M136.8,217.4 L127.60000000000001,212.70000000000002 L129.4,217.4 L127.60000000000001,222.1 Z" fill="#92278F"/>
<text transform="translate(215.27,118.70) scale(1,1.02)" font-size="10.9" text-anchor="start" fill="#F7941D" stroke="#F7941D">1s orthoexciton</text>
<text transform="translate(374.97,65.80) scale(1,1.02)" font-size="10.9" text-anchor="start" fill="#231F20" stroke="#231F20">10X</text>
<text transform="translate(429.56,61.40) scale(1,1.02)" font-size="10.9" text-anchor="start" fill="#F7941D" stroke="#F7941D">2p</text>
<text transform="translate(485.90,61.30) scale(1,1.02)" font-size="10.9" text-anchor="start" fill="#F7941D" stroke="#F7941D">Yellow <tspan font-style="italic">n</tspan>p series</text>
<text transform="translate(480.87,93.90) scale(1,1.02)" font-size="10.9" text-anchor="start" fill="#1AA54B" stroke="#1AA54B">1sg</text>
<text transform="translate(528.79,189.00) scale(1,1.02)" font-size="10.9" text-anchor="start" fill="#F7941D" stroke="#F7941D">3s-d</text>
<text transform="translate(556.39,85.60) scale(1,1.02)" font-size="10.9" text-anchor="start" fill="#F7941D" stroke="#F7941D">3p</text>
<text transform="translate(600.25,73.60) scale(1,1.02)" font-size="10.9" text-anchor="start" fill="#F7941D" stroke="#F7941D">4p</text>
<text transform="translate(623.76,122.70) scale(1,1.02)" font-size="10.9" text-anchor="start" fill="#F7941D" stroke="#F7941D">5p</text>
<text transform="translate(639.84,111.20) scale(1,1.02)" font-size="10.9" text-anchor="start" fill="#F7941D" stroke="#F7941D">6p</text>
<text transform="translate(649.04,101.30) scale(1,1.02)" font-size="10.9" text-anchor="start" fill="#F7941D" stroke="#F7941D">7p</text>
</svg>
</body></html>
